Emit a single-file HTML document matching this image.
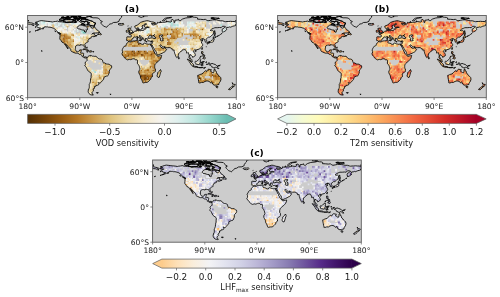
<!DOCTYPE html><html><head><meta charset="utf-8"><style>html,body{margin:0;padding:0;background:#fff;}svg{display:block}</style></head><body>
<svg width="500" height="297" viewBox="0 0 500 297" font-family="'DejaVu Sans','Liberation Sans',sans-serif">
<defs>
<path id="land" d="M7.0 8.5L8.1 8.1L10.1 7.7L9.3 7.3L7.7 6.9L9.9 6.2L11.6 5.6L13.6 5.1L16.2 5.4L18.3 5.7L20.3 5.9L22.6 6.1L24.9 6.5L26.1 6.2L27.8 6.0L30.1 5.6L31.3 6.2L32.5 6.2L34.8 6.5L37.1 6.6L39.4 7.1L41.7 6.9L44.1 7.0L46.4 7.2L48.1 7.0L49.0 6.2L49.9 4.8L51.0 5.1L52.2 6.5L53.3 6.9L55.1 6.2L56.8 6.2L57.1 7.3L55.7 7.9L54.5 8.0L54.2 9.1L53.3 9.4L51.8 9.8L50.7 10.6L49.7 11.7L49.7 12.4L50.7 13.5L52.2 13.5L53.9 14.2L55.1 14.5L56.6 14.6L56.7 15.9L57.7 16.7L58.6 16.6L58.6 15.3L59.7 14.4L60.0 13.2L59.4 12.0L59.4 11.4L59.1 10.4L60.9 10.4L62.0 10.5L63.2 11.0L63.8 12.4L65.2 12.7L66.7 11.6L67.0 11.5L68.1 12.9L68.7 14.1L70.7 15.1L71.3 15.9L71.9 16.7L70.7 16.9L69.6 17.5L67.8 17.4L66.1 17.5L64.9 18.0L64.1 18.7L64.9 18.3L66.1 18.1L67.1 18.3L66.7 19.1L67.0 19.8L68.4 20.1L69.6 19.9L69.0 20.4L67.5 20.8L66.1 21.4L66.1 20.6L65.5 20.7L64.6 21.0L63.7 21.3L63.4 22.0L63.8 22.4L63.2 22.7L62.3 22.8L61.5 23.1L61.5 23.8L60.9 24.1L60.6 24.7L60.3 25.2L60.5 25.8L60.6 26.3L60.0 26.6L59.2 27.0L58.6 27.4L57.7 28.0L57.2 28.7L57.2 29.1L57.6 30.3L57.9 31.4L57.9 31.8L57.7 32.2L57.4 32.2L56.9 31.6L56.4 30.6L56.3 29.9L55.7 29.4L54.8 29.5L53.6 29.2L52.5 29.2L52.6 29.9L51.9 29.9L51.0 29.6L49.9 29.6L49.3 29.8L48.0 30.7L47.9 31.7L47.8 32.9L47.7 34.1L48.0 34.6L48.6 35.7L49.6 36.3L51.0 36.1L51.7 35.6L51.9 34.6L53.3 34.3L53.9 34.3L53.6 35.2L53.5 36.2L53.2 36.7L53.1 37.6L53.9 37.7L55.7 37.6L56.1 38.2L55.9 39.3L55.9 40.5L56.2 41.1L57.1 41.7L58.3 41.3L59.2 41.8L59.5 42.1L59.2 42.7L58.8 42.1L58.0 42.7L57.7 42.2L57.1 42.3L56.2 42.1L55.7 41.4L54.6 41.1L54.7 40.5L54.0 39.6L53.6 39.3L52.8 39.0L51.6 38.8L50.4 37.7L49.3 37.6L48.1 37.7L46.4 37.1L45.2 36.5L44.3 36.2L43.2 35.2L43.3 34.3L42.7 33.3L41.7 32.3L40.9 31.3L40.0 30.6L39.1 29.5L38.6 28.8L37.8 28.3L38.0 29.2L38.6 29.9L39.4 31.1L40.0 32.0L40.3 32.8L40.6 33.5L40.3 33.2L39.4 32.4L39.3 31.5L38.3 30.8L38.1 30.1L37.3 29.2L36.6 28.2L36.4 27.8L35.7 27.0L34.4 26.7L33.7 25.5L33.3 24.8L32.6 24.1L32.2 23.3L32.3 21.7L32.5 19.8L32.1 18.6L33.0 18.6L33.3 18.2L32.2 17.5L31.6 17.3L30.7 17.0L30.1 16.4L29.3 15.6L28.7 15.0L28.1 14.4L27.2 13.5L26.4 12.8L25.5 12.6L24.6 12.3L23.5 11.9L22.3 11.7L20.9 11.7L19.7 11.3L18.6 11.4L17.4 11.2L16.5 11.6L16.5 12.2L15.1 12.6L14.2 13.0L13.3 13.5L12.5 13.9L11.6 14.2L10.4 14.7L8.8 15.0L9.9 14.5L11.0 14.0L12.2 13.2L13.0 12.6L12.5 12.4L11.3 12.4L10.4 11.8L9.0 11.4L8.5 10.9L8.7 10.3L9.0 9.9L10.4 9.7L11.1 9.2L11.0 9.0L9.9 9.1L8.7 9.1L7.8 8.9L7.0 8.5ZM59.5 42.1L59.8 41.9L60.3 41.4L60.6 40.8L61.3 40.4L62.0 40.3L62.6 39.7L63.0 39.9L62.8 40.5L63.2 40.7L63.8 40.2L64.8 40.7L66.1 40.7L67.2 40.9L68.4 40.7L69.0 41.2L69.6 42.0L70.1 42.6L70.7 43.0L71.9 43.5L73.0 43.6L74.2 44.0L74.8 44.6L75.1 45.8L75.4 46.7L75.7 47.3L76.2 47.6L77.1 47.4L78.6 48.4L80.0 48.6L81.5 48.7L82.0 49.1L82.9 49.8L83.9 50.2L84.1 51.4L83.9 52.3L83.2 53.1L82.6 54.0L81.9 54.6L81.7 55.8L81.7 57.2L81.3 58.1L80.9 59.0L80.6 59.9L80.0 60.4L79.1 60.5L78.3 60.9L77.4 61.1L76.5 61.8L76.2 62.5L76.1 63.7L75.5 64.3L75.1 64.9L74.5 65.5L73.9 66.3L73.3 66.9L72.5 67.5L71.9 67.5L71.2 67.2L70.5 67.2L71.1 67.8L71.3 68.3L71.0 69.3L70.1 69.7L68.4 69.9L68.2 70.8L67.2 71.0L66.7 71.0L67.0 71.9L67.4 72.1L66.7 72.3L66.4 73.4L65.2 74.3L66.1 75.2L64.9 76.3L64.3 77.2L64.6 77.8L64.6 78.7L65.8 79.3L64.9 79.6L63.8 79.4L62.6 79.0L61.5 78.1L60.9 77.2L60.6 76.3L60.6 75.2L61.2 74.3L60.6 74.3L61.5 72.8L61.7 71.9L61.7 71.0L61.7 69.9L61.6 69.0L62.0 68.6L62.3 67.8L62.8 66.3L62.9 64.6L63.0 63.4L63.5 62.2L63.5 60.8L63.7 58.7L63.6 57.8L62.6 57.0L61.5 56.2L60.6 55.5L60.1 54.9L59.7 54.0L59.1 52.8L58.6 51.7L58.0 51.1L57.4 50.5L57.2 49.6L57.9 49.0L58.0 48.7L57.7 48.1L57.4 47.6L58.0 46.4L58.7 45.9L59.4 45.2L59.5 44.7L59.4 43.2L59.1 42.6L59.5 42.1ZM100.9 26.0L102.0 26.3L103.2 26.4L104.3 26.0L105.2 25.5L106.1 25.4L107.2 25.4L108.4 25.2L109.6 25.1L110.3 25.1L110.7 25.2L110.4 25.7L110.6 26.1L110.1 26.8L110.4 27.3L111.0 27.5L111.9 27.7L113.2 28.0L113.6 28.6L114.8 28.9L115.4 29.2L115.9 28.8L115.9 28.2L116.5 27.7L117.1 27.7L117.7 27.9L118.3 28.2L118.8 28.4L120.0 28.6L121.2 28.8L121.7 28.7L122.6 28.5L123.1 28.6L123.2 29.4L123.3 29.7L123.8 30.8L124.4 31.7L124.9 32.9L125.5 34.1L126.0 34.6L125.9 35.5L126.7 36.4L127.2 37.8L127.8 38.5L128.4 39.0L129.4 40.2L129.9 40.8L130.4 40.9L131.6 40.5L132.8 40.3L134.1 40.0L133.9 40.9L133.6 42.0L133.0 43.4L132.2 44.3L131.3 45.3L130.6 45.8L129.6 46.5L129.0 47.3L128.1 48.1L127.5 48.7L127.4 49.3L127.1 50.2L127.1 51.0L127.1 52.0L127.2 52.8L127.8 53.4L127.8 55.2L127.8 55.8L127.0 56.7L125.8 57.4L124.9 58.1L124.6 58.6L124.9 59.9L124.9 61.1L123.8 61.8L123.4 62.2L123.2 63.7L122.3 64.5L121.7 65.2L120.6 66.2L119.7 66.8L119.2 66.9L118.0 66.9L117.1 67.1L115.9 67.4L115.2 67.2L115.0 67.0L115.0 66.3L114.8 66.1L114.4 64.9L113.9 63.8L113.3 63.0L113.1 62.6L112.9 61.7L112.8 60.5L112.8 60.4L112.2 59.3L111.9 58.7L111.3 57.5L111.2 57.1L111.3 55.5L111.7 54.9L112.2 54.0L112.4 53.4L112.0 52.1L111.8 51.1L111.5 50.5L111.3 49.9L110.7 49.0L110.1 48.4L109.7 47.6L109.9 46.4L110.0 45.2L109.9 44.7L109.6 44.6L109.3 44.3L108.4 44.4L107.8 44.4L107.2 43.7L107.0 43.3L106.3 43.2L105.5 43.3L104.9 43.4L104.2 43.7L103.2 44.2L102.6 44.0L102.0 43.9L101.2 44.0L100.0 44.4L99.1 44.0L98.1 43.3L97.4 42.7L96.6 42.0L96.6 41.4L95.8 40.7L95.4 40.2L94.8 39.7L94.6 39.0L94.2 38.3L94.8 37.6L95.0 36.1L94.9 35.5L94.5 34.6L94.8 33.9L95.1 33.1L95.7 32.3L95.9 31.7L96.8 30.7L97.7 30.4L98.6 29.9L98.7 29.1L98.7 28.5L99.1 27.9L100.0 27.2L100.6 26.7L100.9 26.0ZM132.9 54.0L133.5 55.5L133.6 56.1L133.0 57.0L132.8 58.1L132.5 59.0L131.7 61.7L130.4 61.9L129.9 61.4L129.6 60.5L129.5 59.6L130.0 58.7L130.1 57.2L131.0 56.2L131.9 55.5L132.2 54.9L132.9 54.0ZM101.1 25.8L100.7 25.5L100.1 25.1L99.2 25.2L99.2 24.5L98.8 24.2L99.1 23.5L99.2 22.9L99.2 22.0L99.0 21.7L99.7 21.3L101.5 21.4L102.6 21.5L103.3 21.5L103.7 20.8L103.7 20.0L103.1 19.3L102.3 19.0L101.6 18.6L102.6 18.3L103.5 18.4L103.4 17.8L104.3 18.0L105.2 17.5L105.4 17.0L106.4 16.8L107.0 16.1L107.2 15.7L108.4 15.6L109.3 15.5L109.3 14.4L109.0 13.6L109.9 13.4L110.5 13.1L110.4 14.0L110.1 14.7L110.3 15.0L110.7 15.3L111.9 15.1L112.6 15.3L113.9 15.0L115.2 15.0L115.9 14.9L116.6 14.4L116.5 13.6L117.1 13.2L118.0 13.5L118.4 13.3L118.5 12.7L118.0 12.3L118.7 12.1L120.6 12.0L121.7 11.8L120.9 11.6L120.0 11.4L118.8 11.6L117.7 11.8L117.6 11.9L116.8 11.2L116.8 10.0L117.4 9.5L118.8 8.8L119.1 8.6L118.6 8.3L117.1 8.4L116.8 9.1L116.2 9.6L115.4 9.8L114.4 10.4L114.4 11.3L115.3 11.8L114.8 12.2L114.1 12.8L113.9 13.5L113.6 14.0L112.6 14.4L111.8 14.3L111.6 13.8L111.2 13.1L110.9 12.4L110.5 12.0L109.9 12.3L109.0 12.9L108.2 12.9L107.5 12.3L107.2 11.5L107.2 10.6L108.4 10.1L109.6 9.7L110.4 9.1L111.6 8.2L112.5 7.3L113.0 6.8L114.2 6.5L115.4 6.0L117.1 5.7L119.3 5.2L120.9 5.4L122.3 5.9L123.5 6.3L125.5 6.5L127.5 7.2L128.2 7.8L127.5 8.1L126.4 8.2L124.5 7.9L123.8 7.9L124.4 9.1L125.8 9.5L127.8 9.0L129.6 8.2L129.9 6.8L131.0 7.2L133.3 7.0L135.1 6.8L135.7 6.9L138.0 6.6L139.1 6.2L139.5 6.0L141.5 6.3L143.2 6.6L144.1 5.6L143.2 5.0L144.4 4.1L145.5 4.2L146.4 5.3L146.4 7.0L147.2 6.8L147.5 4.7L149.6 4.5L151.0 3.8L151.0 4.7L151.9 5.0L152.5 5.6L153.6 4.4L154.8 3.6L157.7 2.6L159.4 2.3L162.3 2.1L164.8 1.4L167.0 1.8L168.7 1.9L170.1 2.5L169.9 3.7L172.8 3.8L175.7 4.1L177.7 3.8L179.1 4.7L180.3 5.3L182.6 4.9L184.9 4.4L186.7 4.3L189.0 4.5L191.3 5.0L192.5 5.3L194.8 5.3L197.1 6.0L198.0 6.2L199.4 6.0L201.2 6.0L202.9 5.8L204.6 6.0L206.4 6.0L207.5 6.2L208.7 6.5L208.7 8.8L207.8 9.1L208.1 10.0L207.0 10.3L205.2 10.7L204.1 11.2L203.2 11.7L201.7 11.4L200.6 11.9L199.1 11.9L198.8 12.9L198.3 13.5L199.1 14.1L198.3 15.0L197.1 15.9L196.2 16.0L195.2 17.0L194.8 16.1L194.5 14.4L195.1 13.2L196.1 12.9L197.1 11.7L198.0 11.4L196.8 10.8L194.8 10.8L193.6 12.2L191.9 12.0L189.6 12.2L187.3 12.2L185.5 12.9L183.8 13.8L182.6 14.9L184.1 15.3L184.9 15.1L186.1 15.9L185.8 17.0L185.7 18.6L184.6 19.4L183.8 20.3L182.6 21.3L181.5 21.8L180.9 21.6L180.1 22.1L179.5 22.9L178.6 23.5L178.3 24.0L178.8 24.7L179.4 25.5L179.4 26.1L179.1 26.4L178.3 26.6L177.7 26.7L177.6 26.1L177.7 25.2L176.9 24.8L176.7 23.7L176.4 23.5L175.1 23.2L174.8 24.1L174.8 23.0L173.9 23.5L173.3 24.0L172.6 24.2L173.0 24.7L173.3 25.1L174.2 24.8L175.4 25.0L174.2 25.8L173.6 26.4L174.2 27.6L174.5 28.2L175.0 28.8L175.0 29.4L175.1 29.8L174.5 30.5L173.9 31.4L173.7 31.7L173.0 32.4L172.8 32.6L171.9 33.5L170.4 33.9L169.3 34.2L168.7 34.3L168.2 35.1L168.0 34.3L167.0 34.3L166.1 35.1L165.7 35.8L166.1 36.7L166.7 37.3L167.1 37.6L167.5 38.5L167.7 39.0L167.7 40.2L167.0 40.6L166.4 40.9L166.1 41.4L165.1 41.9L165.2 41.1L164.4 40.8L164.1 40.2L163.8 39.9L162.8 39.5L162.6 39.0L162.3 39.6L161.9 41.1L162.5 42.1L162.7 42.9L163.5 43.3L164.3 44.3L164.4 45.5L164.8 46.1L164.4 46.1L163.8 45.8L163.1 45.3L162.5 44.3L162.5 43.7L162.0 42.9L161.3 42.3L161.5 41.1L161.6 39.9L161.3 39.0L161.0 38.2L160.9 37.3L160.1 37.2L159.6 37.7L159.1 37.6L159.0 36.1L158.3 35.2L157.9 34.6L157.6 33.9L156.8 34.1L155.9 34.2L155.5 34.2L154.8 34.3L154.5 35.2L153.6 35.6L153.0 36.3L152.1 37.2L151.4 37.7L150.8 38.2L150.9 39.3L150.6 40.2L150.6 40.9L150.1 41.5L149.7 41.8L149.3 42.2L148.7 41.7L148.6 41.4L148.2 40.5L147.8 39.6L147.5 38.8L147.2 38.2L147.0 37.3L146.7 36.4L146.6 35.8L146.6 34.9L146.5 34.6L146.4 34.2L145.8 34.6L145.2 34.8L144.4 33.9L144.9 33.7L144.1 33.1L143.5 33.0L143.2 32.4L142.6 32.1L141.5 32.1L140.3 32.2L140.0 32.2L138.8 32.1L138.4 32.0L137.6 31.8L137.4 31.1L137.0 31.1L136.2 31.3L135.7 31.3L135.1 31.1L134.5 30.6L133.9 30.1L133.6 29.7L133.0 29.4L132.5 29.4L132.2 29.7L132.5 30.5L133.0 31.2L133.5 31.7L133.8 32.3L134.1 31.7L134.3 32.3L134.3 32.6L134.8 32.8L135.7 32.8L135.9 32.8L136.8 32.0L137.0 31.5L137.0 32.3L137.1 32.7L137.7 33.0L138.3 33.1L139.0 33.8L138.6 34.6L138.3 34.9L137.9 35.5L137.7 35.9L137.1 36.4L136.5 36.6L135.7 37.0L134.5 37.8L133.3 38.2L132.8 38.5L131.6 39.0L130.4 39.5L129.6 39.6L129.4 39.0L129.2 38.5L129.1 37.9L129.0 37.3L129.0 37.0L128.4 36.1L128.1 35.5L127.5 34.9L127.1 34.3L126.8 33.8L126.4 32.9L126.1 32.6L125.5 31.7L124.9 30.5L124.6 29.7L124.4 30.2L124.2 30.6L123.9 30.6L123.6 30.2L123.3 29.7L123.2 29.4L123.1 28.6L124.2 28.6L124.5 27.9L124.6 27.7L124.9 27.1L125.2 26.1L125.2 25.4L124.4 25.4L123.2 25.8L122.0 25.5L121.2 25.5L120.3 25.2L120.1 24.8L119.7 24.4L119.7 23.9L119.5 23.4L119.7 23.1L118.8 23.0L118.3 23.1L117.6 23.1L118.0 23.5L117.4 23.8L117.7 24.5L118.3 24.7L117.7 25.0L117.4 25.5L116.9 25.4L116.7 24.9L116.6 24.5L116.4 24.0L115.9 23.7L115.6 23.2L115.7 22.4L115.1 22.1L114.8 22.0L114.2 21.6L113.9 21.4L113.0 20.8L112.8 20.4L112.2 20.6L112.3 20.1L111.5 20.3L111.5 20.8L112.2 21.4L112.8 22.3L113.7 22.4L114.1 22.8L115.1 23.4L115.0 23.6L114.2 23.2L114.0 23.8L114.3 24.1L113.9 24.4L113.6 24.7L113.4 24.6L113.5 23.8L113.4 23.5L112.9 23.1L112.6 23.0L111.9 22.7L111.5 22.4L110.7 22.0L110.3 21.4L109.5 20.9L108.7 21.3L108.6 21.3L107.8 21.7L107.4 21.5L106.7 21.4L106.1 21.7L106.2 22.3L105.6 22.7L104.8 23.0L104.3 23.8L104.2 23.8L104.5 24.2L103.9 24.9L103.8 24.9L103.2 25.4L102.9 25.4L101.8 25.4L101.1 25.8ZM0.0 6.5L1.7 6.9L2.9 7.3L4.6 7.6L4.9 7.7L6.0 8.2L5.2 8.5L4.3 9.2L2.9 8.8L1.2 8.6L0.0 8.8ZM62.0 0.9L63.8 -0.3L68.4 -1.2L78.3 -1.5L87.0 -2.1L92.8 -1.2L97.4 -0.9L93.9 0.6L93.9 1.8L92.8 2.9L91.6 4.7L91.6 5.6L89.3 6.8L85.8 7.0L84.1 8.2L82.3 8.5L81.2 9.4L80.6 10.0L79.4 11.4L79.1 11.7L78.3 11.6L77.7 11.2L76.5 10.9L75.9 10.6L75.1 9.7L74.8 9.4L74.2 8.8L73.6 8.2L73.3 7.3L73.3 6.8L74.8 6.2L74.2 5.6L73.0 5.3L72.5 4.4L71.6 3.5L70.7 2.6L68.4 2.3L65.5 2.3L62.6 1.5L62.0 0.9ZM66.7 10.6L64.9 10.3L63.2 10.1L62.0 9.4L60.9 9.1L59.1 9.1L60.3 8.2L62.0 7.3L60.9 6.8L59.1 5.9L56.8 6.0L55.1 5.9L52.8 5.3L53.3 4.4L55.1 3.6L58.0 3.7L60.3 4.4L63.2 5.3L64.9 5.9L65.5 6.2L66.1 7.0L67.8 7.6L68.4 7.9L67.2 8.5L67.2 9.4L66.7 10.6ZM58.0 2.1L55.7 2.1L52.2 1.8L51.0 0.9L51.0 -0.3L58.0 -1.2L66.7 -1.5L63.8 0.6L60.9 1.1L59.1 1.5ZM58.0 3.2L54.5 3.1L51.0 3.2L51.0 2.2L54.5 2.1L56.8 2.1L58.0 2.6ZM35.9 5.3L36.5 4.4L38.8 4.1L40.6 4.1L42.9 4.1L45.2 4.1L45.8 5.9L43.5 6.6L41.2 6.6L38.8 6.8L37.1 6.3L35.9 6.2L35.4 5.6ZM31.9 4.8L32.2 3.5L34.8 3.3L37.1 4.1L35.9 5.0L33.0 5.3ZM37.1 2.9L36.5 2.2L39.4 2.1L41.7 2.1L42.9 2.6L40.6 3.1ZM33.6 2.1L36.5 2.1L36.5 1.5L34.2 1.6ZM46.4 2.9L48.7 2.9L48.1 1.8L45.8 2.1ZM51.0 1.2L51.0 -0.3L54.5 -0.3L53.3 0.9ZM44.1 1.2L47.0 1.3L47.5 0.6L44.6 0.4ZM45.8 4.8L48.1 5.0L48.4 3.6L46.4 3.6L45.2 4.1ZM49.3 4.5L50.4 4.7L52.2 3.6L49.9 3.5ZM47.0 6.8L48.7 6.8L48.4 6.0L47.0 6.2ZM54.5 9.5L56.2 9.4L57.7 9.4L55.7 8.5L54.5 8.2L53.3 9.1ZM70.0 19.0L70.7 18.2L71.3 16.9L71.9 16.7L72.2 17.9L73.3 18.1L73.6 18.5L73.8 19.1L73.3 19.6L72.8 19.2L71.9 19.0L70.0 19.0ZM32.8 18.6L31.9 18.3L30.7 17.6L29.9 17.1L30.7 17.3L31.9 17.6L32.5 18.0ZM27.8 16.1L28.4 16.3L27.5 15.3L27.2 15.4ZM55.1 34.1L55.9 33.5L56.8 33.4L58.0 33.4L59.1 33.8L59.4 34.2L60.6 34.6L61.3 35.1L60.6 35.3L59.4 35.3L59.1 34.9L58.3 34.3L57.4 34.2L56.5 33.9L55.7 34.2L55.1 34.1ZM61.2 36.2L62.0 35.3L62.1 35.3L63.8 35.4L64.8 36.1L63.8 36.3L62.9 36.6L61.2 36.2ZM59.0 36.2L60.2 36.4L59.8 36.5L59.1 36.3ZM65.4 36.1L66.3 36.2L66.2 36.4L65.4 36.4ZM13.9 35.1L14.5 35.3L14.5 35.8L14.0 35.8ZM101.0 17.6L102.6 17.2L104.3 17.1L105.2 16.8L105.3 16.0L104.5 15.6L104.1 15.0L103.5 14.4L103.1 13.8L103.3 13.2L102.5 12.6L101.5 12.6L101.0 13.2L100.9 13.8L101.3 14.5L101.6 14.8L102.4 14.7L102.6 15.3L102.6 15.7L101.7 15.7L101.9 16.3L101.3 16.6L102.4 16.8L101.9 16.9L101.0 17.6ZM100.9 16.3L100.9 15.6L101.2 15.0L100.1 14.5L99.4 14.8L98.6 15.1L98.7 15.9L98.4 16.5L98.8 16.7L99.7 16.6L100.7 16.3ZM91.3 9.4L90.4 8.5L91.6 8.0L93.9 8.1L95.7 7.9L96.5 8.6L95.9 9.2L93.9 9.7L92.2 9.5ZM111.0 0.9L112.5 1.5L113.6 2.0L114.8 1.5L116.5 1.1L115.4 0.6L120.0 0.3L118.8 -0.3L114.2 -0.3L111.3 0.0ZM134.8 5.1L136.2 3.8L138.0 2.6L140.9 2.1L144.1 1.8L143.8 2.2L139.7 2.8L138.0 3.8L137.1 5.0L135.7 5.4ZM159.4 0.6L162.3 1.0L165.2 0.9L164.1 0.0L160.6 -0.3ZM183.2 2.6L185.5 3.5L187.3 3.8L191.3 2.9L188.4 2.5L185.5 2.3ZM207.8 5.2L208.7 5.0L208.7 5.3ZM0.0 5.0L1.4 5.2L0.0 5.3ZM186.7 20.0L187.5 19.7L187.3 17.9L187.8 18.2L187.3 16.4L187.3 15.3L187.0 15.1L186.7 16.4L186.6 18.2L186.7 20.0ZM185.5 22.6L186.2 22.4L187.4 22.3L188.7 21.5L188.6 21.0L186.7 20.3L186.4 21.1L185.7 21.6L185.5 22.6ZM186.1 22.8L186.7 23.8L186.1 24.5L186.0 25.8L185.5 26.4L184.9 26.6L183.8 26.7L183.2 27.3L182.6 26.7L181.5 26.8L180.3 27.0L180.9 26.2L182.6 26.1L183.5 25.2L183.8 25.0L184.6 24.8L185.5 23.8L185.5 22.9L186.1 22.8ZM179.7 28.6L180.4 28.5L180.7 27.6L180.3 27.1L179.4 27.4L179.7 28.6ZM181.2 27.6L182.4 27.1L182.0 26.8L181.3 27.0ZM175.0 32.2L174.8 33.2L174.4 34.1L174.0 33.5L174.5 32.3ZM167.3 35.7L168.1 35.2L168.7 35.4L168.1 36.2L167.5 36.2ZM173.9 36.1L175.2 36.1L175.4 37.3L174.8 38.2L176.2 39.0L176.2 39.6L175.1 38.9L174.3 38.6L173.9 37.6ZM175.1 42.9L175.9 42.0L177.1 41.3L177.7 42.6L177.1 43.6L176.2 43.2L175.1 42.9ZM175.1 40.0L175.9 40.4L177.0 39.6L177.2 40.5L176.5 41.1L175.7 41.4L175.1 40.8ZM172.3 42.0L173.6 40.3L173.7 40.6L172.5 42.2ZM167.5 46.1L167.9 45.8L168.7 46.0L169.9 45.1L170.7 44.3L171.3 44.0L172.2 42.9L173.0 43.7L173.3 44.0L172.8 44.4L172.6 46.4L173.3 46.5L172.5 47.3L171.9 48.4L171.6 49.3L170.7 49.0L169.0 48.7L168.2 48.7L168.1 47.9L167.5 47.0L167.5 46.1ZM159.6 43.7L160.9 43.9L162.3 45.5L164.4 47.3L164.9 48.1L165.8 48.7L165.7 50.4L164.9 50.4L163.5 49.3L162.6 47.6L161.6 46.1L160.6 44.9L159.6 43.7ZM165.3 51.0L165.8 50.4L167.2 50.8L168.4 51.0L169.6 51.0L170.7 51.6L170.7 52.1L168.7 51.8L167.0 51.6L165.4 51.0ZM173.6 50.2L174.2 50.2L174.2 48.7L174.8 49.8L175.5 49.8L174.7 48.1L175.8 47.6L174.5 47.6L174.6 46.7L176.8 46.1L173.9 46.5L173.8 47.6L173.2 48.6L173.6 50.2ZM176.2 52.4L178.0 51.9L177.1 52.5L176.2 53.0ZM171.0 52.0L173.3 52.0L175.1 51.8L175.7 52.0L173.3 52.3L171.3 52.2ZM178.3 47.0L178.8 46.1L178.6 47.4ZM178.6 48.7L180.0 49.0L179.1 49.0ZM180.3 47.6L182.0 47.4L182.6 48.9L184.4 47.9L186.1 48.5L188.1 49.2L189.0 50.2L190.0 50.5L189.9 51.7L191.3 53.1L190.1 53.0L189.0 52.0L187.8 51.6L187.3 52.3L186.1 52.3L184.9 51.7L184.4 51.9L184.1 50.8L182.6 49.6L181.5 49.3L180.9 48.6L180.3 47.6ZM190.4 50.2L191.9 49.9L192.6 49.4L192.2 50.2L190.7 50.6ZM170.1 59.9L170.4 62.2L170.7 63.7L171.0 65.5L171.4 66.6L171.0 67.1L172.2 67.5L173.9 66.9L175.9 66.9L177.4 65.9L179.1 65.5L180.3 65.5L182.0 66.1L182.9 67.4L184.1 66.3L184.4 67.2L184.4 67.9L185.2 68.0L185.5 69.0L186.4 69.5L187.5 69.8L188.4 69.2L189.2 69.9L190.1 69.2L191.3 69.0L191.4 67.8L192.0 66.9L192.8 65.8L193.4 63.7L193.0 61.9L191.9 60.8L191.0 60.1L190.4 59.0L189.2 58.1L188.7 56.7L188.6 55.7L187.5 55.2L187.3 53.4L187.0 53.3L186.4 54.6L186.4 55.8L186.0 57.2L185.1 57.2L184.1 56.4L182.9 55.8L183.7 54.1L182.6 54.1L181.2 53.7L180.3 54.1L179.7 54.8L179.4 55.8L178.6 55.8L177.7 55.2L176.8 56.1L175.9 57.1L175.2 57.5L174.5 58.5L173.3 58.7L171.9 59.2L170.7 59.8L170.1 59.9ZM188.2 70.9L190.3 71.0L190.1 72.2L189.5 72.6L188.5 71.7L188.2 70.9ZM204.5 67.2L205.5 68.1L206.1 68.7L207.8 69.1L207.1 70.0L206.4 71.2L205.7 71.2L205.9 70.5L205.2 70.0L205.5 69.0L204.5 67.2ZM204.5 70.8L205.4 71.5L204.6 72.5L203.5 73.3L202.6 74.3L200.9 74.0L201.5 73.1L203.2 72.2L204.1 71.0L204.5 70.8ZM150.6 42.3L150.8 41.2L151.8 42.6L151.6 43.3L151.0 43.4L150.6 42.3ZM68.8 77.1L70.7 77.1L70.4 77.7L69.0 77.5ZM82.3 78.7L83.5 78.8L82.9 79.0ZM109.9 21.7L109.9 22.7L109.3 22.4L109.3 22.0ZM109.9 22.8L110.0 24.0L109.3 24.1L109.1 23.0ZM111.5 24.6L113.4 24.5L113.1 25.4L111.6 24.9ZM118.0 26.1L119.6 26.2L118.6 26.4ZM123.1 26.4L124.4 26.0L123.9 26.7ZM189.6 20.8L190.4 20.4L189.3 21.1ZM7.5 15.6L8.4 15.1L7.8 15.4ZM1.7 16.6L2.9 16.3L2.0 16.6ZM59.1 32.2L59.5 31.4L59.3 32.9ZM57.4 3.9L59.7 3.8L60.0 4.2L58.0 4.3ZM59.4 7.3L60.3 7.4L60.0 6.9ZM48.4 2.9L50.1 2.9L50.1 2.5L48.7 2.5ZM44.1 1.2L46.4 1.0L45.8 0.6L43.8 0.7ZM47.5 1.3L49.3 1.4L49.0 0.9L47.5 0.9ZM48.7 1.6L49.9 1.6L49.6 1.3ZM38.8 1.6L41.7 1.6L41.2 1.0L39.4 1.2ZM39.4 1.1L40.6 0.9L40.0 0.6ZM42.9 1.6L44.1 1.7L43.5 1.4ZM37.7 2.0L38.8 2.0L38.3 1.8ZM35.4 2.5L36.5 2.5L35.9 2.1ZM55.9 10.2L57.1 10.5L56.8 9.9ZM57.7 10.7L58.4 10.5L58.0 10.3ZM58.3 14.1L58.7 13.8L58.3 13.8ZM56.8 15.9L57.5 15.9L57.1 15.7ZM66.4 11.0L67.0 10.8L66.7 10.7ZM14.8 13.5L15.9 13.2L15.4 12.9ZM7.5 11.7L8.4 11.6L7.8 11.5ZM4.9 9.8L6.5 9.9L5.8 9.6ZM132.2 6.5L133.3 6.5L132.8 6.1ZM138.3 5.9L139.4 5.9L138.8 5.6ZM162.3 0.9L164.1 0.7L163.5 0.4ZM183.8 2.9L186.7 2.8L185.5 2.2L183.8 2.3ZM186.1 3.9L187.5 3.9L187.0 3.6ZM190.1 2.9L191.9 3.1L191.3 2.6ZM114.9 13.5L115.3 13.0L115.1 13.0ZM110.7 14.6L111.7 14.3L111.3 14.1L110.7 14.2ZM110.0 14.7L110.6 14.6L110.4 14.3ZM100.3 13.2L100.8 12.6L100.4 12.8ZM103.5 11.8L103.8 11.3L103.5 11.4ZM100.2 10.6L100.6 10.4L100.3 10.4ZM190.7 20.3L191.9 19.7L191.3 19.8ZM193.0 19.1L194.2 17.9L193.6 18.2ZM178.6 31.6L178.7 31.2L178.4 31.4Z"/>
<path id="arctic" d="M66.7 10.6L64.9 10.3L63.2 10.1L62.0 9.4L60.9 9.1L59.1 9.1L60.3 8.2L62.0 7.3L60.9 6.8L59.1 5.9L56.8 6.0L55.1 5.9L52.8 5.3L53.3 4.4L55.1 3.6L58.0 3.7L60.3 4.4L63.2 5.3L64.9 5.9L65.5 6.2L66.1 7.0L67.8 7.6L68.4 7.9L67.2 8.5L67.2 9.4L66.7 10.6ZM58.0 2.1L55.7 2.1L52.2 1.8L51.0 0.9L51.0 -0.3L58.0 -1.2L66.7 -1.5L63.8 0.6L60.9 1.1L59.1 1.5ZM58.0 3.2L54.5 3.1L51.0 3.2L51.0 2.2L54.5 2.1L56.8 2.1L58.0 2.6ZM35.9 5.3L36.5 4.4L38.8 4.1L40.6 4.1L42.9 4.1L45.2 4.1L45.8 5.9L43.5 6.6L41.2 6.6L38.8 6.8L37.1 6.3L35.9 6.2L35.4 5.6ZM31.9 4.8L32.2 3.5L34.8 3.3L37.1 4.1L35.9 5.0L33.0 5.3ZM37.1 2.9L36.5 2.2L39.4 2.1L41.7 2.1L42.9 2.6L40.6 3.1ZM33.6 2.1L36.5 2.1L36.5 1.5L34.2 1.6ZM46.4 2.9L48.7 2.9L48.1 1.8L45.8 2.1ZM51.0 1.2L51.0 -0.3L54.5 -0.3L53.3 0.9ZM44.1 1.2L47.0 1.3L47.5 0.6L44.6 0.4ZM45.8 4.8L48.1 5.0L48.4 3.6L46.4 3.6L45.2 4.1ZM49.3 4.5L50.4 4.7L52.2 3.6L49.9 3.5ZM47.0 6.8L48.7 6.8L48.4 6.0L47.0 6.2ZM54.5 9.5L56.2 9.4L57.7 9.4L55.7 8.5L54.5 8.2L53.3 9.1ZM57.4 3.9L59.7 3.8L60.0 4.2L58.0 4.3ZM48.4 2.9L50.1 2.9L50.1 2.5L48.7 2.5ZM44.1 1.2L46.4 1.0L45.8 0.6L43.8 0.7ZM47.5 1.3L49.3 1.4L49.0 0.9L47.5 0.9ZM48.7 1.6L49.9 1.6L49.6 1.3ZM38.8 1.6L41.7 1.6L41.2 1.0L39.4 1.2ZM39.4 1.1L40.6 0.9L40.0 0.6ZM42.9 1.6L44.1 1.7L43.5 1.4ZM37.7 2.0L38.8 2.0L38.3 1.8ZM35.4 2.5L36.5 2.5L35.9 2.1Z"/>
<path id="water" d="M131.9 20.0L132.8 19.7L133.9 19.4L135.1 19.5L135.1 20.4L133.9 20.8L134.2 21.5L134.9 22.2L135.1 23.0L135.7 23.0L135.1 23.8L135.6 25.1L133.9 25.4L132.8 25.0L132.7 24.4L133.0 23.4L133.5 23.2L132.9 22.8L132.2 22.0L131.9 21.7L131.8 20.8L131.6 20.6ZM120.6 22.8L120.6 22.0L120.9 21.4L121.6 20.4L122.1 19.7L122.9 19.7L123.8 20.0L123.2 20.3L123.8 20.9L124.9 20.6L125.5 20.4L126.4 19.3L127.1 19.3L125.6 20.2L126.1 20.7L127.4 21.4L128.5 22.5L127.5 22.9L126.4 23.0L125.2 22.5L124.6 22.3L123.5 22.3L122.3 22.8L121.2 22.8Z"/>
<clipPath id="frame"><rect x="0" y="0" width="208.7" height="82.2"/></clipPath>
<clipPath id="landclip"><use href="#land"/></clipPath>
<filter id="soft" x="-5%" y="-5%" width="110%" height="110%"><feGaussianBlur stdDeviation="0.4"/></filter>
<linearGradient id="ga" x1="0" x2="1" y1="0" y2="0"><stop offset="0.000" stop-color="#543005"/><stop offset="0.083" stop-color="#754308"/><stop offset="0.167" stop-color="#975b12"/><stop offset="0.250" stop-color="#b57826"/><stop offset="0.333" stop-color="#cd9d50"/><stop offset="0.417" stop-color="#dfc37e"/><stop offset="0.500" stop-color="#eedbaa"/><stop offset="0.583" stop-color="#f6ebcf"/><stop offset="0.667" stop-color="#f5f3ee"/><stop offset="0.750" stop-color="#e0f0ee"/><stop offset="0.833" stop-color="#c1e8e2"/><stop offset="0.917" stop-color="#95d6cc"/><stop offset="1.000" stop-color="#6abdb2"/></linearGradient>
<linearGradient id="gb" x1="0" x2="1" y1="0" y2="0"><stop offset="0.000" stop-color="#e5f5ef"/><stop offset="0.083" stop-color="#f5fbd2"/><stop offset="0.167" stop-color="#fffbb9"/><stop offset="0.250" stop-color="#feeba1"/><stop offset="0.333" stop-color="#feda8a"/><stop offset="0.417" stop-color="#fdc374"/><stop offset="0.500" stop-color="#fca85e"/><stop offset="0.583" stop-color="#f88950"/><stop offset="0.667" stop-color="#f26841"/><stop offset="0.750" stop-color="#e44c34"/><stop offset="0.833" stop-color="#d42d27"/><stop offset="0.917" stop-color="#bd1726"/><stop offset="1.000" stop-color="#a50026"/></linearGradient>
<linearGradient id="gc" x1="0" x2="1" y1="0" y2="0"><stop offset="0.000" stop-color="#fdcc8c"/><stop offset="0.083" stop-color="#fee1b9"/><stop offset="0.167" stop-color="#faeedc"/><stop offset="0.250" stop-color="#f3f3f5"/><stop offset="0.333" stop-color="#e2e3ef"/><stop offset="0.417" stop-color="#d1d1e6"/><stop offset="0.500" stop-color="#bcb7d8"/><stop offset="0.583" stop-color="#a39bc7"/><stop offset="0.667" stop-color="#887cb2"/><stop offset="0.750" stop-color="#6f559e"/><stop offset="0.833" stop-color="#572b8a"/><stop offset="0.917" stop-color="#41146a"/><stop offset="1.000" stop-color="#2d004b"/></linearGradient>
</defs>
<g transform="translate(27.6,15.5)">
<g clip-path="url(#frame)">
<rect x="0" y="0" width="208.7" height="82.2" fill="#cccccc"/>
<g clip-path="url(#landclip)"><g filter="url(#soft)">
<path fill="#543005" d="M105.8 36.7h1.7v1.8h-1.7zM117.4 61.6h1.7v1.8h-1.7z"/>
<path fill="#543005" d="M110.1 35.2h1.7v1.8h-1.7zM172.5 61.6h1.7v1.8h-1.7z"/>
<path fill="#5f3606" d="M104.3 35.2h1.7v1.8h-1.7z"/>
<path fill="#633906" d="M100.0 39.6h1.7v1.8h-1.7zM171.0 61.6h1.7v1.8h-1.7z"/>
<path fill="#6a3d07" d="M105.8 39.6h1.7v1.8h-1.7zM111.6 60.2h3.2v1.8h-3.2zM111.6 61.6h1.7v1.8h-1.7z"/>
<path fill="#6e4007" d="M139.1 17.6h1.7v1.8h-1.7zM110.1 27.9h1.7v1.8h-1.7zM120.3 61.6h1.7v1.8h-1.7zM115.9 63.1h1.7v1.8h-1.7z"/>
<path fill="#754308" d="M113.0 38.2h1.7v1.8h-1.7zM179.7 54.3h1.7v1.8h-1.7zM117.4 58.7h1.7v1.8h-1.7z"/>
<path fill="#794608" d="M143.5 13.2h1.7v1.8h-1.7zM115.9 35.2h1.7v1.8h-1.7zM124.6 54.3h1.7v1.8h-1.7zM113.0 58.7h1.7v1.8h-1.7zM118.8 60.2h1.7v1.8h-1.7z"/>
<path fill="#804a09" d="M114.5 38.2h1.7v1.8h-1.7zM123.2 38.2h1.7v1.8h-1.7zM115.9 58.7h1.7v1.8h-1.7zM169.6 58.7h1.7v1.8h-1.7zM189.9 60.2h1.7v1.8h-1.7zM115.9 61.6h1.7v1.8h-1.7zM117.4 63.1h1.7v1.8h-1.7zM169.6 64.6h1.7v1.8h-1.7z"/>
<path fill="#874e0a" d="M104.3 23.5h1.7v1.8h-1.7zM118.8 36.7h1.7v1.8h-1.7zM184.1 58.7h1.7v1.8h-1.7zM114.5 60.2h1.7v1.8h-1.7zM124.6 60.2h1.7v1.8h-1.7zM118.8 63.1h1.7v1.8h-1.7zM123.2 63.1h1.7v1.8h-1.7z"/>
<path fill="#8b500a" d="M142.0 17.6h1.7v1.8h-1.7zM133.3 19.1h1.7v1.8h-1.7zM105.8 25.0h1.7v1.8h-1.7zM114.5 39.6h1.7v1.8h-1.7zM97.1 41.1h1.7v1.8h-1.7zM114.5 58.7h1.7v1.8h-1.7zM115.9 60.2h1.7v1.8h-1.7zM172.5 63.1h1.7v1.8h-1.7z"/>
<path fill="#91560d" d="M124.6 58.7h1.7v1.8h-1.7zM120.3 63.1h1.7v1.8h-1.7z"/>
<path fill="#955910" d="M105.8 29.4h1.7v1.8h-1.7zM117.4 36.7h1.7v1.8h-1.7zM104.3 38.2h1.7v1.8h-1.7zM113.0 39.6h1.7v1.8h-1.7zM188.4 55.8h1.7v1.8h-1.7zM110.1 57.2h1.7v1.8h-1.7zM117.4 60.2h1.7v1.8h-1.7zM123.2 60.2h1.7v1.8h-1.7zM187.0 60.2h1.7v1.8h-1.7zM184.1 67.5h1.7v1.8h-1.7z"/>
<path fill="#9b5f14" d="M173.9 13.2h1.7v1.8h-1.7zM34.8 22.0h1.7v1.8h-1.7zM110.1 25.0h1.7v1.8h-1.7zM140.6 26.4h1.7v1.8h-1.7zM104.3 29.4h1.7v1.8h-1.7zM111.6 35.2h1.7v1.8h-1.7zM108.7 36.7h4.6v1.8h-4.6zM94.2 39.6h1.7v1.8h-1.7zM130.4 42.6h1.7v1.8h-1.7zM127.5 45.5h1.7v1.8h-1.7zM187.0 58.7h1.7v1.8h-1.7zM169.6 60.2h1.7v1.8h-1.7zM185.5 60.2h1.7v1.8h-1.7z"/>
<path fill="#9f6317" d="M146.4 22.0h1.7v1.8h-1.7zM98.6 25.0h1.7v1.8h-1.7zM139.1 27.9h1.7v1.8h-1.7zM105.8 35.2h1.7v1.8h-1.7zM126.1 36.7h1.7v1.8h-1.7zM100.0 38.2h1.7v1.8h-1.7zM98.6 39.6h1.7v1.8h-1.7zM104.3 39.6h1.7v1.8h-1.7zM131.9 41.1h1.7v1.8h-1.7zM120.3 60.2h3.2v1.8h-3.2zM114.5 61.6h1.7v1.8h-1.7z"/>
<path fill="#a5691b" d="M166.7 17.6h1.7v1.8h-1.7zM33.3 19.1h1.7v1.8h-1.7zM36.2 19.1h1.7v1.8h-1.7zM36.2 20.5h1.7v1.8h-1.7zM143.5 20.5h1.7v1.8h-1.7zM168.1 20.5h1.7v1.8h-1.7zM144.9 22.0h1.7v1.8h-1.7zM111.6 27.9h1.7v1.8h-1.7zM140.6 27.9h1.7v1.8h-1.7zM126.1 35.2h1.7v1.8h-1.7zM123.2 36.7h1.7v1.8h-1.7zM102.9 38.2h1.7v1.8h-1.7zM105.8 38.2h1.7v1.8h-1.7zM108.7 38.2h1.7v1.8h-1.7zM107.2 39.6h1.7v1.8h-1.7zM129.0 45.5h1.7v1.8h-1.7zM121.7 49.9h1.7v1.8h-1.7zM121.7 51.4h1.7v1.8h-1.7zM118.8 54.3h1.7v1.8h-1.7zM182.6 57.2h1.7v1.8h-1.7zM118.8 58.7h3.2v1.8h-3.2zM185.5 58.7h1.7v1.8h-1.7zM72.5 61.6h1.7v1.8h-1.7zM176.8 63.1h1.7v1.8h-1.7zM178.3 64.6h1.7v1.8h-1.7zM185.5 66.1h1.7v1.8h-1.7z"/>
<path fill="#a96c1e" d="M153.6 17.6h1.7v1.8h-1.7zM118.8 19.1h1.7v1.8h-1.7zM146.4 20.5h1.7v1.8h-1.7zM40.6 22.0h1.7v1.8h-1.7zM34.8 23.5h1.7v1.8h-1.7zM36.2 25.0h1.7v1.8h-1.7zM110.1 26.4h1.7v1.8h-1.7zM139.1 26.4h1.7v1.8h-1.7zM36.2 27.9h1.7v1.8h-1.7zM142.0 32.3h1.7v1.8h-1.7zM102.9 35.2h1.7v1.8h-1.7zM102.9 36.7h1.7v1.8h-1.7zM115.9 36.7h1.7v1.8h-1.7zM124.6 36.7h1.7v1.8h-1.7zM108.7 39.6h1.7v1.8h-1.7zM131.9 42.6h1.7v1.8h-1.7zM124.6 47.0h1.7v1.8h-1.7zM179.7 52.8h1.7v1.8h-1.7zM113.0 54.3h1.7v1.8h-1.7zM120.3 54.3h1.7v1.8h-1.7zM182.6 55.8h1.7v1.8h-1.7zM121.7 58.7h3.2v1.8h-3.2zM188.4 60.2h1.7v1.8h-1.7zM113.0 61.6h1.7v1.8h-1.7zM188.4 61.6h1.7v1.8h-1.7zM114.5 63.1h1.7v1.8h-1.7zM117.4 64.6h1.7v1.8h-1.7zM117.4 66.1h1.7v1.8h-1.7z"/>
<path fill="#af7222" d="M144.9 14.7h1.7v1.8h-1.7zM162.3 17.6h1.7v1.8h-1.7zM162.3 19.1h1.7v1.8h-1.7zM165.2 19.1h1.7v1.8h-1.7zM144.9 20.5h1.7v1.8h-1.7zM149.3 20.5h1.7v1.8h-1.7zM171.0 20.5h1.7v1.8h-1.7zM37.7 22.0h1.7v1.8h-1.7zM142.0 22.0h1.7v1.8h-1.7zM36.2 23.5h1.7v1.8h-1.7zM134.8 23.5h1.7v1.8h-1.7zM139.1 23.5h3.2v1.8h-3.2zM34.8 26.4h1.7v1.8h-1.7zM111.6 26.4h1.7v1.8h-1.7zM101.5 27.9h1.7v1.8h-1.7zM108.7 29.4h1.7v1.8h-1.7zM39.1 32.3h1.7v1.8h-1.7zM163.8 32.3h1.7v1.8h-1.7zM98.6 36.7h1.7v1.8h-1.7zM97.1 38.2h1.7v1.8h-1.7zM101.5 38.2h1.7v1.8h-1.7zM121.7 38.2h1.7v1.8h-1.7zM124.6 38.2h1.7v1.8h-1.7zM97.1 39.6h1.7v1.8h-1.7zM115.9 39.6h1.7v1.8h-1.7zM123.2 39.6h1.7v1.8h-1.7zM130.4 41.1h1.7v1.8h-1.7zM127.5 44.0h1.7v1.8h-1.7zM76.8 48.4h1.7v1.8h-1.7zM81.2 55.8h1.7v1.8h-1.7zM184.1 55.8h1.7v1.8h-1.7zM71.0 61.6h1.7v1.8h-1.7zM114.5 64.6h1.7v1.8h-1.7zM172.5 64.6h1.7v1.8h-1.7zM184.1 66.1h1.7v1.8h-1.7z"/>
<path fill="#b57826" d="M136.2 13.2h1.7v1.8h-1.7zM144.9 16.1h1.7v1.8h-1.7zM34.8 19.1h1.7v1.8h-1.7zM37.7 20.5h1.7v1.8h-1.7zM36.2 22.0h1.7v1.8h-1.7zM143.5 22.0h1.7v1.8h-1.7zM171.0 22.0h1.7v1.8h-1.7zM104.3 25.0h1.7v1.8h-1.7zM140.6 25.0h1.7v1.8h-1.7zM142.0 26.4h1.7v1.8h-1.7zM142.0 27.9h1.7v1.8h-1.7zM107.2 29.4h1.7v1.8h-1.7zM130.4 33.8h3.2v1.8h-3.2zM98.6 35.2h1.7v1.8h-1.7zM117.4 35.2h1.7v1.8h-1.7zM95.7 36.7h1.7v1.8h-1.7zM100.0 36.7h3.2v1.8h-3.2zM104.3 36.7h1.7v1.8h-1.7zM107.2 38.2h1.7v1.8h-1.7zM95.7 39.6h1.7v1.8h-1.7zM121.7 39.6h1.7v1.8h-1.7zM133.3 41.1h1.7v1.8h-1.7zM129.0 44.0h1.7v1.8h-1.7zM124.6 49.9h1.7v1.8h-1.7zM126.1 51.4h1.7v1.8h-1.7zM127.5 52.8h1.7v1.8h-1.7zM188.4 57.2h1.7v1.8h-1.7zM182.6 58.7h1.7v1.8h-1.7zM171.0 60.2h1.7v1.8h-1.7zM188.4 63.1h1.7v1.8h-1.7zM176.8 64.6h1.7v1.8h-1.7zM182.6 64.6h1.7v1.8h-1.7zM188.4 67.5h3.2v1.8h-3.2z"/>
<path fill="#b97b29" d="M136.2 11.7h1.7v1.8h-1.7zM147.8 13.2h1.7v1.8h-1.7zM166.7 14.7h1.7v1.8h-1.7zM147.8 16.1h1.7v1.8h-1.7zM134.8 17.6h1.7v1.8h-1.7zM143.5 17.6h1.7v1.8h-1.7zM149.3 17.6h1.7v1.8h-1.7zM163.8 17.6h1.7v1.8h-1.7zM143.5 19.1h1.7v1.8h-1.7zM149.3 19.1h1.7v1.8h-1.7zM169.6 19.1h1.7v1.8h-1.7zM39.1 20.5h4.6v1.8h-4.6zM134.8 20.5h1.7v1.8h-1.7zM165.2 22.0h1.7v1.8h-1.7zM31.9 23.5h1.7v1.8h-1.7zM44.9 25.0h1.7v1.8h-1.7zM108.7 25.0h1.7v1.8h-1.7zM36.2 26.4h1.7v1.8h-1.7zM102.9 27.9h1.7v1.8h-1.7zM53.6 33.8h1.7v1.8h-1.7zM113.0 35.2h1.7v1.8h-1.7zM121.7 35.2h1.7v1.8h-1.7zM124.6 35.2h1.7v1.8h-1.7zM110.1 38.2h1.7v1.8h-1.7zM102.9 39.6h1.7v1.8h-1.7zM127.5 54.3h1.7v1.8h-1.7zM111.6 58.7h1.7v1.8h-1.7zM189.9 58.7h1.7v1.8h-1.7zM182.6 60.2h1.7v1.8h-1.7zM187.0 61.6h1.7v1.8h-1.7zM189.9 61.6h1.7v1.8h-1.7zM175.4 64.6h1.7v1.8h-1.7zM115.9 66.1h1.7v1.8h-1.7zM189.9 69.0h1.7v1.8h-1.7z"/>
<path fill="#bf812d" d="M59.4 10.3h1.7v1.8h-1.7zM137.7 13.2h1.7v1.8h-1.7zM149.3 14.7h1.7v1.8h-1.7zM30.4 17.6h1.7v1.8h-1.7zM36.2 17.6h1.7v1.8h-1.7zM123.2 17.6h1.7v1.8h-1.7zM150.7 17.6h1.7v1.8h-1.7zM168.1 17.6h1.7v1.8h-1.7zM123.2 19.1h1.7v1.8h-1.7zM131.9 19.1h1.7v1.8h-1.7zM166.7 19.1h1.7v1.8h-1.7zM172.5 20.5h1.7v1.8h-1.7zM39.1 22.0h1.7v1.8h-1.7zM98.6 23.5h1.7v1.8h-1.7zM34.8 25.0h1.7v1.8h-1.7zM39.1 26.4h1.7v1.8h-1.7zM40.6 29.4h1.7v1.8h-1.7zM100.0 35.2h1.7v1.8h-1.7zM107.2 36.7h1.7v1.8h-1.7zM94.2 38.2h1.7v1.8h-1.7zM108.7 44.0h1.7v1.8h-1.7zM124.6 44.0h3.2v1.8h-3.2zM124.6 45.5h1.7v1.8h-1.7zM126.1 48.4h1.7v1.8h-1.7zM124.6 51.4h1.7v1.8h-1.7zM118.8 52.8h3.2v1.8h-3.2zM117.4 54.3h1.7v1.8h-1.7zM79.7 55.8h1.7v1.8h-1.7zM110.1 55.8h1.7v1.8h-1.7zM115.9 55.8h1.7v1.8h-1.7zM76.8 57.2h1.7v1.8h-1.7zM81.2 57.2h1.7v1.8h-1.7zM181.2 58.7h1.7v1.8h-1.7zM188.4 58.7h1.7v1.8h-1.7zM123.2 61.6h1.7v1.8h-1.7zM184.1 64.6h1.7v1.8h-1.7zM173.9 66.1h1.7v1.8h-1.7zM65.2 71.9h1.7v1.8h-1.7z"/>
<path fill="#c28633" d="M136.2 14.7h1.7v1.8h-1.7zM120.3 17.6h1.7v1.8h-1.7zM147.8 17.6h1.7v1.8h-1.7zM165.2 17.6h1.7v1.8h-1.7zM37.7 19.1h1.7v1.8h-1.7zM44.9 19.1h1.7v1.8h-1.7zM127.5 19.1h1.7v1.8h-1.7zM130.4 19.1h1.7v1.8h-1.7zM136.2 19.1h1.7v1.8h-1.7zM144.9 19.1h1.7v1.8h-1.7zM102.9 23.5h1.7v1.8h-1.7zM111.6 23.5h1.7v1.8h-1.7zM33.3 26.4h1.7v1.8h-1.7zM104.3 26.4h1.7v1.8h-1.7zM95.7 29.4h3.2v1.8h-3.2zM130.4 32.3h1.7v1.8h-1.7zM134.8 32.3h1.7v1.8h-1.7zM134.8 33.8h1.7v1.8h-1.7zM137.7 33.8h1.7v1.8h-1.7zM97.1 35.2h1.7v1.8h-1.7zM101.5 35.2h1.7v1.8h-1.7zM108.7 35.2h1.7v1.8h-1.7zM98.6 38.2h1.7v1.8h-1.7zM111.6 38.2h1.7v1.8h-1.7zM117.4 38.2h1.7v1.8h-1.7zM120.3 39.6h1.7v1.8h-1.7zM124.6 39.6h3.2v1.8h-3.2zM115.9 41.1h1.7v1.8h-1.7zM123.2 41.1h1.7v1.8h-1.7zM123.2 42.6h1.7v1.8h-1.7zM124.6 48.4h1.7v1.8h-1.7zM114.5 52.8h1.7v1.8h-1.7zM126.1 54.3h1.7v1.8h-1.7zM76.8 55.8h1.7v1.8h-1.7zM111.6 55.8h1.7v1.8h-1.7zM111.6 57.2h1.7v1.8h-1.7zM118.8 57.2h1.7v1.8h-1.7zM173.9 57.2h1.7v1.8h-1.7zM75.4 61.6h1.7v1.8h-1.7zM191.3 61.6h3.2v1.8h-3.2zM187.0 63.1h1.7v1.8h-1.7zM189.9 63.1h1.7v1.8h-1.7zM173.9 64.6h1.7v1.8h-1.7z"/>
<path fill="#c58e3d" d="M140.6 13.2h1.7v1.8h-1.7zM129.0 14.7h1.7v1.8h-1.7zM146.4 16.1h1.7v1.8h-1.7zM33.3 17.6h1.7v1.8h-1.7zM130.4 17.6h3.2v1.8h-3.2zM136.2 17.6h1.7v1.8h-1.7zM146.4 19.1h1.7v1.8h-1.7zM172.5 19.1h1.7v1.8h-1.7zM129.0 20.5h1.7v1.8h-1.7zM105.8 22.0h1.7v1.8h-1.7zM130.4 22.0h1.7v1.8h-1.7zM44.9 23.5h1.7v1.8h-1.7zM37.7 25.0h3.2v1.8h-3.2zM101.5 25.0h1.7v1.8h-1.7zM107.2 25.0h1.7v1.8h-1.7zM102.9 26.4h1.7v1.8h-1.7zM108.7 26.4h1.7v1.8h-1.7zM37.7 27.9h1.7v1.8h-1.7zM43.5 29.4h1.7v1.8h-1.7zM111.6 29.4h1.7v1.8h-1.7zM37.7 30.8h3.2v1.8h-3.2zM127.5 32.3h1.7v1.8h-1.7zM131.9 32.3h1.7v1.8h-1.7zM118.8 38.2h3.2v1.8h-3.2zM101.5 39.6h1.7v1.8h-1.7zM118.8 39.6h1.7v1.8h-1.7zM124.6 41.1h3.2v1.8h-3.2zM129.0 41.1h1.7v1.8h-1.7zM126.1 45.5h1.7v1.8h-1.7zM123.2 49.9h1.7v1.8h-1.7zM81.2 52.8h1.7v1.8h-1.7zM126.1 52.8h1.7v1.8h-1.7zM120.3 55.8h3.2v1.8h-3.2zM178.3 55.8h1.7v1.8h-1.7zM78.3 57.2h1.7v1.8h-1.7zM176.8 57.2h1.7v1.8h-1.7zM121.7 61.6h1.7v1.8h-1.7zM113.0 63.1h1.7v1.8h-1.7zM181.2 63.1h1.7v1.8h-1.7zM191.3 63.1h1.7v1.8h-1.7zM171.0 64.6h1.7v1.8h-1.7zM65.2 66.1h1.7v1.8h-1.7zM114.5 66.1h1.7v1.8h-1.7zM66.7 67.5h1.7v1.8h-1.7z"/>
<path fill="#c89343" d="M139.1 13.2h1.7v1.8h-1.7zM147.8 14.7h1.7v1.8h-1.7zM149.3 16.1h1.7v1.8h-1.7zM137.7 17.6h1.7v1.8h-1.7zM144.9 17.6h1.7v1.8h-1.7zM169.6 17.6h1.7v1.8h-1.7zM137.7 19.1h1.7v1.8h-1.7zM153.6 19.1h1.7v1.8h-1.7zM33.3 20.5h1.7v1.8h-1.7zM127.5 20.5h1.7v1.8h-1.7zM130.4 20.5h1.7v1.8h-1.7zM131.9 22.0h1.7v1.8h-1.7zM139.1 22.0h1.7v1.8h-1.7zM147.8 22.0h1.7v1.8h-1.7zM33.3 23.5h1.7v1.8h-1.7zM37.7 23.5h1.7v1.8h-1.7zM100.0 23.5h3.2v1.8h-3.2zM114.5 23.5h1.7v1.8h-1.7zM143.5 26.4h1.7v1.8h-1.7zM42.0 27.9h1.7v1.8h-1.7zM143.5 32.3h1.7v1.8h-1.7zM52.2 33.8h1.7v1.8h-1.7zM123.2 35.2h1.7v1.8h-1.7zM114.5 36.7h1.7v1.8h-1.7zM120.3 36.7h1.7v1.8h-1.7zM95.7 38.2h1.7v1.8h-1.7zM115.9 38.2h1.7v1.8h-1.7zM101.5 41.1h1.7v1.8h-1.7zM118.8 41.1h1.7v1.8h-1.7zM102.9 42.6h1.7v1.8h-1.7zM118.8 42.6h1.7v1.8h-1.7zM123.2 45.5h1.7v1.8h-1.7zM123.2 47.0h1.7v1.8h-1.7zM126.1 47.0h1.7v1.8h-1.7zM76.8 52.8h3.2v1.8h-3.2zM76.8 54.3h3.2v1.8h-3.2zM115.9 54.3h1.7v1.8h-1.7zM113.0 55.8h1.7v1.8h-1.7zM117.4 55.8h1.7v1.8h-1.7zM176.8 55.8h1.7v1.8h-1.7zM79.7 57.2h1.7v1.8h-1.7zM175.4 57.2h1.7v1.8h-1.7zM185.5 61.6h1.7v1.8h-1.7zM182.6 63.1h1.7v1.8h-1.7zM185.5 63.1h1.7v1.8h-1.7zM192.8 63.1h1.7v1.8h-1.7zM63.8 66.1h1.7v1.8h-1.7zM182.6 66.1h1.7v1.8h-1.7z"/>
<path fill="#cc9a4c" d="M24.6 10.3h1.7v1.8h-1.7zM26.1 14.7h1.7v1.8h-1.7zM137.7 14.7h1.7v1.8h-1.7zM146.4 14.7h1.7v1.8h-1.7zM150.7 14.7h1.7v1.8h-1.7zM165.2 14.7h1.7v1.8h-1.7zM165.2 16.1h1.7v1.8h-1.7zM31.9 17.6h1.7v1.8h-1.7zM37.7 17.6h1.7v1.8h-1.7zM129.0 17.6h1.7v1.8h-1.7zM156.5 17.6h1.7v1.8h-1.7zM159.4 17.6h1.7v1.8h-1.7zM105.8 19.1h1.7v1.8h-1.7zM134.8 19.1h1.7v1.8h-1.7zM168.1 19.1h1.7v1.8h-1.7zM31.9 20.5h1.7v1.8h-1.7zM98.6 20.5h1.7v1.8h-1.7zM126.1 20.5h1.7v1.8h-1.7zM42.0 22.0h1.7v1.8h-1.7zM129.0 22.0h1.7v1.8h-1.7zM158.0 22.0h1.7v1.8h-1.7zM39.1 23.5h1.7v1.8h-1.7zM129.0 25.0h1.7v1.8h-1.7zM107.2 26.4h1.7v1.8h-1.7zM40.6 27.9h1.7v1.8h-1.7zM118.8 29.4h1.7v1.8h-1.7zM129.0 32.3h1.7v1.8h-1.7zM133.3 32.3h1.7v1.8h-1.7zM133.3 33.8h1.7v1.8h-1.7zM114.5 35.2h1.7v1.8h-1.7zM126.1 38.2h1.7v1.8h-1.7zM117.4 39.6h1.7v1.8h-1.7zM95.7 41.1h1.7v1.8h-1.7zM102.9 41.1h1.7v1.8h-1.7zM98.6 42.6h1.7v1.8h-1.7zM124.6 42.6h1.7v1.8h-1.7zM127.5 42.6h1.7v1.8h-1.7zM121.7 45.5h1.7v1.8h-1.7zM75.4 49.9h1.7v1.8h-1.7zM181.2 52.8h1.7v1.8h-1.7zM182.6 54.3h1.7v1.8h-1.7zM75.4 57.2h1.7v1.8h-1.7zM117.4 57.2h1.7v1.8h-1.7zM121.7 57.2h3.2v1.8h-3.2zM130.4 57.2h1.7v1.8h-1.7zM187.0 57.2h1.7v1.8h-1.7zM71.0 58.7h1.7v1.8h-1.7zM75.4 60.2h1.7v1.8h-1.7zM173.9 60.2h3.2v1.8h-3.2zM175.4 61.6h1.7v1.8h-1.7zM113.0 64.6h1.7v1.8h-1.7zM185.5 64.6h1.7v1.8h-1.7zM175.4 66.1h1.7v1.8h-1.7z"/>
<path fill="#cfa256" d="M146.4 13.2h1.7v1.8h-1.7zM43.5 17.6h1.7v1.8h-1.7zM104.3 17.6h1.7v1.8h-1.7zM176.8 17.6h1.7v1.8h-1.7zM43.5 19.1h1.7v1.8h-1.7zM121.7 19.1h1.7v1.8h-1.7zM147.8 19.1h1.7v1.8h-1.7zM133.3 20.5h1.7v1.8h-1.7zM147.8 20.5h1.7v1.8h-1.7zM59.4 22.0h1.7v1.8h-1.7zM136.2 22.0h3.2v1.8h-3.2zM166.7 22.0h1.7v1.8h-1.7zM172.5 22.0h1.7v1.8h-1.7zM40.6 26.4h1.7v1.8h-1.7zM100.0 26.4h1.7v1.8h-1.7zM39.1 27.9h1.7v1.8h-1.7zM42.0 29.4h1.7v1.8h-1.7zM100.0 29.4h3.2v1.8h-3.2zM110.1 29.4h1.7v1.8h-1.7zM130.4 29.4h1.7v1.8h-1.7zM43.5 30.8h1.7v1.8h-1.7zM139.1 30.8h1.7v1.8h-1.7zM55.1 33.8h1.7v1.8h-1.7zM127.5 33.8h3.2v1.8h-3.2zM163.8 33.8h1.7v1.8h-1.7zM46.4 35.2h1.7v1.8h-1.7zM120.3 35.2h1.7v1.8h-1.7zM152.2 35.2h1.7v1.8h-1.7zM113.0 36.7h1.7v1.8h-1.7zM121.7 36.7h1.7v1.8h-1.7zM100.0 42.6h1.7v1.8h-1.7zM121.7 42.6h1.7v1.8h-1.7zM100.0 44.0h1.7v1.8h-1.7zM126.1 49.9h1.7v1.8h-1.7zM75.4 52.8h1.7v1.8h-1.7zM75.4 54.3h1.7v1.8h-1.7zM111.6 54.3h1.7v1.8h-1.7zM114.5 55.8h1.7v1.8h-1.7zM118.8 55.8h1.7v1.8h-1.7zM123.2 55.8h1.7v1.8h-1.7zM131.9 55.8h1.7v1.8h-1.7zM181.2 57.2h1.7v1.8h-1.7zM172.5 58.7h3.2v1.8h-3.2zM71.0 60.2h1.7v1.8h-1.7zM191.3 60.2h1.7v1.8h-1.7zM178.3 63.1h1.7v1.8h-1.7zM187.0 64.6h1.7v1.8h-1.7zM191.3 64.6h1.7v1.8h-1.7zM187.0 69.0h3.2v1.8h-3.2zM200.0 73.4h1.7v1.8h-1.7z"/>
<path fill="#d2a75c" d="M176.8 8.8h1.7v1.8h-1.7zM147.8 11.7h3.2v1.8h-3.2zM175.4 11.7h1.7v1.8h-1.7zM150.7 13.2h1.7v1.8h-1.7zM155.1 13.2h1.7v1.8h-1.7zM168.1 13.2h1.7v1.8h-1.7zM136.2 16.1h1.7v1.8h-1.7zM139.1 16.1h1.7v1.8h-1.7zM150.7 16.1h3.2v1.8h-3.2zM166.7 16.1h1.7v1.8h-1.7zM34.8 17.6h1.7v1.8h-1.7zM102.9 17.6h1.7v1.8h-1.7zM105.8 17.6h1.7v1.8h-1.7zM121.7 17.6h1.7v1.8h-1.7zM146.4 17.6h1.7v1.8h-1.7zM158.0 17.6h1.7v1.8h-1.7zM160.9 17.6h1.7v1.8h-1.7zM31.9 19.1h1.7v1.8h-1.7zM39.1 19.1h1.7v1.8h-1.7zM129.0 19.1h1.7v1.8h-1.7zM33.3 22.0h1.7v1.8h-1.7zM168.1 22.0h1.7v1.8h-1.7zM42.0 23.5h1.7v1.8h-1.7zM129.0 23.5h1.7v1.8h-1.7zM143.5 23.5h1.7v1.8h-1.7zM43.5 25.0h1.7v1.8h-1.7zM102.9 25.0h1.7v1.8h-1.7zM134.8 25.0h1.7v1.8h-1.7zM42.0 26.4h1.7v1.8h-1.7zM131.9 26.4h1.7v1.8h-1.7zM134.8 26.4h1.7v1.8h-1.7zM105.8 27.9h1.7v1.8h-1.7zM114.5 29.4h1.7v1.8h-1.7zM127.5 29.4h1.7v1.8h-1.7zM131.9 29.4h1.7v1.8h-1.7zM40.6 30.8h3.2v1.8h-3.2zM140.6 30.8h1.7v1.8h-1.7zM44.9 35.2h1.7v1.8h-1.7zM44.9 36.7h3.2v1.8h-3.2zM52.2 36.7h1.7v1.8h-1.7zM50.7 38.2h1.7v1.8h-1.7zM110.1 39.6h1.7v1.8h-1.7zM117.4 42.6h1.7v1.8h-1.7zM81.2 48.4h1.7v1.8h-1.7zM123.2 48.4h1.7v1.8h-1.7zM82.6 52.8h1.7v1.8h-1.7zM123.2 54.3h1.7v1.8h-1.7zM178.3 54.3h1.7v1.8h-1.7zM181.2 54.3h1.7v1.8h-1.7zM78.3 55.8h1.7v1.8h-1.7zM175.4 55.8h1.7v1.8h-1.7zM113.0 57.2h1.7v1.8h-1.7zM172.5 57.2h1.7v1.8h-1.7zM171.0 58.7h1.7v1.8h-1.7zM175.4 58.7h3.2v1.8h-3.2zM169.6 61.6h1.7v1.8h-1.7zM62.3 63.1h1.7v1.8h-1.7zM75.4 63.1h1.7v1.8h-1.7zM179.7 63.1h1.7v1.8h-1.7zM179.7 64.6h1.7v1.8h-1.7zM68.1 66.1h1.7v1.8h-1.7zM72.5 66.1h1.7v1.8h-1.7zM171.0 66.1h3.2v1.8h-3.2zM176.8 66.1h1.7v1.8h-1.7zM66.7 69.0h1.7v1.8h-1.7zM185.5 69.0h1.7v1.8h-1.7z"/>
<path fill="#d6af65" d="M140.6 11.7h1.7v1.8h-1.7zM152.2 11.7h1.7v1.8h-1.7zM173.9 11.7h1.7v1.8h-1.7zM142.0 13.2h1.7v1.8h-1.7zM144.9 13.2h1.7v1.8h-1.7zM172.5 13.2h1.7v1.8h-1.7zM133.3 14.7h1.7v1.8h-1.7zM55.1 20.5h1.7v1.8h-1.7zM100.0 20.5h1.7v1.8h-1.7zM150.7 20.5h3.2v1.8h-3.2zM31.9 22.0h1.7v1.8h-1.7zM101.5 22.0h1.7v1.8h-1.7zM127.5 22.0h1.7v1.8h-1.7zM108.7 23.5h1.7v1.8h-1.7zM40.6 25.0h3.2v1.8h-3.2zM113.0 25.0h1.7v1.8h-1.7zM133.3 25.0h1.7v1.8h-1.7zM37.7 26.4h1.7v1.8h-1.7zM133.3 26.4h1.7v1.8h-1.7zM107.2 27.9h1.7v1.8h-1.7zM102.9 29.4h1.7v1.8h-1.7zM113.0 29.4h1.7v1.8h-1.7zM140.6 29.4h1.7v1.8h-1.7zM131.9 30.8h1.7v1.8h-1.7zM58.0 32.3h1.7v1.8h-1.7zM136.2 32.3h1.7v1.8h-1.7zM62.3 35.2h1.7v1.8h-1.7zM95.7 35.2h1.7v1.8h-1.7zM47.8 36.7h1.7v1.8h-1.7zM127.5 36.7h1.7v1.8h-1.7zM127.5 38.2h3.2v1.8h-3.2zM111.6 39.6h1.7v1.8h-1.7zM126.1 42.6h1.7v1.8h-1.7zM123.2 44.0h1.7v1.8h-1.7zM76.8 49.9h1.7v1.8h-1.7zM79.7 49.9h3.2v1.8h-3.2zM113.0 49.9h1.7v1.8h-1.7zM75.4 51.4h3.2v1.8h-3.2zM117.4 52.8h1.7v1.8h-1.7zM121.7 54.3h1.7v1.8h-1.7zM124.6 55.8h1.7v1.8h-1.7zM130.4 55.8h1.7v1.8h-1.7zM181.2 55.8h1.7v1.8h-1.7zM120.3 57.2h1.7v1.8h-1.7zM178.3 57.2h1.7v1.8h-1.7zM169.6 63.1h1.7v1.8h-1.7zM118.8 64.6h1.7v1.8h-1.7zM188.4 66.1h1.7v1.8h-1.7zM68.1 67.5h1.7v1.8h-1.7zM187.0 67.5h1.7v1.8h-1.7z"/>
<path fill="#d8b46c" d="M114.5 5.9h1.7v1.8h-1.7zM110.1 7.3h1.7v1.8h-1.7zM95.7 8.8h1.7v1.8h-1.7zM118.8 10.3h1.7v1.8h-1.7zM129.0 10.3h1.7v1.8h-1.7zM176.8 10.3h1.7v1.8h-1.7zM101.5 13.2h1.7v1.8h-1.7zM133.3 13.2h1.7v1.8h-1.7zM108.7 14.7h1.7v1.8h-1.7zM127.5 16.1h1.7v1.8h-1.7zM72.5 17.6h1.7v1.8h-1.7zM108.7 17.6h1.7v1.8h-1.7zM140.6 17.6h1.7v1.8h-1.7zM108.7 19.1h1.7v1.8h-1.7zM124.6 19.1h1.7v1.8h-1.7zM105.8 20.5h1.7v1.8h-1.7zM134.8 22.0h1.7v1.8h-1.7zM43.5 23.5h1.7v1.8h-1.7zM113.0 23.5h1.7v1.8h-1.7zM126.1 23.5h1.7v1.8h-1.7zM163.8 23.5h1.7v1.8h-1.7zM59.4 25.0h1.7v1.8h-1.7zM124.6 25.0h1.7v1.8h-1.7zM130.4 26.4h1.7v1.8h-1.7zM100.0 27.9h1.7v1.8h-1.7zM108.7 27.9h1.7v1.8h-1.7zM118.8 27.9h1.7v1.8h-1.7zM131.9 27.9h3.2v1.8h-3.2zM36.2 29.4h1.7v1.8h-1.7zM39.1 29.4h1.7v1.8h-1.7zM115.9 29.4h1.7v1.8h-1.7zM133.3 30.8h1.7v1.8h-1.7zM124.6 33.8h3.2v1.8h-3.2zM52.2 35.2h1.7v1.8h-1.7zM94.2 35.2h1.7v1.8h-1.7zM130.4 35.2h1.7v1.8h-1.7zM165.2 35.2h1.7v1.8h-1.7zM130.4 39.6h1.7v1.8h-1.7zM59.4 41.1h1.7v1.8h-1.7zM100.0 41.1h1.7v1.8h-1.7zM120.3 41.1h3.2v1.8h-3.2zM129.0 42.6h1.7v1.8h-1.7zM75.4 45.5h1.7v1.8h-1.7zM121.7 52.8h3.2v1.8h-3.2zM182.6 52.8h1.7v1.8h-1.7zM75.4 55.8h1.7v1.8h-1.7zM115.9 57.2h1.7v1.8h-1.7zM188.4 64.6h3.2v1.8h-3.2zM66.7 66.1h1.7v1.8h-1.7zM185.5 67.5h1.7v1.8h-1.7zM191.3 67.5h1.7v1.8h-1.7zM189.9 70.5h1.7v1.8h-1.7z"/>
<path fill="#dcbc75" d="M111.6 5.9h1.7v1.8h-1.7zM168.1 7.3h1.7v1.8h-1.7zM39.1 10.3h1.7v1.8h-1.7zM152.2 13.2h1.7v1.8h-1.7zM175.4 13.2h1.7v1.8h-1.7zM123.2 14.7h1.7v1.8h-1.7zM152.2 14.7h1.7v1.8h-1.7zM129.0 16.1h1.7v1.8h-1.7zM137.7 16.1h1.7v1.8h-1.7zM133.3 17.6h1.7v1.8h-1.7zM40.6 19.1h1.7v1.8h-1.7zM102.9 19.1h1.7v1.8h-1.7zM58.0 20.5h1.7v1.8h-1.7zM108.7 20.5h1.7v1.8h-1.7zM137.7 20.5h1.7v1.8h-1.7zM175.4 20.5h1.7v1.8h-1.7zM58.0 22.0h1.7v1.8h-1.7zM111.6 22.0h1.7v1.8h-1.7zM124.6 22.0h1.7v1.8h-1.7zM169.6 22.0h1.7v1.8h-1.7zM146.4 23.5h1.7v1.8h-1.7zM143.5 25.0h1.7v1.8h-1.7zM168.1 25.0h1.7v1.8h-1.7zM43.5 26.4h1.7v1.8h-1.7zM55.1 26.4h1.7v1.8h-1.7zM98.6 26.4h1.7v1.8h-1.7zM105.8 26.4h1.7v1.8h-1.7zM165.2 27.9h1.7v1.8h-1.7zM137.7 29.4h1.7v1.8h-1.7zM137.7 30.8h1.7v1.8h-1.7zM137.7 32.3h1.7v1.8h-1.7zM162.3 32.3h1.7v1.8h-1.7zM43.5 33.8h3.2v1.8h-3.2zM59.4 33.8h1.7v1.8h-1.7zM136.2 33.8h1.7v1.8h-1.7zM143.5 33.8h1.7v1.8h-1.7zM43.5 35.2h1.7v1.8h-1.7zM94.2 36.7h1.7v1.8h-1.7zM127.5 39.6h1.7v1.8h-1.7zM105.8 41.1h1.7v1.8h-1.7zM127.5 41.1h1.7v1.8h-1.7zM105.8 42.6h1.7v1.8h-1.7zM120.3 42.6h1.7v1.8h-1.7zM130.4 44.0h3.2v1.8h-3.2zM76.8 47.0h1.7v1.8h-1.7zM121.7 47.0h1.7v1.8h-1.7zM82.6 48.4h1.7v1.8h-1.7zM78.3 49.9h1.7v1.8h-1.7zM78.3 51.4h3.2v1.8h-3.2zM82.6 51.4h1.7v1.8h-1.7zM113.0 51.4h1.7v1.8h-1.7zM113.0 52.8h1.7v1.8h-1.7zM114.5 54.3h1.7v1.8h-1.7zM176.8 54.3h1.7v1.8h-1.7zM179.7 55.8h1.7v1.8h-1.7zM124.6 57.2h1.7v1.8h-1.7zM185.5 57.2h1.7v1.8h-1.7zM179.7 58.7h1.7v1.8h-1.7zM63.8 60.2h1.7v1.8h-1.7zM62.3 61.6h1.7v1.8h-1.7zM173.9 63.1h1.7v1.8h-1.7zM68.1 64.6h1.7v1.8h-1.7zM120.3 64.6h3.2v1.8h-3.2zM181.2 64.6h1.7v1.8h-1.7zM120.3 66.1h1.7v1.8h-1.7zM189.9 66.1h1.7v1.8h-1.7zM205.8 70.5h1.7v1.8h-1.7zM63.8 76.3h1.7v1.8h-1.7zM65.2 79.3h1.7v1.8h-1.7z"/>
<path fill="#dec17b" d="M124.6 5.9h1.7v1.8h-1.7zM24.6 8.8h1.7v1.8h-1.7zM65.2 11.7h1.7v1.8h-1.7zM102.9 11.7h1.7v1.8h-1.7zM153.6 13.2h1.7v1.8h-1.7zM100.0 14.7h1.7v1.8h-1.7zM127.5 14.7h1.7v1.8h-1.7zM140.6 14.7h1.7v1.8h-1.7zM123.2 16.1h1.7v1.8h-1.7zM133.3 16.1h3.2v1.8h-3.2zM101.5 17.6h1.7v1.8h-1.7zM101.5 19.1h1.7v1.8h-1.7zM107.2 19.1h1.7v1.8h-1.7zM176.8 19.1h1.7v1.8h-1.7zM111.6 20.5h1.7v1.8h-1.7zM124.6 20.5h1.7v1.8h-1.7zM136.2 20.5h1.7v1.8h-1.7zM60.9 22.0h1.7v1.8h-1.7zM102.9 22.0h3.2v1.8h-3.2zM56.5 23.5h1.7v1.8h-1.7zM117.4 23.5h1.7v1.8h-1.7zM124.6 23.5h1.7v1.8h-1.7zM127.5 23.5h1.7v1.8h-1.7zM142.0 23.5h1.7v1.8h-1.7zM144.9 23.5h1.7v1.8h-1.7zM160.9 23.5h1.7v1.8h-1.7zM166.7 23.5h1.7v1.8h-1.7zM58.0 25.0h1.7v1.8h-1.7zM111.6 25.0h1.7v1.8h-1.7zM115.9 25.0h1.7v1.8h-1.7zM123.2 26.4h1.7v1.8h-1.7zM129.0 26.4h1.7v1.8h-1.7zM149.3 26.4h1.7v1.8h-1.7zM98.6 27.9h1.7v1.8h-1.7zM127.5 27.9h1.7v1.8h-1.7zM143.5 27.9h1.7v1.8h-1.7zM162.3 27.9h1.7v1.8h-1.7zM37.7 29.4h1.7v1.8h-1.7zM117.4 29.4h1.7v1.8h-1.7zM134.8 29.4h1.7v1.8h-1.7zM44.9 32.3h1.7v1.8h-1.7zM55.1 32.3h1.7v1.8h-1.7zM46.4 33.8h1.7v1.8h-1.7zM56.5 33.8h1.7v1.8h-1.7zM47.8 35.2h1.7v1.8h-1.7zM127.5 35.2h1.7v1.8h-1.7zM53.6 36.7h1.7v1.8h-1.7zM130.4 36.7h1.7v1.8h-1.7zM149.3 38.2h1.7v1.8h-1.7zM129.0 39.6h1.7v1.8h-1.7zM133.3 39.6h1.7v1.8h-1.7zM104.3 41.1h1.7v1.8h-1.7zM107.2 41.1h1.7v1.8h-1.7zM110.1 41.1h1.7v1.8h-1.7zM97.1 42.6h1.7v1.8h-1.7zM130.4 45.5h1.7v1.8h-1.7zM75.4 47.0h1.7v1.8h-1.7zM82.6 49.9h1.7v1.8h-1.7zM120.3 51.4h1.7v1.8h-1.7zM59.4 52.8h1.7v1.8h-1.7zM126.1 55.8h1.7v1.8h-1.7zM114.5 57.2h1.7v1.8h-1.7zM76.8 60.2h1.7v1.8h-1.7zM129.0 61.6h1.7v1.8h-1.7zM68.1 63.1h1.7v1.8h-1.7zM63.8 64.6h1.7v1.8h-1.7zM73.9 64.6h1.7v1.8h-1.7zM73.9 66.1h1.7v1.8h-1.7zM204.4 67.5h1.7v1.8h-1.7zM65.2 69.0h1.7v1.8h-1.7z"/>
<path fill="#e1c684" d="M66.7 7.3h1.7v1.8h-1.7zM111.6 7.3h4.6v1.8h-4.6zM126.1 7.3h1.7v1.8h-1.7zM171.0 8.8h1.7v1.8h-1.7zM21.7 11.7h1.7v1.8h-1.7zM100.0 11.7h1.7v1.8h-1.7zM142.0 11.7h1.7v1.8h-1.7zM163.8 11.7h1.7v1.8h-1.7zM172.5 11.7h1.7v1.8h-1.7zM98.6 13.2h1.7v1.8h-1.7zM134.8 14.7h1.7v1.8h-1.7zM155.1 14.7h1.7v1.8h-1.7zM130.4 16.1h1.7v1.8h-1.7zM155.1 16.1h1.7v1.8h-1.7zM163.8 16.1h1.7v1.8h-1.7zM107.2 17.6h1.7v1.8h-1.7zM171.0 17.6h1.7v1.8h-1.7zM120.3 19.1h1.7v1.8h-1.7zM179.7 19.1h1.7v1.8h-1.7zM59.4 20.5h1.7v1.8h-1.7zM102.9 20.5h1.7v1.8h-1.7zM131.9 20.5h1.7v1.8h-1.7zM169.6 20.5h1.7v1.8h-1.7zM123.2 22.0h1.7v1.8h-1.7zM58.0 23.5h1.7v1.8h-1.7zM136.2 23.5h1.7v1.8h-1.7zM100.0 25.0h1.7v1.8h-1.7zM127.5 25.0h1.7v1.8h-1.7zM144.9 25.0h1.7v1.8h-1.7zM127.5 26.4h1.7v1.8h-1.7zM49.3 27.9h1.7v1.8h-1.7zM104.3 27.9h1.7v1.8h-1.7zM123.2 27.9h4.6v1.8h-4.6zM134.8 27.9h1.7v1.8h-1.7zM143.5 29.4h1.7v1.8h-1.7zM146.4 29.4h1.7v1.8h-1.7zM130.4 30.8h1.7v1.8h-1.7zM142.0 30.8h1.7v1.8h-1.7zM172.5 30.8h1.7v1.8h-1.7zM155.1 32.3h1.7v1.8h-1.7zM131.9 35.2h1.7v1.8h-1.7zM137.7 35.2h1.7v1.8h-1.7zM133.3 36.7h1.7v1.8h-1.7zM131.9 38.2h1.7v1.8h-1.7zM117.4 41.1h1.7v1.8h-1.7zM104.3 42.6h1.7v1.8h-1.7zM121.7 44.0h1.7v1.8h-1.7zM56.5 47.0h1.7v1.8h-1.7zM81.2 51.4h1.7v1.8h-1.7zM115.9 51.4h1.7v1.8h-1.7zM118.8 51.4h1.7v1.8h-1.7zM60.9 54.3h1.7v1.8h-1.7zM131.9 54.3h1.7v1.8h-1.7zM133.3 55.8h1.7v1.8h-1.7zM72.5 60.2h3.2v1.8h-3.2zM69.6 61.6h1.7v1.8h-1.7zM63.8 63.1h3.2v1.8h-3.2zM69.6 63.1h4.6v1.8h-4.6zM192.8 64.6h1.7v1.8h-1.7zM68.1 69.0h1.7v1.8h-1.7zM65.2 73.4h1.7v1.8h-1.7zM63.8 77.8h1.7v1.8h-1.7z"/>
<path fill="#e3c989" d="M118.8 4.4h1.7v1.8h-1.7zM95.7 7.3h1.7v1.8h-1.7zM115.9 7.3h3.2v1.8h-3.2zM94.2 8.8h1.7v1.8h-1.7zM118.8 8.8h1.7v1.8h-1.7zM108.7 10.3h1.7v1.8h-1.7zM101.5 11.7h1.7v1.8h-1.7zM150.7 11.7h1.7v1.8h-1.7zM162.3 11.7h1.7v1.8h-1.7zM100.0 13.2h1.7v1.8h-1.7zM127.5 13.2h1.7v1.8h-1.7zM134.8 13.2h1.7v1.8h-1.7zM165.2 13.2h1.7v1.8h-1.7zM139.1 14.7h1.7v1.8h-1.7zM142.0 16.1h1.7v1.8h-1.7zM127.5 17.6h1.7v1.8h-1.7zM152.2 17.6h1.7v1.8h-1.7zM68.1 19.1h1.7v1.8h-1.7zM178.3 19.1h1.7v1.8h-1.7zM107.2 20.5h1.7v1.8h-1.7zM110.1 20.5h1.7v1.8h-1.7zM98.6 22.0h3.2v1.8h-3.2zM120.3 22.0h1.7v1.8h-1.7zM126.1 22.0h1.7v1.8h-1.7zM40.6 23.5h1.7v1.8h-1.7zM59.4 23.5h1.7v1.8h-1.7zM137.7 23.5h1.7v1.8h-1.7zM172.5 23.5h1.7v1.8h-1.7zM55.1 25.0h1.7v1.8h-1.7zM126.1 25.0h1.7v1.8h-1.7zM136.2 25.0h1.7v1.8h-1.7zM142.0 25.0h1.7v1.8h-1.7zM136.2 26.4h1.7v1.8h-1.7zM43.5 27.9h1.7v1.8h-1.7zM120.3 27.9h3.2v1.8h-3.2zM146.4 27.9h1.7v1.8h-1.7zM133.3 29.4h1.7v1.8h-1.7zM129.0 30.8h1.7v1.8h-1.7zM171.0 30.8h1.7v1.8h-1.7zM40.6 32.3h3.2v1.8h-3.2zM56.5 32.3h1.7v1.8h-1.7zM124.6 32.3h1.7v1.8h-1.7zM136.2 35.2h1.7v1.8h-1.7zM97.1 36.7h1.7v1.8h-1.7zM131.9 36.7h1.7v1.8h-1.7zM53.6 38.2h1.7v1.8h-1.7zM130.4 38.2h1.7v1.8h-1.7zM60.9 39.6h1.7v1.8h-1.7zM131.9 39.6h1.7v1.8h-1.7zM108.7 41.1h1.7v1.8h-1.7zM107.2 44.0h1.7v1.8h-1.7zM160.9 44.0h1.7v1.8h-1.7zM127.5 47.0h3.2v1.8h-3.2zM78.3 48.4h3.2v1.8h-3.2zM115.9 52.8h1.7v1.8h-1.7zM81.2 54.3h1.7v1.8h-1.7zM127.5 55.8h3.2v1.8h-3.2zM131.9 57.2h1.7v1.8h-1.7zM179.7 57.2h1.7v1.8h-1.7zM69.6 58.7h1.7v1.8h-1.7zM73.9 58.7h4.6v1.8h-4.6zM130.4 58.7h1.7v1.8h-1.7zM178.3 58.7h1.7v1.8h-1.7zM130.4 61.6h1.7v1.8h-1.7zM173.9 61.6h1.7v1.8h-1.7zM66.7 64.6h1.7v1.8h-1.7zM181.2 66.1h1.7v1.8h-1.7zM204.4 69.0h1.7v1.8h-1.7zM65.2 70.5h1.7v1.8h-1.7zM200.0 71.9h1.7v1.8h-1.7zM63.8 73.4h1.7v1.8h-1.7z"/>
<path fill="#e6cd92" d="M120.3 4.4h1.7v1.8h-1.7zM124.6 7.3h1.7v1.8h-1.7zM111.6 8.8h3.2v1.8h-3.2zM127.5 8.8h1.7v1.8h-1.7zM114.5 10.3h1.7v1.8h-1.7zM169.6 10.3h1.7v1.8h-1.7zM23.2 11.7h1.7v1.8h-1.7zM130.4 11.7h1.7v1.8h-1.7zM134.8 11.7h1.7v1.8h-1.7zM155.1 11.7h1.7v1.8h-1.7zM121.7 13.2h1.7v1.8h-1.7zM166.7 13.2h1.7v1.8h-1.7zM131.9 14.7h1.7v1.8h-1.7zM142.0 14.7h1.7v1.8h-1.7zM114.5 16.1h1.7v1.8h-1.7zM140.6 16.1h1.7v1.8h-1.7zM104.3 19.1h1.7v1.8h-1.7zM66.7 20.5h1.7v1.8h-1.7zM104.3 20.5h1.7v1.8h-1.7zM53.6 22.0h1.7v1.8h-1.7zM115.9 23.5h1.7v1.8h-1.7zM130.4 23.5h1.7v1.8h-1.7zM171.0 23.5h1.7v1.8h-1.7zM117.4 25.0h1.7v1.8h-1.7zM120.3 25.0h1.7v1.8h-1.7zM123.2 25.0h1.7v1.8h-1.7zM131.9 25.0h1.7v1.8h-1.7zM137.7 25.0h1.7v1.8h-1.7zM44.9 26.4h1.7v1.8h-1.7zM144.9 26.4h1.7v1.8h-1.7zM44.9 27.9h1.7v1.8h-1.7zM114.5 27.9h1.7v1.8h-1.7zM117.4 27.9h1.7v1.8h-1.7zM147.8 27.9h1.7v1.8h-1.7zM44.9 29.4h1.7v1.8h-1.7zM136.2 29.4h1.7v1.8h-1.7zM139.1 29.4h1.7v1.8h-1.7zM136.2 30.8h1.7v1.8h-1.7zM143.5 30.8h3.2v1.8h-3.2zM165.2 32.3h1.7v1.8h-1.7zM165.2 33.8h1.7v1.8h-1.7zM50.7 35.2h1.7v1.8h-1.7zM173.9 35.2h1.7v1.8h-1.7zM55.1 36.7h1.7v1.8h-1.7zM68.1 42.6h1.7v1.8h-1.7zM72.5 42.6h1.7v1.8h-1.7zM107.2 42.6h1.7v1.8h-1.7zM111.6 42.6h1.7v1.8h-1.7zM78.3 47.0h1.7v1.8h-1.7zM108.7 47.0h1.7v1.8h-1.7zM56.5 48.4h1.7v1.8h-1.7zM75.4 48.4h1.7v1.8h-1.7zM121.7 48.4h1.7v1.8h-1.7zM127.5 48.4h1.7v1.8h-1.7zM79.7 52.8h1.7v1.8h-1.7zM133.3 54.3h1.7v1.8h-1.7zM185.5 54.3h1.7v1.8h-1.7zM60.9 55.8h1.7v1.8h-1.7zM78.3 58.7h1.7v1.8h-1.7zM129.0 60.2h1.7v1.8h-1.7zM68.1 61.6h1.7v1.8h-1.7zM66.7 63.1h1.7v1.8h-1.7zM187.0 66.1h1.7v1.8h-1.7zM63.8 67.5h1.7v1.8h-1.7zM188.4 70.5h1.7v1.8h-1.7zM62.3 73.4h1.7v1.8h-1.7zM201.5 73.4h1.7v1.8h-1.7zM62.3 74.9h1.7v1.8h-1.7z"/>
<path fill="#e8d29a" d="M40.6 4.4h1.7v1.8h-1.7zM113.0 5.9h1.7v1.8h-1.7zM115.9 5.9h1.7v1.8h-1.7zM62.3 10.3h1.7v1.8h-1.7zM107.2 10.3h1.7v1.8h-1.7zM115.9 10.3h1.7v1.8h-1.7zM129.0 11.7h1.7v1.8h-1.7zM133.3 11.7h1.7v1.8h-1.7zM144.9 11.7h1.7v1.8h-1.7zM153.6 11.7h1.7v1.8h-1.7zM171.0 11.7h1.7v1.8h-1.7zM102.9 13.2h1.7v1.8h-1.7zM123.2 13.2h1.7v1.8h-1.7zM71.0 14.7h1.7v1.8h-1.7zM121.7 14.7h1.7v1.8h-1.7zM173.9 14.7h1.7v1.8h-1.7zM33.3 16.1h1.7v1.8h-1.7zM98.6 16.1h3.2v1.8h-3.2zM172.5 16.1h1.7v1.8h-1.7zM178.3 16.1h1.7v1.8h-1.7zM42.0 17.6h1.7v1.8h-1.7zM47.8 17.6h1.7v1.8h-1.7zM69.6 17.6h1.7v1.8h-1.7zM118.8 17.6h1.7v1.8h-1.7zM42.0 19.1h1.7v1.8h-1.7zM50.7 19.1h1.7v1.8h-1.7zM44.9 20.5h1.7v1.8h-1.7zM101.5 20.5h1.7v1.8h-1.7zM173.9 20.5h1.7v1.8h-1.7zM43.5 22.0h1.7v1.8h-1.7zM55.1 23.5h1.7v1.8h-1.7zM159.4 23.5h1.7v1.8h-1.7zM130.4 25.0h1.7v1.8h-1.7zM169.6 25.0h3.2v1.8h-3.2zM50.7 26.4h1.7v1.8h-1.7zM165.2 26.4h1.7v1.8h-1.7zM47.8 27.9h1.7v1.8h-1.7zM50.7 27.9h1.7v1.8h-1.7zM56.5 27.9h1.7v1.8h-1.7zM113.0 27.9h1.7v1.8h-1.7zM136.2 27.9h3.2v1.8h-3.2zM144.9 27.9h1.7v1.8h-1.7zM47.8 29.4h1.7v1.8h-1.7zM142.0 29.4h1.7v1.8h-1.7zM144.9 29.4h1.7v1.8h-1.7zM134.8 30.8h1.7v1.8h-1.7zM43.5 32.3h1.7v1.8h-1.7zM147.8 33.8h1.7v1.8h-1.7zM42.0 35.2h1.7v1.8h-1.7zM50.7 36.7h1.7v1.8h-1.7zM134.8 36.7h1.7v1.8h-1.7zM147.8 38.2h1.7v1.8h-1.7zM108.7 42.6h1.7v1.8h-1.7zM58.0 52.8h1.7v1.8h-1.7zM62.3 54.3h1.7v1.8h-1.7zM187.0 54.3h1.7v1.8h-1.7zM185.5 55.8h1.7v1.8h-1.7zM62.3 57.2h1.7v1.8h-1.7zM65.2 58.7h1.7v1.8h-1.7zM62.3 60.2h1.7v1.8h-1.7zM78.3 60.2h1.7v1.8h-1.7zM172.5 60.2h1.7v1.8h-1.7zM65.2 61.6h3.2v1.8h-3.2zM65.2 67.5h1.7v1.8h-1.7zM63.8 70.5h1.7v1.8h-1.7zM188.4 71.9h1.7v1.8h-1.7zM63.8 74.9h3.2v1.8h-3.2zM63.8 79.3h1.7v1.8h-1.7z"/>
<path fill="#ead59f" d="M62.3 5.9h1.7v1.8h-1.7zM126.1 5.9h1.7v1.8h-1.7zM173.9 5.9h1.7v1.8h-1.7zM202.9 5.9h1.7v1.8h-1.7zM176.8 7.3h1.7v1.8h-1.7zM114.5 8.8h1.7v1.8h-1.7zM110.1 10.3h1.7v1.8h-1.7zM121.7 11.7h1.7v1.8h-1.7zM126.1 11.7h1.7v1.8h-1.7zM165.2 11.7h1.7v1.8h-1.7zM200.0 11.7h1.7v1.8h-1.7zM184.1 13.2h1.7v1.8h-1.7zM69.6 14.7h1.7v1.8h-1.7zM98.6 14.7h1.7v1.8h-1.7zM126.1 16.1h1.7v1.8h-1.7zM162.3 16.1h1.7v1.8h-1.7zM182.6 16.1h1.7v1.8h-1.7zM40.6 17.6h1.7v1.8h-1.7zM172.5 17.6h1.7v1.8h-1.7zM59.4 19.1h1.7v1.8h-1.7zM113.0 19.1h3.2v1.8h-3.2zM62.3 20.5h1.7v1.8h-1.7zM123.2 20.5h1.7v1.8h-1.7zM55.1 22.0h1.7v1.8h-1.7zM123.2 23.5h1.7v1.8h-1.7zM165.2 23.5h1.7v1.8h-1.7zM118.8 25.0h1.7v1.8h-1.7zM166.7 25.0h1.7v1.8h-1.7zM56.5 26.4h3.2v1.8h-3.2zM162.3 26.4h1.7v1.8h-1.7zM55.1 27.9h1.7v1.8h-1.7zM130.4 27.9h1.7v1.8h-1.7zM166.7 27.9h3.2v1.8h-3.2zM56.5 29.4h1.7v1.8h-1.7zM126.1 29.4h1.7v1.8h-1.7zM147.8 29.4h3.2v1.8h-3.2zM147.8 30.8h1.7v1.8h-1.7zM149.3 32.3h1.7v1.8h-1.7zM158.0 32.3h1.7v1.8h-1.7zM166.7 32.3h1.7v1.8h-1.7zM60.9 33.8h1.7v1.8h-1.7zM134.8 35.2h1.7v1.8h-1.7zM173.9 36.7h1.7v1.8h-1.7zM53.6 41.1h1.7v1.8h-1.7zM56.5 41.1h1.7v1.8h-1.7zM62.3 41.1h1.7v1.8h-1.7zM65.2 42.6h1.7v1.8h-1.7zM175.4 42.6h1.7v1.8h-1.7zM65.2 44.0h1.7v1.8h-1.7zM98.6 44.0h1.7v1.8h-1.7zM108.7 45.5h1.7v1.8h-1.7zM115.9 49.9h1.7v1.8h-1.7zM58.0 51.4h1.7v1.8h-1.7zM185.5 52.8h3.2v1.8h-3.2zM66.7 54.3h1.7v1.8h-1.7zM63.8 55.8h1.7v1.8h-1.7zM63.8 58.7h1.7v1.8h-1.7zM79.7 58.7h1.7v1.8h-1.7zM131.9 58.7h1.7v1.8h-1.7zM131.9 60.2h1.7v1.8h-1.7zM63.8 61.6h1.7v1.8h-1.7zM184.1 63.1h1.7v1.8h-1.7zM71.0 66.1h1.7v1.8h-1.7zM69.6 69.0h1.7v1.8h-1.7zM189.9 71.9h1.7v1.8h-1.7zM60.9 74.9h1.7v1.8h-1.7zM65.2 77.8h1.7v1.8h-1.7z"/>
<path fill="#edd9a8" d="M115.9 4.4h1.7v1.8h-1.7zM176.8 5.9h1.7v1.8h-1.7zM175.4 7.3h1.7v1.8h-1.7zM46.4 8.8h1.7v1.8h-1.7zM110.1 8.8h1.7v1.8h-1.7zM111.6 10.3h1.7v1.8h-1.7zM182.6 10.3h1.7v1.8h-1.7zM108.7 11.7h1.7v1.8h-1.7zM123.2 11.7h1.7v1.8h-1.7zM166.7 11.7h1.7v1.8h-1.7zM27.5 13.2h1.7v1.8h-1.7zM36.2 13.2h1.7v1.8h-1.7zM27.5 14.7h1.7v1.8h-1.7zM105.8 14.7h1.7v1.8h-1.7zM173.9 16.1h1.7v1.8h-1.7zM126.1 17.6h1.7v1.8h-1.7zM63.8 19.1h1.7v1.8h-1.7zM126.1 19.1h1.7v1.8h-1.7zM150.7 19.1h1.7v1.8h-1.7zM56.5 20.5h1.7v1.8h-1.7zM68.1 20.5h1.7v1.8h-1.7zM114.5 20.5h1.7v1.8h-1.7zM117.4 20.5h1.7v1.8h-1.7zM52.2 22.0h1.7v1.8h-1.7zM118.8 23.5h1.7v1.8h-1.7zM169.6 23.5h1.7v1.8h-1.7zM172.5 25.0h1.7v1.8h-1.7zM137.7 26.4h1.7v1.8h-1.7zM160.9 26.4h1.7v1.8h-1.7zM163.8 26.4h1.7v1.8h-1.7zM129.0 27.9h1.7v1.8h-1.7zM163.8 27.9h1.7v1.8h-1.7zM165.2 29.4h1.7v1.8h-1.7zM59.4 30.8h1.7v1.8h-1.7zM42.0 33.8h1.7v1.8h-1.7zM129.0 36.7h1.7v1.8h-1.7zM55.1 41.1h1.7v1.8h-1.7zM65.2 41.1h1.7v1.8h-1.7zM114.5 42.6h1.7v1.8h-1.7zM160.9 42.6h1.7v1.8h-1.7zM65.2 45.5h1.7v1.8h-1.7zM163.8 48.4h1.7v1.8h-1.7zM110.1 49.9h1.7v1.8h-1.7zM173.9 51.4h1.7v1.8h-1.7zM62.3 52.8h1.7v1.8h-1.7zM68.1 54.3h1.7v1.8h-1.7zM130.4 54.3h1.7v1.8h-1.7zM65.2 57.2h1.7v1.8h-1.7zM68.1 58.7h1.7v1.8h-1.7zM72.5 58.7h1.7v1.8h-1.7zM130.4 60.2h1.7v1.8h-1.7zM69.6 66.1h1.7v1.8h-1.7zM63.8 69.0h1.7v1.8h-1.7zM68.1 70.5h1.7v1.8h-1.7zM59.4 76.3h1.7v1.8h-1.7z"/>
<path fill="#efdcad" d="M63.8 7.3h3.2v1.8h-3.2zM37.7 8.8h1.7v1.8h-1.7zM115.9 8.8h3.2v1.8h-3.2zM169.6 8.8h1.7v1.8h-1.7zM58.0 10.3h1.7v1.8h-1.7zM121.7 10.3h1.7v1.8h-1.7zM168.1 10.3h1.7v1.8h-1.7zM24.6 11.7h1.7v1.8h-1.7zM27.5 11.7h1.7v1.8h-1.7zM124.6 11.7h1.7v1.8h-1.7zM158.0 11.7h1.7v1.8h-1.7zM169.6 11.7h1.7v1.8h-1.7zM68.1 13.2h1.7v1.8h-1.7zM108.7 13.2h1.7v1.8h-1.7zM130.4 13.2h1.7v1.8h-1.7zM68.1 14.7h1.7v1.8h-1.7zM107.2 14.7h1.7v1.8h-1.7zM110.1 14.7h1.7v1.8h-1.7zM153.6 14.7h1.7v1.8h-1.7zM184.1 14.7h1.7v1.8h-1.7zM42.0 16.1h1.7v1.8h-1.7zM69.6 16.1h1.7v1.8h-1.7zM104.3 16.1h1.7v1.8h-1.7zM168.1 16.1h1.7v1.8h-1.7zM171.0 16.1h1.7v1.8h-1.7zM176.8 16.1h1.7v1.8h-1.7zM50.7 17.6h1.7v1.8h-1.7zM66.7 17.6h1.7v1.8h-1.7zM71.0 17.6h1.7v1.8h-1.7zM173.9 17.6h1.7v1.8h-1.7zM62.3 19.1h1.7v1.8h-1.7zM65.2 19.1h1.7v1.8h-1.7zM72.5 19.1h1.7v1.8h-1.7zM152.2 19.1h1.7v1.8h-1.7zM173.9 19.1h1.7v1.8h-1.7zM113.0 20.5h1.7v1.8h-1.7zM108.7 22.0h1.7v1.8h-1.7zM120.3 23.5h1.7v1.8h-1.7zM131.9 23.5h1.7v1.8h-1.7zM162.3 23.5h1.7v1.8h-1.7zM168.1 23.5h1.7v1.8h-1.7zM121.7 25.0h1.7v1.8h-1.7zM165.2 25.0h1.7v1.8h-1.7zM181.2 26.4h1.7v1.8h-1.7zM160.9 27.9h1.7v1.8h-1.7zM46.4 29.4h1.7v1.8h-1.7zM49.3 29.4h1.7v1.8h-1.7zM171.0 29.4h1.7v1.8h-1.7zM46.4 30.8h1.7v1.8h-1.7zM144.9 32.3h1.7v1.8h-1.7zM172.5 32.3h1.7v1.8h-1.7zM50.7 33.8h1.7v1.8h-1.7zM146.4 33.8h1.7v1.8h-1.7zM133.3 35.2h1.7v1.8h-1.7zM149.3 35.2h1.7v1.8h-1.7zM158.0 35.2h1.7v1.8h-1.7zM150.7 38.2h1.7v1.8h-1.7zM68.1 39.6h1.7v1.8h-1.7zM149.3 39.6h1.7v1.8h-1.7zM66.7 41.1h1.7v1.8h-1.7zM113.0 41.1h1.7v1.8h-1.7zM66.7 42.6h1.7v1.8h-1.7zM110.1 42.6h1.7v1.8h-1.7zM58.0 47.0h1.7v1.8h-1.7zM71.0 47.0h1.7v1.8h-1.7zM59.4 48.4h1.7v1.8h-1.7zM58.0 49.9h1.7v1.8h-1.7zM117.4 49.9h1.7v1.8h-1.7zM120.3 49.9h1.7v1.8h-1.7zM60.9 51.4h1.7v1.8h-1.7zM59.4 54.3h1.7v1.8h-1.7zM62.3 58.7h1.7v1.8h-1.7zM129.0 58.7h1.7v1.8h-1.7zM66.7 60.2h3.2v1.8h-3.2zM60.9 70.5h1.7v1.8h-1.7z"/>
<path fill="#f1e1b5" d="M117.4 5.9h1.7v1.8h-1.7zM1.4 7.3h1.7v1.8h-1.7zM152.2 7.3h1.7v1.8h-1.7zM107.2 8.8h3.2v1.8h-3.2zM26.1 10.3h1.7v1.8h-1.7zM47.8 10.3h1.7v1.8h-1.7zM113.0 10.3h1.7v1.8h-1.7zM120.3 10.3h1.7v1.8h-1.7zM156.5 11.7h1.7v1.8h-1.7zM182.6 11.7h1.7v1.8h-1.7zM117.4 13.2h1.7v1.8h-1.7zM156.5 13.2h1.7v1.8h-1.7zM104.3 14.7h1.7v1.8h-1.7zM172.5 14.7h1.7v1.8h-1.7zM176.8 14.7h1.7v1.8h-1.7zM185.5 14.7h1.7v1.8h-1.7zM27.5 16.1h1.7v1.8h-1.7zM110.1 16.1h1.7v1.8h-1.7zM121.7 16.1h1.7v1.8h-1.7zM124.6 16.1h1.7v1.8h-1.7zM158.0 16.1h1.7v1.8h-1.7zM187.0 16.1h1.7v1.8h-1.7zM111.6 17.6h1.7v1.8h-1.7zM187.0 17.6h1.7v1.8h-1.7zM175.4 19.1h1.7v1.8h-1.7zM176.8 22.0h1.7v1.8h-1.7zM52.2 25.0h1.7v1.8h-1.7zM124.6 26.4h3.2v1.8h-3.2zM176.8 26.4h1.7v1.8h-1.7zM179.7 26.4h1.7v1.8h-1.7zM179.7 27.9h1.7v1.8h-1.7zM52.2 29.4h1.7v1.8h-1.7zM162.3 29.4h1.7v1.8h-1.7zM172.5 29.4h1.7v1.8h-1.7zM58.0 30.8h1.7v1.8h-1.7zM126.1 30.8h1.7v1.8h-1.7zM146.4 30.8h1.7v1.8h-1.7zM162.3 30.8h1.7v1.8h-1.7zM46.4 32.3h1.7v1.8h-1.7zM146.4 32.3h3.2v1.8h-3.2zM60.9 35.2h1.7v1.8h-1.7zM49.3 36.7h1.7v1.8h-1.7zM149.3 36.7h1.7v1.8h-1.7zM52.2 38.2h1.7v1.8h-1.7zM165.2 38.2h1.7v1.8h-1.7zM147.8 39.6h1.7v1.8h-1.7zM60.9 41.1h1.7v1.8h-1.7zM63.8 41.1h1.7v1.8h-1.7zM159.4 42.6h1.7v1.8h-1.7zM73.9 44.0h1.7v1.8h-1.7zM159.4 44.0h1.7v1.8h-1.7zM56.5 45.5h1.7v1.8h-1.7zM120.3 48.4h1.7v1.8h-1.7zM111.6 49.9h1.7v1.8h-1.7zM118.8 49.9h1.7v1.8h-1.7zM169.6 49.9h1.7v1.8h-1.7zM59.4 51.4h1.7v1.8h-1.7zM111.6 51.4h1.7v1.8h-1.7zM168.1 51.4h1.7v1.8h-1.7zM187.0 55.8h1.7v1.8h-1.7zM69.6 57.2h1.7v1.8h-1.7zM129.0 57.2h1.7v1.8h-1.7zM66.7 58.7h1.7v1.8h-1.7zM69.6 64.6h1.7v1.8h-1.7zM60.9 69.0h1.7v1.8h-1.7zM60.9 71.9h1.7v1.8h-1.7zM60.9 73.4h1.7v1.8h-1.7zM202.9 73.4h1.7v1.8h-1.7z"/>
<path fill="#f3e4bb" d="M14.5 4.4h1.7v1.8h-1.7zM65.2 5.9h1.7v1.8h-1.7zM175.4 5.9h1.7v1.8h-1.7zM169.6 7.3h1.7v1.8h-1.7zM172.5 7.3h1.7v1.8h-1.7zM182.6 8.8h1.7v1.8h-1.7zM46.4 10.3h1.7v1.8h-1.7zM127.5 11.7h1.7v1.8h-1.7zM26.1 13.2h1.7v1.8h-1.7zM66.7 13.2h1.7v1.8h-1.7zM158.0 13.2h1.7v1.8h-1.7zM176.8 13.2h1.7v1.8h-1.7zM169.6 14.7h1.7v1.8h-1.7zM175.4 14.7h1.7v1.8h-1.7zM178.3 14.7h1.7v1.8h-1.7zM31.9 16.1h1.7v1.8h-1.7zM65.2 17.6h1.7v1.8h-1.7zM110.1 17.6h1.7v1.8h-1.7zM124.6 17.6h1.7v1.8h-1.7zM178.3 20.5h1.7v1.8h-1.7zM56.5 22.0h1.7v1.8h-1.7zM114.5 22.0h1.7v1.8h-1.7zM184.1 23.5h1.7v1.8h-1.7zM53.6 25.0h1.7v1.8h-1.7zM56.5 25.0h1.7v1.8h-1.7zM162.3 25.0h3.2v1.8h-3.2zM117.4 26.4h1.7v1.8h-1.7zM168.1 26.4h1.7v1.8h-1.7zM178.3 26.4h1.7v1.8h-1.7zM53.6 27.9h1.7v1.8h-1.7zM115.9 27.9h1.7v1.8h-1.7zM153.6 29.4h1.7v1.8h-1.7zM163.8 29.4h1.7v1.8h-1.7zM47.8 30.8h1.7v1.8h-1.7zM169.6 30.8h1.7v1.8h-1.7zM47.8 33.8h1.7v1.8h-1.7zM144.9 33.8h1.7v1.8h-1.7zM149.3 33.8h1.7v1.8h-1.7zM156.5 33.8h3.2v1.8h-3.2zM169.6 33.8h1.7v1.8h-1.7zM129.0 35.2h1.7v1.8h-1.7zM150.7 36.7h1.7v1.8h-1.7zM53.6 39.6h1.7v1.8h-1.7zM62.3 39.6h1.7v1.8h-1.7zM68.1 41.1h1.7v1.8h-1.7zM114.5 41.1h1.7v1.8h-1.7zM60.9 42.6h1.7v1.8h-1.7zM69.6 42.6h1.7v1.8h-1.7zM73.9 42.6h1.7v1.8h-1.7zM110.1 44.0h1.7v1.8h-1.7zM162.3 45.5h1.7v1.8h-1.7zM111.6 47.0h1.7v1.8h-1.7zM58.0 48.4h1.7v1.8h-1.7zM110.1 48.4h1.7v1.8h-1.7zM118.8 48.4h1.7v1.8h-1.7zM165.2 48.4h1.7v1.8h-1.7zM114.5 49.9h1.7v1.8h-1.7zM117.4 51.4h1.7v1.8h-1.7zM166.7 51.4h1.7v1.8h-1.7zM65.2 60.2h1.7v1.8h-1.7zM79.7 60.2h1.7v1.8h-1.7zM73.9 61.6h1.7v1.8h-1.7zM71.0 67.5h1.7v1.8h-1.7zM205.8 67.5h1.7v1.8h-1.7zM62.3 70.5h1.7v1.8h-1.7zM202.9 70.5h1.7v1.8h-1.7zM62.3 71.9h1.7v1.8h-1.7zM66.7 71.9h1.7v1.8h-1.7zM204.4 71.9h1.7v1.8h-1.7zM62.3 76.3h1.7v1.8h-1.7z"/>
<path fill="#f6e8c3" d="M63.8 5.9h1.7v1.8h-1.7zM171.0 7.3h1.7v1.8h-1.7zM168.1 8.8h1.7v1.8h-1.7zM173.9 8.8h1.7v1.8h-1.7zM202.9 8.8h1.7v1.8h-1.7zM11.6 11.7h1.7v1.8h-1.7zM124.6 13.2h1.7v1.8h-1.7zM178.3 13.2h1.7v1.8h-1.7zM101.5 14.7h3.2v1.8h-3.2zM126.1 14.7h1.7v1.8h-1.7zM40.6 16.1h1.7v1.8h-1.7zM105.8 16.1h1.7v1.8h-1.7zM108.7 16.1h1.7v1.8h-1.7zM169.6 16.1h1.7v1.8h-1.7zM175.4 16.1h1.7v1.8h-1.7zM113.0 17.6h1.7v1.8h-1.7zM175.4 17.6h1.7v1.8h-1.7zM49.3 19.1h1.7v1.8h-1.7zM66.7 19.1h1.7v1.8h-1.7zM43.5 20.5h1.7v1.8h-1.7zM63.8 20.5h1.7v1.8h-1.7zM176.8 20.5h1.7v1.8h-1.7zM182.6 20.5h1.7v1.8h-1.7zM49.3 22.0h1.7v1.8h-1.7zM113.0 22.0h1.7v1.8h-1.7zM115.9 22.0h1.7v1.8h-1.7zM173.9 22.0h1.7v1.8h-1.7zM182.6 25.0h1.7v1.8h-1.7zM53.6 26.4h1.7v1.8h-1.7zM166.7 26.4h1.7v1.8h-1.7zM169.6 29.4h1.7v1.8h-1.7zM173.9 29.4h1.7v1.8h-1.7zM124.6 30.8h1.7v1.8h-1.7zM166.7 30.8h1.7v1.8h-1.7zM152.2 32.3h1.7v1.8h-1.7zM153.6 33.8h1.7v1.8h-1.7zM168.1 33.8h1.7v1.8h-1.7zM168.1 35.2h1.7v1.8h-1.7zM55.1 38.2h1.7v1.8h-1.7zM175.4 38.2h1.7v1.8h-1.7zM58.0 42.6h1.7v1.8h-1.7zM110.1 45.5h1.7v1.8h-1.7zM169.6 47.0h1.7v1.8h-1.7zM56.5 49.9h1.7v1.8h-1.7zM165.2 49.9h1.7v1.8h-1.7zM71.0 54.3h1.7v1.8h-1.7zM65.2 55.8h1.7v1.8h-1.7zM71.0 57.2h1.7v1.8h-1.7zM62.3 64.6h1.7v1.8h-1.7zM62.3 66.1h1.7v1.8h-1.7zM62.3 67.5h1.7v1.8h-1.7zM62.3 79.3h1.7v1.8h-1.7z"/>
<path fill="#f6e9c7" d="M121.7 4.4h1.7v1.8h-1.7zM118.8 5.9h1.7v1.8h-1.7zM152.2 5.9h1.7v1.8h-1.7zM118.8 7.3h1.7v1.8h-1.7zM150.7 7.3h1.7v1.8h-1.7zM44.9 8.8h1.7v1.8h-1.7zM121.7 8.8h1.7v1.8h-1.7zM117.4 10.3h1.7v1.8h-1.7zM107.2 11.7h1.7v1.8h-1.7zM129.0 13.2h1.7v1.8h-1.7zM111.6 14.7h1.7v1.8h-1.7zM124.6 14.7h1.7v1.8h-1.7zM101.5 16.1h1.7v1.8h-1.7zM107.2 16.1h1.7v1.8h-1.7zM184.1 16.1h1.7v1.8h-1.7zM46.4 19.1h1.7v1.8h-1.7zM58.0 19.1h1.7v1.8h-1.7zM46.4 20.5h1.7v1.8h-1.7zM44.9 22.0h1.7v1.8h-1.7zM121.7 22.0h1.7v1.8h-1.7zM178.3 22.0h1.7v1.8h-1.7zM52.2 23.5h1.7v1.8h-1.7zM121.7 23.5h1.7v1.8h-1.7zM155.1 23.5h1.7v1.8h-1.7zM49.3 26.4h1.7v1.8h-1.7zM169.6 26.4h3.2v1.8h-3.2zM173.9 26.4h1.7v1.8h-1.7zM171.0 27.9h4.6v1.8h-4.6zM149.3 30.8h1.7v1.8h-1.7zM168.1 32.3h1.7v1.8h-1.7zM49.3 35.2h1.7v1.8h-1.7zM63.8 35.2h1.7v1.8h-1.7zM147.8 35.2h1.7v1.8h-1.7zM59.4 39.6h1.7v1.8h-1.7zM59.4 42.6h1.7v1.8h-1.7zM71.0 42.6h1.7v1.8h-1.7zM162.3 42.6h1.7v1.8h-1.7zM160.9 45.5h1.7v1.8h-1.7zM110.1 47.0h1.7v1.8h-1.7zM162.3 47.0h3.2v1.8h-3.2zM111.6 52.8h1.7v1.8h-1.7zM63.8 57.2h1.7v1.8h-1.7zM69.6 67.5h1.7v1.8h-1.7zM202.9 71.9h1.7v1.8h-1.7zM59.4 73.4h1.7v1.8h-1.7zM60.9 76.3h1.7v1.8h-1.7zM62.3 77.8h1.7v1.8h-1.7z"/>
<path fill="#f6ebcd" d="M117.4 4.4h1.7v1.8h-1.7zM42.0 7.3h1.7v1.8h-1.7zM202.9 7.3h1.7v1.8h-1.7zM39.1 8.8h1.7v1.8h-1.7zM126.1 8.8h1.7v1.8h-1.7zM14.5 10.3h1.7v1.8h-1.7zM23.2 10.3h1.7v1.8h-1.7zM50.7 10.3h1.7v1.8h-1.7zM171.0 10.3h1.7v1.8h-1.7zM205.8 10.3h1.7v1.8h-1.7zM43.5 11.7h1.7v1.8h-1.7zM117.4 11.7h1.7v1.8h-1.7zM168.1 11.7h1.7v1.8h-1.7zM43.5 13.2h1.7v1.8h-1.7zM182.6 13.2h1.7v1.8h-1.7zM31.9 14.7h1.7v1.8h-1.7zM168.1 14.7h1.7v1.8h-1.7zM66.7 16.1h1.7v1.8h-1.7zM71.0 16.1h1.7v1.8h-1.7zM102.9 16.1h1.7v1.8h-1.7zM156.5 16.1h1.7v1.8h-1.7zM181.2 16.1h1.7v1.8h-1.7zM185.5 16.1h1.7v1.8h-1.7zM178.3 17.6h1.7v1.8h-1.7zM182.6 17.6h1.7v1.8h-1.7zM115.9 19.1h1.7v1.8h-1.7zM60.9 20.5h1.7v1.8h-1.7zM120.3 20.5h1.7v1.8h-1.7zM60.9 23.5h1.7v1.8h-1.7zM184.1 25.0h1.7v1.8h-1.7zM172.5 26.4h1.7v1.8h-1.7zM53.6 29.4h3.2v1.8h-3.2zM56.5 30.8h1.7v1.8h-1.7zM169.6 32.3h1.7v1.8h-1.7zM150.7 35.2h1.7v1.8h-1.7zM158.0 36.7h1.7v1.8h-1.7zM166.7 36.7h1.7v1.8h-1.7zM146.4 38.2h1.7v1.8h-1.7zM63.8 39.6h1.7v1.8h-1.7zM175.4 39.6h1.7v1.8h-1.7zM149.3 41.1h1.7v1.8h-1.7zM160.9 41.1h1.7v1.8h-1.7zM62.3 42.6h1.7v1.8h-1.7zM63.8 44.0h1.7v1.8h-1.7zM162.3 44.0h1.7v1.8h-1.7zM120.3 47.0h1.7v1.8h-1.7zM111.6 48.4h3.2v1.8h-3.2zM162.3 48.4h1.7v1.8h-1.7zM72.5 55.8h1.7v1.8h-1.7zM73.9 57.2h1.7v1.8h-1.7zM62.3 69.0h1.7v1.8h-1.7zM207.3 69.0h1.7v1.8h-1.7zM60.9 77.8h1.7v1.8h-1.7z"/>
<path fill="#f6ecd3" d="M188.4 4.4h1.7v1.8h-1.7zM169.6 5.9h1.7v1.8h-1.7zM189.9 5.9h1.7v1.8h-1.7zM56.5 7.3h1.7v1.8h-1.7zM165.2 7.3h1.7v1.8h-1.7zM4.3 8.8h1.7v1.8h-1.7zM15.9 8.8h1.7v1.8h-1.7zM160.9 8.8h3.2v1.8h-3.2zM175.4 8.8h1.7v1.8h-1.7zM204.4 8.8h1.7v1.8h-1.7zM155.1 10.3h1.7v1.8h-1.7zM173.9 10.3h1.7v1.8h-1.7zM30.4 11.7h1.7v1.8h-1.7zM114.5 11.7h1.7v1.8h-1.7zM11.6 13.2h1.7v1.8h-1.7zM29.0 13.2h1.7v1.8h-1.7zM110.1 13.2h1.7v1.8h-1.7zM179.7 13.2h1.7v1.8h-1.7zM40.6 14.7h1.7v1.8h-1.7zM114.5 14.7h1.7v1.8h-1.7zM179.7 14.7h1.7v1.8h-1.7zM37.7 16.1h1.7v1.8h-1.7zM111.6 16.1h1.7v1.8h-1.7zM115.9 17.6h3.2v1.8h-3.2zM110.1 19.1h1.7v1.8h-1.7zM117.4 22.0h1.7v1.8h-1.7zM176.8 23.5h1.7v1.8h-1.7zM185.5 23.5h1.7v1.8h-1.7zM169.6 27.9h1.7v1.8h-1.7zM173.9 30.8h1.7v1.8h-1.7zM162.3 35.2h1.7v1.8h-1.7zM147.8 36.7h1.7v1.8h-1.7zM160.9 36.7h1.7v1.8h-1.7zM163.8 38.2h1.7v1.8h-1.7zM55.1 39.6h1.7v1.8h-1.7zM65.2 39.6h3.2v1.8h-3.2zM73.9 49.9h1.7v1.8h-1.7zM166.7 49.9h3.2v1.8h-3.2zM66.7 57.2h1.7v1.8h-1.7zM71.0 64.6h1.7v1.8h-1.7z"/>
<path fill="#f6edd7" d="M144.9 4.4h1.7v1.8h-1.7zM131.9 5.9h1.7v1.8h-1.7zM168.1 5.9h1.7v1.8h-1.7zM172.5 5.9h1.7v1.8h-1.7zM191.3 7.3h1.7v1.8h-1.7zM200.0 7.3h1.7v1.8h-1.7zM13.0 8.8h1.7v1.8h-1.7zM123.2 8.8h1.7v1.8h-1.7zM11.6 10.3h1.7v1.8h-1.7zM20.3 10.3h1.7v1.8h-1.7zM147.8 10.3h1.7v1.8h-1.7zM158.0 10.3h1.7v1.8h-1.7zM68.1 11.7h1.7v1.8h-1.7zM188.4 11.7h1.7v1.8h-1.7zM56.5 13.2h1.7v1.8h-1.7zM113.0 13.2h1.7v1.8h-1.7zM187.0 14.7h1.7v1.8h-1.7zM197.1 14.7h1.7v1.8h-1.7zM30.4 16.1h1.7v1.8h-1.7zM34.8 16.1h1.7v1.8h-1.7zM63.8 17.6h1.7v1.8h-1.7zM117.4 19.1h1.7v1.8h-1.7zM62.3 22.0h1.7v1.8h-1.7zM50.7 25.0h1.7v1.8h-1.7zM181.2 25.0h1.7v1.8h-1.7zM47.8 26.4h1.7v1.8h-1.7zM158.0 29.4h1.7v1.8h-1.7zM168.1 29.4h1.7v1.8h-1.7zM150.7 30.8h1.7v1.8h-1.7zM150.7 32.3h1.7v1.8h-1.7zM155.1 33.8h1.7v1.8h-1.7zM166.7 33.8h1.7v1.8h-1.7zM152.2 36.7h1.7v1.8h-1.7zM166.7 38.2h1.7v1.8h-1.7zM173.9 38.2h1.7v1.8h-1.7zM165.2 39.6h1.7v1.8h-1.7zM163.8 44.0h1.7v1.8h-1.7zM58.0 45.5h1.7v1.8h-1.7zM66.7 45.5h1.7v1.8h-1.7zM168.1 47.0h1.7v1.8h-1.7zM69.6 55.8h1.7v1.8h-1.7zM66.7 70.5h1.7v1.8h-1.7zM59.4 74.9h1.7v1.8h-1.7z"/>
<path fill="#f5efdc" d="M26.1 5.9h1.7v1.8h-1.7zM120.3 7.3h1.7v1.8h-1.7zM181.2 7.3h1.7v1.8h-1.7zM185.5 7.3h1.7v1.8h-1.7zM205.8 7.3h3.2v1.8h-3.2zM47.8 8.8h3.2v1.8h-3.2zM205.8 8.8h1.7v1.8h-1.7zM13.0 10.3h1.7v1.8h-1.7zM15.9 10.3h1.7v1.8h-1.7zM43.5 10.3h1.7v1.8h-1.7zM175.4 10.3h1.7v1.8h-1.7zM13.0 11.7h1.7v1.8h-1.7zM36.2 11.7h1.7v1.8h-1.7zM44.9 11.7h1.7v1.8h-1.7zM33.3 13.2h3.2v1.8h-3.2zM36.2 14.7h1.7v1.8h-1.7zM113.0 14.7h1.7v1.8h-1.7zM181.2 14.7h1.7v1.8h-1.7zM29.0 16.1h1.7v1.8h-1.7zM114.5 17.6h1.7v1.8h-1.7zM60.9 19.1h1.7v1.8h-1.7zM53.6 20.5h1.7v1.8h-1.7zM118.8 20.5h1.7v1.8h-1.7zM175.4 23.5h1.7v1.8h-1.7zM46.4 25.0h1.7v1.8h-1.7zM178.3 27.9h1.7v1.8h-1.7zM50.7 29.4h1.7v1.8h-1.7zM124.6 29.4h1.7v1.8h-1.7zM160.9 32.3h1.7v1.8h-1.7zM171.0 32.3h1.7v1.8h-1.7zM159.4 35.2h1.7v1.8h-1.7zM162.3 39.6h1.7v1.8h-1.7zM166.7 39.6h1.7v1.8h-1.7zM173.9 39.6h1.7v1.8h-1.7zM163.8 41.1h1.7v1.8h-1.7zM176.8 41.1h1.7v1.8h-1.7zM113.0 42.6h1.7v1.8h-1.7zM163.8 45.5h1.7v1.8h-1.7zM73.9 54.3h1.7v1.8h-1.7zM60.9 67.5h1.7v1.8h-1.7zM205.8 69.0h1.7v1.8h-1.7z"/>
<path fill="#f5f0e0" d="M52.2 5.9h1.7v1.8h-1.7zM120.3 5.9h4.6v1.8h-4.6zM129.0 5.9h1.7v1.8h-1.7zM2.9 7.3h1.7v1.8h-1.7zM52.2 7.3h1.7v1.8h-1.7zM133.3 7.3h1.7v1.8h-1.7zM120.3 8.8h1.7v1.8h-1.7zM130.4 8.8h1.7v1.8h-1.7zM18.8 10.3h1.7v1.8h-1.7zM21.7 10.3h1.7v1.8h-1.7zM126.1 10.3h1.7v1.8h-1.7zM204.4 10.3h1.7v1.8h-1.7zM13.0 13.2h1.7v1.8h-1.7zM40.6 13.2h3.2v1.8h-3.2zM115.9 13.2h1.7v1.8h-1.7zM126.1 13.2h1.7v1.8h-1.7zM181.2 13.2h1.7v1.8h-1.7zM39.1 16.1h1.7v1.8h-1.7zM159.4 16.1h1.7v1.8h-1.7zM46.4 17.6h1.7v1.8h-1.7zM55.1 19.1h1.7v1.8h-1.7zM179.7 20.5h1.7v1.8h-1.7zM47.8 22.0h1.7v1.8h-1.7zM118.8 22.0h1.7v1.8h-1.7zM49.3 25.0h1.7v1.8h-1.7zM185.5 25.0h1.7v1.8h-1.7zM46.4 26.4h1.7v1.8h-1.7zM155.1 29.4h1.7v1.8h-1.7zM160.9 29.4h1.7v1.8h-1.7zM156.5 30.8h1.7v1.8h-1.7zM150.7 33.8h3.2v1.8h-3.2zM176.8 39.6h1.7v1.8h-1.7zM58.0 41.1h1.7v1.8h-1.7zM176.8 42.6h1.7v1.8h-1.7zM171.0 51.4h1.7v1.8h-1.7zM72.5 54.3h1.7v1.8h-1.7zM72.5 57.2h1.7v1.8h-1.7z"/>
<path fill="#f5f1e6" d="M0.0 5.9h1.7v1.8h-1.7zM130.4 5.9h1.7v1.8h-1.7zM185.5 5.9h1.7v1.8h-1.7zM201.5 5.9h1.7v1.8h-1.7zM129.0 7.3h1.7v1.8h-1.7zM137.7 7.3h1.7v1.8h-1.7zM187.0 7.3h1.7v1.8h-1.7zM14.5 8.8h1.7v1.8h-1.7zM21.7 8.8h1.7v1.8h-1.7zM124.6 8.8h1.7v1.8h-1.7zM153.6 8.8h1.7v1.8h-1.7zM162.3 10.3h1.7v1.8h-1.7zM31.9 11.7h1.7v1.8h-1.7zM113.0 11.7h1.7v1.8h-1.7zM185.5 11.7h1.7v1.8h-1.7zM8.7 13.2h1.7v1.8h-1.7zM37.7 14.7h1.7v1.8h-1.7zM42.0 14.7h1.7v1.8h-1.7zM182.6 14.7h1.7v1.8h-1.7zM36.2 16.1h1.7v1.8h-1.7zM56.5 19.1h1.7v1.8h-1.7zM182.6 19.1h1.7v1.8h-1.7zM181.2 20.5h1.7v1.8h-1.7zM49.3 23.5h1.7v1.8h-1.7zM47.8 25.0h1.7v1.8h-1.7zM178.3 25.0h1.7v1.8h-1.7zM59.4 26.4h1.7v1.8h-1.7zM46.4 27.9h1.7v1.8h-1.7zM153.6 30.8h3.2v1.8h-3.2zM153.6 32.3h1.7v1.8h-1.7zM160.9 35.2h1.7v1.8h-1.7zM166.7 35.2h1.7v1.8h-1.7zM146.4 36.7h1.7v1.8h-1.7zM160.9 38.2h1.7v1.8h-1.7zM160.9 39.6h1.7v1.8h-1.7zM172.5 39.6h1.7v1.8h-1.7zM162.3 41.1h1.7v1.8h-1.7zM165.2 41.1h1.7v1.8h-1.7zM69.6 54.3h1.7v1.8h-1.7z"/>
<path fill="#f5f2ea" d="M17.4 4.4h1.7v1.8h-1.7zM17.4 5.9h3.2v1.8h-3.2zM127.5 5.9h1.7v1.8h-1.7zM162.3 5.9h1.7v1.8h-1.7zM200.0 5.9h1.7v1.8h-1.7zM204.4 5.9h3.2v1.8h-3.2zM130.4 7.3h3.2v1.8h-3.2zM134.8 7.3h1.7v1.8h-1.7zM52.2 8.8h1.7v1.8h-1.7zM131.9 8.8h1.7v1.8h-1.7zM152.2 8.8h1.7v1.8h-1.7zM42.0 10.3h1.7v1.8h-1.7zM153.6 10.3h1.7v1.8h-1.7zM40.6 11.7h1.7v1.8h-1.7zM110.1 11.7h1.7v1.8h-1.7zM192.8 11.7h1.7v1.8h-1.7zM62.3 13.2h1.7v1.8h-1.7zM111.6 13.2h1.7v1.8h-1.7zM34.8 14.7h1.7v1.8h-1.7zM159.4 14.7h1.7v1.8h-1.7zM43.5 16.1h1.7v1.8h-1.7zM113.0 16.1h1.7v1.8h-1.7zM184.1 17.6h1.7v1.8h-1.7zM111.6 19.1h1.7v1.8h-1.7zM65.2 20.5h1.7v1.8h-1.7zM52.2 27.9h1.7v1.8h-1.7zM160.9 33.8h1.7v1.8h-1.7zM153.6 35.2h1.7v1.8h-1.7zM163.8 42.6h1.7v1.8h-1.7zM204.4 70.5h1.7v1.8h-1.7z"/>
<path fill="#f5f4f0" d="M11.6 4.4h1.7v1.8h-1.7zM29.0 4.4h1.7v1.8h-1.7zM133.3 5.9h1.7v1.8h-1.7zM191.3 5.9h1.7v1.8h-1.7zM121.7 7.3h1.7v1.8h-1.7zM127.5 7.3h1.7v1.8h-1.7zM163.8 7.3h1.7v1.8h-1.7zM20.3 8.8h1.7v1.8h-1.7zM155.1 8.8h1.7v1.8h-1.7zM201.5 8.8h1.7v1.8h-1.7zM17.4 10.3h1.7v1.8h-1.7zM124.6 10.3h1.7v1.8h-1.7zM130.4 10.3h1.7v1.8h-1.7zM10.1 11.7h1.7v1.8h-1.7zM33.3 11.7h1.7v1.8h-1.7zM37.7 11.7h1.7v1.8h-1.7zM14.5 13.2h1.7v1.8h-1.7zM30.4 13.2h3.2v1.8h-3.2zM198.6 13.2h1.7v1.8h-1.7zM44.9 14.7h1.7v1.8h-1.7zM44.9 16.1h1.7v1.8h-1.7zM185.5 17.6h1.7v1.8h-1.7zM52.2 19.1h1.7v1.8h-1.7zM46.4 22.0h1.7v1.8h-1.7zM179.7 22.0h1.7v1.8h-1.7zM50.7 23.5h1.7v1.8h-1.7zM159.4 32.3h1.7v1.8h-1.7zM163.8 36.7h1.7v1.8h-1.7zM147.8 41.1h1.7v1.8h-1.7z"/>
<path fill="#f4f5f5" d="M18.8 4.4h1.7v1.8h-1.7zM134.8 5.9h3.2v1.8h-3.2zM46.4 7.3h1.7v1.8h-1.7zM123.2 7.3h1.7v1.8h-1.7zM7.2 8.8h1.7v1.8h-1.7zM150.7 8.8h1.7v1.8h-1.7zM166.7 8.8h1.7v1.8h-1.7zM123.2 10.3h1.7v1.8h-1.7zM140.6 10.3h1.7v1.8h-1.7zM150.7 10.3h1.7v1.8h-1.7zM176.8 11.7h1.7v1.8h-1.7zM159.4 13.2h1.7v1.8h-1.7zM195.7 16.1h1.7v1.8h-1.7zM47.8 19.1h1.7v1.8h-1.7zM53.6 19.1h1.7v1.8h-1.7zM181.2 19.1h1.7v1.8h-1.7zM46.4 23.5h1.7v1.8h-1.7zM173.9 25.0h1.7v1.8h-1.7zM176.8 25.0h1.7v1.8h-1.7zM179.7 25.0h1.7v1.8h-1.7zM146.4 35.2h1.7v1.8h-1.7zM163.8 35.2h1.7v1.8h-1.7zM159.4 36.7h1.7v1.8h-1.7zM162.3 36.7h1.7v1.8h-1.7zM58.0 44.0h1.7v1.8h-1.7zM169.6 48.4h3.2v1.8h-3.2z"/>
<path fill="#f0f4f3" d="M143.5 2.9h1.7v1.8h-1.7zM147.8 5.9h1.7v1.8h-1.7zM194.2 5.9h1.7v1.8h-1.7zM17.4 7.3h1.7v1.8h-1.7zM20.3 7.3h1.7v1.8h-1.7zM50.7 7.3h1.7v1.8h-1.7zM136.2 7.3h1.7v1.8h-1.7zM204.4 7.3h1.7v1.8h-1.7zM133.3 8.8h1.7v1.8h-1.7zM46.4 13.2h1.7v1.8h-1.7zM29.0 14.7h1.7v1.8h-1.7zM117.4 16.1h1.7v1.8h-1.7zM184.1 19.1h1.7v1.8h-1.7zM187.0 19.1h1.7v1.8h-1.7zM47.8 23.5h1.7v1.8h-1.7zM182.6 26.4h1.7v1.8h-1.7zM156.5 29.4h1.7v1.8h-1.7zM159.4 29.4h1.7v1.8h-1.7zM158.0 30.8h1.7v1.8h-1.7zM173.9 32.3h1.7v1.8h-1.7zM150.7 41.1h1.7v1.8h-1.7zM163.8 49.9h1.7v1.8h-1.7zM172.5 51.4h1.7v1.8h-1.7zM68.1 57.2h1.7v1.8h-1.7z"/>
<path fill="#ebf3f2" d="M21.7 5.9h1.7v1.8h-1.7zM24.6 5.9h1.7v1.8h-1.7zM33.3 5.9h1.7v1.8h-1.7zM153.6 5.9h1.7v1.8h-1.7zM8.7 7.3h1.7v1.8h-1.7zM26.1 7.3h1.7v1.8h-1.7zM47.8 7.3h1.7v1.8h-1.7zM162.3 7.3h1.7v1.8h-1.7zM136.2 8.8h1.7v1.8h-1.7zM139.1 8.8h3.2v1.8h-3.2zM165.2 8.8h1.7v1.8h-1.7zM27.5 10.3h1.7v1.8h-1.7zM200.0 10.3h3.2v1.8h-3.2zM15.9 11.7h1.7v1.8h-1.7zM42.0 11.7h1.7v1.8h-1.7zM111.6 11.7h1.7v1.8h-1.7zM160.9 11.7h1.7v1.8h-1.7zM49.3 13.2h1.7v1.8h-1.7zM120.3 13.2h1.7v1.8h-1.7zM117.4 14.7h1.7v1.8h-1.7zM194.2 14.7h1.7v1.8h-1.7zM115.9 16.1h1.7v1.8h-1.7zM181.2 17.6h1.7v1.8h-1.7zM50.7 20.5h1.7v1.8h-1.7zM163.8 39.6h1.7v1.8h-1.7zM73.9 52.8h1.7v1.8h-1.7z"/>
<path fill="#e7f2f0" d="M7.2 5.9h1.7v1.8h-1.7zM13.0 5.9h1.7v1.8h-1.7zM207.3 5.9h1.7v1.8h-1.7zM21.7 7.3h1.7v1.8h-1.7zM31.9 7.3h1.7v1.8h-1.7zM153.6 7.3h1.7v1.8h-1.7zM8.7 8.8h1.7v1.8h-1.7zM17.4 8.8h1.7v1.8h-1.7zM34.8 8.8h1.7v1.8h-1.7zM159.4 8.8h1.7v1.8h-1.7zM163.8 8.8h1.7v1.8h-1.7zM7.2 10.3h1.7v1.8h-1.7zM10.1 10.3h1.7v1.8h-1.7zM133.3 10.3h3.2v1.8h-3.2zM118.8 11.7h1.7v1.8h-1.7zM118.8 13.2h1.7v1.8h-1.7zM194.2 13.2h1.7v1.8h-1.7zM30.4 14.7h1.7v1.8h-1.7zM58.0 14.7h1.7v1.8h-1.7zM120.3 16.1h1.7v1.8h-1.7zM179.7 17.6h1.7v1.8h-1.7zM187.0 20.5h1.7v1.8h-1.7zM178.3 23.5h1.7v1.8h-1.7zM152.2 29.4h1.7v1.8h-1.7zM159.4 33.8h1.7v1.8h-1.7zM165.2 36.7h1.7v1.8h-1.7zM172.5 41.1h1.7v1.8h-1.7z"/>
<path fill="#e2f0ee" d="M15.9 4.4h1.7v1.8h-1.7zM20.3 5.9h1.7v1.8h-1.7zM49.3 7.3h1.7v1.8h-1.7zM147.8 7.3h1.7v1.8h-1.7zM160.9 7.3h1.7v1.8h-1.7zM36.2 10.3h1.7v1.8h-1.7zM152.2 10.3h1.7v1.8h-1.7zM165.2 10.3h3.2v1.8h-3.2zM197.1 11.7h1.7v1.8h-1.7zM191.3 19.1h1.7v1.8h-1.7zM188.4 20.5h1.7v1.8h-1.7zM50.7 22.0h1.7v1.8h-1.7zM160.9 30.8h1.7v1.8h-1.7zM68.1 55.8h1.7v1.8h-1.7z"/>
<path fill="#def0ed" d="M146.4 4.4h1.7v1.8h-1.7zM10.1 5.9h1.7v1.8h-1.7zM23.2 5.9h1.7v1.8h-1.7zM27.5 5.9h1.7v1.8h-1.7zM159.4 5.9h1.7v1.8h-1.7zM163.8 5.9h1.7v1.8h-1.7zM44.9 7.3h1.7v1.8h-1.7zM149.3 7.3h1.7v1.8h-1.7zM30.4 8.8h1.7v1.8h-1.7zM29.0 10.3h1.7v1.8h-1.7zM14.5 11.7h1.7v1.8h-1.7zM118.8 14.7h1.7v1.8h-1.7zM185.5 20.5h1.7v1.8h-1.7zM185.5 22.0h1.7v1.8h-1.7zM184.1 26.4h1.7v1.8h-1.7zM63.8 54.3h1.7v1.8h-1.7z"/>
<path fill="#d9eeeb" d="M149.3 5.9h1.7v1.8h-1.7zM10.1 7.3h1.7v1.8h-1.7zM13.0 7.3h3.2v1.8h-3.2zM23.2 7.3h1.7v1.8h-1.7zM139.1 7.3h1.7v1.8h-1.7zM159.4 7.3h1.7v1.8h-1.7zM134.8 8.8h1.7v1.8h-1.7zM137.7 8.8h1.7v1.8h-1.7zM200.0 8.8h1.7v1.8h-1.7zM34.8 10.3h1.7v1.8h-1.7zM10.1 13.2h1.7v1.8h-1.7zM197.1 13.2h1.7v1.8h-1.7zM49.3 14.7h1.7v1.8h-1.7zM55.1 14.7h1.7v1.8h-1.7zM46.4 16.1h1.7v1.8h-1.7zM185.5 19.1h1.7v1.8h-1.7zM49.3 20.5h1.7v1.8h-1.7zM187.0 22.0h1.7v1.8h-1.7zM159.4 30.8h1.7v1.8h-1.7z"/>
<path fill="#d5edea" d="M14.5 5.9h1.7v1.8h-1.7zM143.5 5.9h1.7v1.8h-1.7zM146.4 5.9h1.7v1.8h-1.7zM165.2 5.9h1.7v1.8h-1.7zM15.9 7.3h1.7v1.8h-1.7zM30.4 7.3h1.7v1.8h-1.7zM43.5 7.3h1.7v1.8h-1.7zM140.6 7.3h3.2v1.8h-3.2zM149.3 10.3h1.7v1.8h-1.7zM160.9 10.3h1.7v1.8h-1.7zM195.7 14.7h1.7v1.8h-1.7zM194.2 16.1h1.7v1.8h-1.7zM150.7 42.6h1.7v1.8h-1.7z"/>
<path fill="#d0ece8" d="M13.0 4.4h1.7v1.8h-1.7zM146.4 10.3h1.7v1.8h-1.7zM159.4 10.3h1.7v1.8h-1.7zM120.3 14.7h1.7v1.8h-1.7z"/>
<path fill="#cbebe6" d="M160.9 5.9h1.7v1.8h-1.7zM7.2 7.3h1.7v1.8h-1.7zM27.5 8.8h1.7v1.8h-1.7zM144.9 10.3h1.7v1.8h-1.7z"/>
<path fill="#c7eae5" d="M140.6 5.9h1.7v1.8h-1.7zM34.8 7.3h1.7v1.8h-1.7zM147.8 8.8h1.7v1.8h-1.7zM53.6 16.1h1.7v1.8h-1.7zM118.8 16.1h1.7v1.8h-1.7z"/>
<path fill="#bfe7e1" d="M1.4 5.9h1.7v1.8h-1.7zM136.2 10.3h1.7v1.8h-1.7z"/>
<path fill="#b9e4de" d="M179.7 4.4h1.7v1.8h-1.7zM15.9 5.9h1.7v1.8h-1.7zM149.3 8.8h1.7v1.8h-1.7zM65.2 54.3h1.7v1.8h-1.7z"/>
<path fill="#b1e1da" d="M142.0 5.9h1.7v1.8h-1.7zM143.5 7.3h1.7v1.8h-1.7zM146.4 8.8h1.7v1.8h-1.7zM192.8 8.8h1.7v1.8h-1.7z"/>
<path fill="#abdfd7" d="M143.5 8.8h1.7v1.8h-1.7z"/>
<path fill="#a3dbd3" d="M53.6 14.7h1.7v1.8h-1.7zM66.7 55.8h1.7v1.8h-1.7z"/>
<path fill="#9dd9d0" d="M56.5 14.7h1.7v1.8h-1.7z"/>
<path fill="#79c8bc" d="M56.5 16.1h1.7v1.8h-1.7z"/>
<path fill="#70c1b6" d="M55.1 16.1h1.7v1.8h-1.7z"/>
</g></g>
<use href="#water" fill="#cccccc"/>
<use href="#land" fill="none" stroke="#000" stroke-width="0.85" stroke-linejoin="round"/>
<use href="#water" fill="none" stroke="#000" stroke-width="0.85" stroke-linejoin="round"/>
<use href="#arctic" fill="none" stroke="#000" stroke-width="0.9" stroke-linejoin="round"/>
</g>
<rect x="0" y="0" width="208.7" height="82.2" fill="none" stroke="#5a5a5a" stroke-width="0.9"/>
</g>
<path d="M27.6 27.2h-2.3M27.6 62.5h-2.3M27.6 97.7h-2.3M27.6 97.7v2.3M79.8 97.7v2.3M131.9 97.7v2.3M184.1 97.7v2.3M236.3 97.7v2.3" stroke="#5a5a5a" stroke-width="0.7"/>
<text x="24.0" y="30.0" font-size="7.6" text-anchor="end" fill="#1a1a1a">60°N</text>
<text x="24.0" y="65.2" font-size="7.6" text-anchor="end" fill="#1a1a1a">0°</text>
<text x="24.0" y="100.5" font-size="7.6" text-anchor="end" fill="#1a1a1a">60°S</text>
<text x="27.6" y="108.8" font-size="7.6" text-anchor="middle" fill="#1a1a1a">180°</text>
<text x="79.8" y="108.8" font-size="7.6" text-anchor="middle" fill="#1a1a1a">90°W</text>
<text x="131.9" y="108.8" font-size="7.6" text-anchor="middle" fill="#1a1a1a">0°W</text>
<text x="184.1" y="108.8" font-size="7.6" text-anchor="middle" fill="#1a1a1a">90°E</text>
<text x="236.3" y="108.8" font-size="7.6" text-anchor="middle" fill="#1a1a1a">180°</text>
<text x="131.9" y="11.7" font-size="9.1" font-weight="bold" text-anchor="middle" fill="#000">(a)</text>
<g transform="translate(277.6,15.5)">
<g clip-path="url(#frame)">
<rect x="0" y="0" width="208.7" height="82.2" fill="#cccccc"/>
<g clip-path="url(#landclip)"><g filter="url(#soft)">
<path fill="#e9f6e8" d="M7.2 8.8h1.7v1.8h-1.7zM130.4 27.9h1.7v1.8h-1.7z"/>
<path fill="#ebf7e4" d="M68.1 63.1h1.7v1.8h-1.7z"/>
<path fill="#eff9dd" d="M66.7 61.6h1.7v1.8h-1.7z"/>
<path fill="#f2fad6" d="M23.2 11.7h1.7v1.8h-1.7zM147.8 13.2h1.7v1.8h-1.7zM198.6 13.2h1.7v1.8h-1.7z"/>
<path fill="#f6fbd0" d="M149.3 8.8h1.7v1.8h-1.7z"/>
<path fill="#f8fccb" d="M59.4 22.0h1.7v1.8h-1.7zM169.6 33.8h1.7v1.8h-1.7zM68.1 61.6h1.7v1.8h-1.7z"/>
<path fill="#fcfec5" d="M17.4 4.4h1.7v1.8h-1.7zM131.9 26.4h1.7v1.8h-1.7zM114.5 27.9h1.7v1.8h-1.7z"/>
<path fill="#fffebe" d="M143.5 7.3h1.7v1.8h-1.7zM30.4 13.2h1.7v1.8h-1.7zM117.4 26.4h1.7v1.8h-1.7zM130.4 26.4h1.7v1.8h-1.7zM62.3 61.6h1.7v1.8h-1.7zM66.7 63.1h1.7v1.8h-1.7z"/>
<path fill="#fffcba" d="M147.8 8.8h1.7v1.8h-1.7zM107.2 20.5h1.7v1.8h-1.7zM168.1 32.3h1.7v1.8h-1.7z"/>
<path fill="#fff8b5" d="M33.3 5.9h1.7v1.8h-1.7zM197.1 11.7h1.7v1.8h-1.7zM197.1 13.2h1.7v1.8h-1.7zM30.4 16.1h1.7v1.8h-1.7zM102.9 20.5h1.7v1.8h-1.7zM124.6 23.5h1.7v1.8h-1.7zM131.9 27.9h1.7v1.8h-1.7zM97.1 29.4h1.7v1.8h-1.7zM169.6 47.0h1.7v1.8h-1.7zM65.2 61.6h1.7v1.8h-1.7z"/>
<path fill="#fff5af" d="M133.3 5.9h1.7v1.8h-1.7zM31.9 7.3h1.7v1.8h-1.7zM43.5 7.3h1.7v1.8h-1.7zM105.8 17.6h1.7v1.8h-1.7zM110.1 17.6h1.7v1.8h-1.7zM111.6 19.1h1.7v1.8h-1.7zM187.0 19.1h1.7v1.8h-1.7zM113.0 20.5h1.7v1.8h-1.7zM130.4 22.0h1.7v1.8h-1.7zM56.5 25.0h1.7v1.8h-1.7zM115.9 27.9h1.7v1.8h-1.7zM176.8 39.6h1.7v1.8h-1.7zM162.3 42.6h1.7v1.8h-1.7z"/>
<path fill="#fff2ac" d="M149.3 10.3h1.7v1.8h-1.7zM185.5 11.7h1.7v1.8h-1.7zM121.7 17.6h1.7v1.8h-1.7zM104.3 19.1h1.7v1.8h-1.7zM134.8 23.5h1.7v1.8h-1.7zM133.3 33.8h1.7v1.8h-1.7zM55.1 41.1h1.7v1.8h-1.7zM65.2 63.1h1.7v1.8h-1.7zM176.8 64.6h1.7v1.8h-1.7z"/>
<path fill="#feefa6" d="M44.9 7.3h1.7v1.8h-1.7zM204.4 10.3h1.7v1.8h-1.7zM50.7 17.6h1.7v1.8h-1.7zM50.7 19.1h1.7v1.8h-1.7zM105.8 20.5h1.7v1.8h-1.7zM120.3 20.5h1.7v1.8h-1.7zM115.9 23.5h1.7v1.8h-1.7zM121.7 23.5h1.7v1.8h-1.7zM134.8 25.0h1.7v1.8h-1.7zM142.0 32.3h1.7v1.8h-1.7zM120.3 35.2h1.7v1.8h-1.7zM134.8 35.2h1.7v1.8h-1.7zM110.1 41.1h1.7v1.8h-1.7zM59.4 48.4h1.7v1.8h-1.7zM111.6 49.9h1.7v1.8h-1.7zM63.8 60.2h1.7v1.8h-1.7z"/>
<path fill="#feeba1" d="M7.2 5.9h1.7v1.8h-1.7zM18.8 5.9h1.7v1.8h-1.7zM17.4 7.3h1.7v1.8h-1.7zM139.1 8.8h1.7v1.8h-1.7zM155.1 8.8h1.7v1.8h-1.7zM147.8 10.3h1.7v1.8h-1.7zM201.5 10.3h1.7v1.8h-1.7zM182.6 14.7h1.7v1.8h-1.7zM185.5 17.6h1.7v1.8h-1.7zM68.1 19.1h1.7v1.8h-1.7zM137.7 19.1h1.7v1.8h-1.7zM50.7 20.5h1.7v1.8h-1.7zM108.7 22.0h1.7v1.8h-1.7zM60.9 23.5h1.7v1.8h-1.7zM136.2 23.5h1.7v1.8h-1.7zM105.8 25.0h1.7v1.8h-1.7zM133.3 25.0h1.7v1.8h-1.7zM136.2 25.0h1.7v1.8h-1.7zM126.1 26.4h1.7v1.8h-1.7zM124.6 27.9h1.7v1.8h-1.7zM95.7 29.4h1.7v1.8h-1.7zM169.6 32.3h1.7v1.8h-1.7zM56.5 33.8h1.7v1.8h-1.7zM60.9 33.8h1.7v1.8h-1.7zM53.6 38.2h1.7v1.8h-1.7zM63.8 44.0h1.7v1.8h-1.7zM126.1 44.0h1.7v1.8h-1.7zM66.7 55.8h1.7v1.8h-1.7zM63.8 61.6h1.7v1.8h-1.7zM62.3 70.5h1.7v1.8h-1.7z"/>
<path fill="#fee99d" d="M23.2 5.9h1.7v1.8h-1.7zM27.5 5.9h1.7v1.8h-1.7zM185.5 5.9h1.7v1.8h-1.7zM30.4 7.3h1.7v1.8h-1.7zM136.2 8.8h1.7v1.8h-1.7zM7.2 10.3h1.7v1.8h-1.7zM18.8 10.3h1.7v1.8h-1.7zM27.5 10.3h1.7v1.8h-1.7zM205.8 10.3h1.7v1.8h-1.7zM107.2 11.7h3.2v1.8h-3.2zM149.3 11.7h1.7v1.8h-1.7zM29.0 14.7h1.7v1.8h-1.7zM111.6 17.6h1.7v1.8h-1.7zM49.3 19.1h1.7v1.8h-1.7zM110.1 19.1h1.7v1.8h-1.7zM136.2 20.5h1.7v1.8h-1.7zM102.9 22.0h1.7v1.8h-1.7zM114.5 22.0h1.7v1.8h-1.7zM59.4 23.5h1.7v1.8h-1.7zM117.4 23.5h1.7v1.8h-1.7zM58.0 25.0h1.7v1.8h-1.7zM113.0 25.0h1.7v1.8h-1.7zM124.6 26.4h1.7v1.8h-1.7zM165.2 33.8h1.7v1.8h-1.7zM168.1 33.8h1.7v1.8h-1.7zM55.1 36.7h1.7v1.8h-1.7zM123.2 42.6h1.7v1.8h-1.7zM159.4 44.0h1.7v1.8h-1.7zM60.9 51.4h1.7v1.8h-1.7zM188.4 55.8h1.7v1.8h-1.7z"/>
<path fill="#fee597" d="M10.1 5.9h1.7v1.8h-1.7zM24.6 5.9h1.7v1.8h-1.7zM49.3 7.3h1.7v1.8h-1.7zM185.5 7.3h3.2v1.8h-3.2zM27.5 8.8h1.7v1.8h-1.7zM24.6 10.3h1.7v1.8h-1.7zM10.1 11.7h1.7v1.8h-1.7zM108.7 13.2h1.7v1.8h-1.7zM124.6 13.2h1.7v1.8h-1.7zM30.4 14.7h1.7v1.8h-1.7zM58.0 14.7h1.7v1.8h-1.7zM150.7 14.7h1.7v1.8h-1.7zM29.0 16.1h1.7v1.8h-1.7zM150.7 16.1h1.7v1.8h-1.7zM59.4 20.5h1.7v1.8h-1.7zM131.9 20.5h1.7v1.8h-1.7zM52.2 22.0h1.7v1.8h-1.7zM104.3 22.0h1.7v1.8h-1.7zM123.2 22.0h1.7v1.8h-1.7zM55.1 23.5h1.7v1.8h-1.7zM59.4 25.0h1.7v1.8h-1.7zM117.4 27.9h1.7v1.8h-1.7zM173.9 29.4h1.7v1.8h-1.7zM42.0 33.8h1.7v1.8h-1.7zM60.9 39.6h1.7v1.8h-1.7zM66.7 41.1h1.7v1.8h-1.7zM162.3 41.1h1.7v1.8h-1.7zM123.2 44.0h1.7v1.8h-1.7zM113.0 48.4h1.7v1.8h-1.7zM181.2 64.6h1.7v1.8h-1.7z"/>
<path fill="#fee192" d="M23.2 7.3h1.7v1.8h-1.7zM181.2 7.3h1.7v1.8h-1.7zM17.4 8.8h1.7v1.8h-1.7zM11.6 11.7h1.7v1.8h-1.7zM65.2 11.7h1.7v1.8h-1.7zM10.1 13.2h1.7v1.8h-1.7zM127.5 16.1h1.7v1.8h-1.7zM130.4 19.1h1.7v1.8h-1.7zM166.7 19.1h1.7v1.8h-1.7zM104.3 20.5h1.7v1.8h-1.7zM108.7 20.5h1.7v1.8h-1.7zM114.5 20.5h1.7v1.8h-1.7zM187.0 20.5h1.7v1.8h-1.7zM113.0 22.0h1.7v1.8h-1.7zM131.9 22.0h1.7v1.8h-1.7zM158.0 22.0h1.7v1.8h-1.7zM58.0 23.5h1.7v1.8h-1.7zM111.6 23.5h1.7v1.8h-1.7zM140.6 26.4h1.7v1.8h-1.7zM133.3 27.9h1.7v1.8h-1.7zM102.9 29.4h1.7v1.8h-1.7zM160.9 29.4h1.7v1.8h-1.7zM50.7 33.8h1.7v1.8h-1.7zM118.8 36.7h1.7v1.8h-1.7zM133.3 39.6h1.7v1.8h-1.7zM160.9 42.6h1.7v1.8h-1.7zM163.8 42.6h1.7v1.8h-1.7zM110.1 47.0h1.7v1.8h-1.7zM121.7 48.4h1.7v1.8h-1.7zM63.8 63.1h1.7v1.8h-1.7zM189.9 64.6h1.7v1.8h-1.7zM188.4 66.1h1.7v1.8h-1.7z"/>
<path fill="#fede8e" d="M18.8 4.4h1.7v1.8h-1.7zM17.4 5.9h1.7v1.8h-1.7zM134.8 5.9h1.7v1.8h-1.7zM200.0 5.9h1.7v1.8h-1.7zM204.4 5.9h1.7v1.8h-1.7zM4.3 8.8h1.7v1.8h-1.7zM24.6 8.8h1.7v1.8h-1.7zM205.8 8.8h1.7v1.8h-1.7zM17.4 10.3h1.7v1.8h-1.7zM20.3 10.3h3.2v1.8h-3.2zM126.1 11.7h1.7v1.8h-1.7zM31.9 16.1h1.7v1.8h-1.7zM104.3 17.6h1.7v1.8h-1.7zM165.2 17.6h1.7v1.8h-1.7zM105.8 19.1h1.7v1.8h-1.7zM129.0 20.5h1.7v1.8h-1.7zM118.8 22.0h1.7v1.8h-1.7zM146.4 23.5h1.7v1.8h-1.7zM49.3 25.0h1.7v1.8h-1.7zM117.4 25.0h1.7v1.8h-1.7zM123.2 25.0h1.7v1.8h-1.7zM105.8 29.4h1.7v1.8h-1.7zM115.9 29.4h1.7v1.8h-1.7zM46.4 30.8h1.7v1.8h-1.7zM143.5 30.8h1.7v1.8h-1.7zM155.1 30.8h1.7v1.8h-1.7zM136.2 35.2h1.7v1.8h-1.7zM59.4 41.1h1.7v1.8h-1.7zM72.5 42.6h1.7v1.8h-1.7zM121.7 42.6h1.7v1.8h-1.7zM121.7 47.0h1.7v1.8h-1.7zM65.2 54.3h1.7v1.8h-1.7zM171.0 58.7h1.7v1.8h-1.7zM189.9 61.6h1.7v1.8h-1.7zM176.8 63.1h1.7v1.8h-1.7zM60.9 67.5h1.7v1.8h-1.7z"/>
<path fill="#fed889" d="M29.0 4.4h1.7v1.8h-1.7zM152.2 5.9h1.7v1.8h-1.7zM207.3 5.9h1.7v1.8h-1.7zM8.7 7.3h1.7v1.8h-1.7zM50.7 7.3h1.7v1.8h-1.7zM66.7 7.3h1.7v1.8h-1.7zM200.0 7.3h1.7v1.8h-1.7zM52.2 8.8h1.7v1.8h-1.7zM200.0 8.8h1.7v1.8h-1.7zM202.9 8.8h1.7v1.8h-1.7zM26.1 10.3h1.7v1.8h-1.7zM36.2 10.3h1.7v1.8h-1.7zM140.6 11.7h1.7v1.8h-1.7zM200.0 11.7h1.7v1.8h-1.7zM129.0 13.2h1.7v1.8h-1.7zM139.1 13.2h3.2v1.8h-3.2zM159.4 13.2h1.7v1.8h-1.7zM172.5 13.2h1.7v1.8h-1.7zM105.8 14.7h1.7v1.8h-1.7zM121.7 14.7h1.7v1.8h-1.7zM72.5 19.1h1.7v1.8h-1.7zM108.7 19.1h1.7v1.8h-1.7zM53.6 20.5h1.7v1.8h-1.7zM58.0 20.5h1.7v1.8h-1.7zM123.2 20.5h1.7v1.8h-1.7zM126.1 20.5h1.7v1.8h-1.7zM130.4 20.5h1.7v1.8h-1.7zM137.7 20.5h1.7v1.8h-1.7zM134.8 22.0h3.2v1.8h-3.2zM187.0 22.0h1.7v1.8h-1.7zM49.3 23.5h1.7v1.8h-1.7zM120.3 23.5h1.7v1.8h-1.7zM98.6 25.0h1.7v1.8h-1.7zM142.0 26.4h1.7v1.8h-1.7zM110.1 27.9h1.7v1.8h-1.7zM140.6 27.9h1.7v1.8h-1.7zM117.4 29.4h1.7v1.8h-1.7zM43.5 30.8h1.7v1.8h-1.7zM173.9 30.8h1.7v1.8h-1.7zM56.5 32.3h1.7v1.8h-1.7zM55.1 33.8h1.7v1.8h-1.7zM124.6 33.8h1.7v1.8h-1.7zM63.8 35.2h1.7v1.8h-1.7zM165.2 35.2h1.7v1.8h-1.7zM53.6 36.7h1.7v1.8h-1.7zM111.6 38.2h1.7v1.8h-1.7zM53.6 39.6h1.7v1.8h-1.7zM59.4 39.6h1.7v1.8h-1.7zM160.9 39.6h1.7v1.8h-1.7zM165.2 41.1h1.7v1.8h-1.7zM110.1 45.5h1.7v1.8h-1.7zM126.1 49.9h1.7v1.8h-1.7zM62.3 58.7h1.7v1.8h-1.7zM130.4 58.7h3.2v1.8h-3.2zM187.0 58.7h1.7v1.8h-1.7zM130.4 60.2h1.7v1.8h-1.7zM191.3 60.2h1.7v1.8h-1.7zM175.4 64.6h1.7v1.8h-1.7zM188.4 64.6h1.7v1.8h-1.7zM73.9 66.1h1.7v1.8h-1.7zM202.9 73.4h1.7v1.8h-1.7z"/>
<path fill="#fed283" d="M15.9 4.4h1.7v1.8h-1.7zM26.1 5.9h1.7v1.8h-1.7zM134.8 7.3h1.7v1.8h-1.7zM146.4 8.8h1.7v1.8h-1.7zM204.4 8.8h1.7v1.8h-1.7zM13.0 10.3h1.7v1.8h-1.7zM13.0 11.7h1.7v1.8h-1.7zM24.6 11.7h1.7v1.8h-1.7zM124.6 11.7h1.7v1.8h-1.7zM147.8 11.7h1.7v1.8h-1.7zM150.7 11.7h1.7v1.8h-1.7zM8.7 13.2h1.7v1.8h-1.7zM66.7 13.2h1.7v1.8h-1.7zM152.2 14.7h1.7v1.8h-1.7zM107.2 17.6h3.2v1.8h-3.2zM117.4 17.6h1.7v1.8h-1.7zM130.4 17.6h1.7v1.8h-1.7zM137.7 17.6h1.7v1.8h-1.7zM166.7 17.6h1.7v1.8h-1.7zM49.3 20.5h1.7v1.8h-1.7zM47.8 22.0h1.7v1.8h-1.7zM105.8 22.0h1.7v1.8h-1.7zM120.3 22.0h3.2v1.8h-3.2zM127.5 22.0h1.7v1.8h-1.7zM50.7 23.5h1.7v1.8h-1.7zM137.7 23.5h1.7v1.8h-1.7zM50.7 25.0h1.7v1.8h-1.7zM115.9 25.0h1.7v1.8h-1.7zM121.7 25.0h1.7v1.8h-1.7zM126.1 25.0h1.7v1.8h-1.7zM133.3 26.4h1.7v1.8h-1.7zM149.3 26.4h1.7v1.8h-1.7zM40.6 27.9h1.7v1.8h-1.7zM111.6 27.9h1.7v1.8h-1.7zM118.8 27.9h1.7v1.8h-1.7zM110.1 29.4h1.7v1.8h-1.7zM52.2 35.2h1.7v1.8h-1.7zM62.3 35.2h1.7v1.8h-1.7zM52.2 38.2h1.7v1.8h-1.7zM160.9 38.2h1.7v1.8h-1.7zM104.3 39.6h1.7v1.8h-1.7zM172.5 39.6h1.7v1.8h-1.7zM110.1 44.0h1.7v1.8h-1.7zM169.6 48.4h1.7v1.8h-1.7zM60.9 54.3h1.7v1.8h-1.7zM66.7 54.3h1.7v1.8h-1.7zM65.2 57.2h1.7v1.8h-1.7zM71.0 57.2h1.7v1.8h-1.7z"/>
<path fill="#fece7f" d="M13.0 4.4h1.7v1.8h-1.7zM201.5 5.9h1.7v1.8h-1.7zM46.4 7.3h1.7v1.8h-1.7zM107.2 8.8h1.7v1.8h-1.7zM23.2 10.3h1.7v1.8h-1.7zM34.8 10.3h1.7v1.8h-1.7zM155.1 10.3h1.7v1.8h-1.7zM200.0 10.3h1.7v1.8h-1.7zM129.0 14.7h1.7v1.8h-1.7zM187.0 14.7h1.7v1.8h-1.7zM121.7 16.1h1.7v1.8h-1.7zM181.2 16.1h1.7v1.8h-1.7zM46.4 17.6h1.7v1.8h-1.7zM165.2 19.1h1.7v1.8h-1.7zM40.6 20.5h1.7v1.8h-1.7zM118.8 20.5h1.7v1.8h-1.7zM179.7 20.5h1.7v1.8h-1.7zM111.6 22.0h1.7v1.8h-1.7zM185.5 22.0h1.7v1.8h-1.7zM113.0 23.5h1.7v1.8h-1.7zM47.8 25.0h1.7v1.8h-1.7zM102.9 26.4h3.2v1.8h-3.2zM110.1 26.4h1.7v1.8h-1.7zM127.5 26.4h1.7v1.8h-1.7zM49.3 27.9h1.7v1.8h-1.7zM53.6 27.9h1.7v1.8h-1.7zM101.5 27.9h6.1v1.8h-6.1zM124.6 29.4h1.7v1.8h-1.7zM153.6 29.4h1.7v1.8h-1.7zM42.0 32.3h1.7v1.8h-1.7zM127.5 32.3h1.7v1.8h-1.7zM134.8 32.3h1.7v1.8h-1.7zM147.8 32.3h1.7v1.8h-1.7zM172.5 32.3h1.7v1.8h-1.7zM136.2 33.8h1.7v1.8h-1.7zM94.2 35.2h1.7v1.8h-1.7zM133.3 36.7h1.7v1.8h-1.7zM121.7 38.2h1.7v1.8h-1.7zM124.6 38.2h1.7v1.8h-1.7zM62.3 39.6h1.7v1.8h-1.7zM56.5 41.1h1.7v1.8h-1.7zM108.7 41.1h1.7v1.8h-1.7zM123.2 41.1h1.7v1.8h-1.7zM65.2 42.6h1.7v1.8h-1.7zM100.0 44.0h1.7v1.8h-1.7zM71.0 47.0h1.7v1.8h-1.7zM111.6 48.4h1.7v1.8h-1.7zM111.6 52.8h1.7v1.8h-1.7zM72.5 55.8h1.7v1.8h-1.7zM113.0 57.2h1.7v1.8h-1.7zM178.3 58.7h1.7v1.8h-1.7zM62.3 66.1h1.7v1.8h-1.7zM189.9 66.1h1.7v1.8h-1.7z"/>
<path fill="#fec87a" d="M0.0 5.9h1.7v1.8h-1.7zM140.6 5.9h1.7v1.8h-1.7zM147.8 5.9h1.7v1.8h-1.7zM189.9 5.9h1.7v1.8h-1.7zM194.2 5.9h1.7v1.8h-1.7zM15.9 7.3h1.7v1.8h-1.7zM131.9 7.3h1.7v1.8h-1.7zM142.0 7.3h1.7v1.8h-1.7zM147.8 7.3h1.7v1.8h-1.7zM153.6 7.3h1.7v1.8h-1.7zM34.8 8.8h1.7v1.8h-1.7zM46.4 8.8h3.2v1.8h-3.2zM146.4 10.3h1.7v1.8h-1.7zM168.1 10.3h1.7v1.8h-1.7zM158.0 13.2h1.7v1.8h-1.7zM179.7 13.2h1.7v1.8h-1.7zM182.6 13.2h1.7v1.8h-1.7zM26.1 14.7h1.7v1.8h-1.7zM131.9 14.7h1.7v1.8h-1.7zM149.3 14.7h1.7v1.8h-1.7zM175.4 14.7h1.7v1.8h-1.7zM185.5 14.7h1.7v1.8h-1.7zM43.5 16.1h1.7v1.8h-1.7zM56.5 16.1h1.7v1.8h-1.7zM123.2 16.1h1.7v1.8h-1.7zM182.6 16.1h1.7v1.8h-1.7zM40.6 17.6h1.7v1.8h-1.7zM115.9 17.6h1.7v1.8h-1.7zM136.2 17.6h1.7v1.8h-1.7zM40.6 19.1h1.7v1.8h-1.7zM46.4 19.1h3.2v1.8h-3.2zM66.7 19.1h1.7v1.8h-1.7zM107.2 19.1h1.7v1.8h-1.7zM115.9 19.1h1.7v1.8h-1.7zM120.3 19.1h1.7v1.8h-1.7zM136.2 19.1h1.7v1.8h-1.7zM149.3 19.1h1.7v1.8h-1.7zM101.5 22.0h1.7v1.8h-1.7zM173.9 22.0h1.7v1.8h-1.7zM105.8 26.4h1.7v1.8h-1.7zM134.8 26.4h1.7v1.8h-1.7zM139.1 26.4h1.7v1.8h-1.7zM143.5 27.9h1.7v1.8h-1.7zM46.4 29.4h1.7v1.8h-1.7zM133.3 29.4h1.7v1.8h-1.7zM144.9 30.8h1.7v1.8h-1.7zM44.9 32.3h1.7v1.8h-1.7zM55.1 32.3h1.7v1.8h-1.7zM58.0 32.3h1.7v1.8h-1.7zM134.8 33.8h1.7v1.8h-1.7zM137.7 35.2h1.7v1.8h-1.7zM168.1 35.2h1.7v1.8h-1.7zM52.2 36.7h1.7v1.8h-1.7zM107.2 36.7h1.7v1.8h-1.7zM111.6 36.7h1.7v1.8h-1.7zM60.9 41.1h1.7v1.8h-1.7zM121.7 41.1h1.7v1.8h-1.7zM73.9 42.6h1.7v1.8h-1.7zM97.1 42.6h1.7v1.8h-1.7zM130.4 44.0h3.2v1.8h-3.2zM130.4 45.5h1.7v1.8h-1.7zM123.2 47.0h1.7v1.8h-1.7zM163.8 47.0h1.7v1.8h-1.7zM110.1 48.4h1.7v1.8h-1.7zM56.5 49.9h1.7v1.8h-1.7zM126.1 51.4h1.7v1.8h-1.7zM68.1 54.3h1.7v1.8h-1.7zM117.4 54.3h1.7v1.8h-1.7zM114.5 55.8h1.7v1.8h-1.7zM63.8 57.2h1.7v1.8h-1.7zM69.6 57.2h1.7v1.8h-1.7zM68.1 60.2h1.7v1.8h-1.7zM120.3 60.2h1.7v1.8h-1.7zM131.9 60.2h1.7v1.8h-1.7zM187.0 60.2h1.7v1.8h-1.7zM69.6 64.6h1.7v1.8h-1.7zM121.7 64.6h1.7v1.8h-1.7zM63.8 67.5h1.7v1.8h-1.7zM60.9 71.9h1.7v1.8h-1.7z"/>
<path fill="#fdc374" d="M146.4 5.9h1.7v1.8h-1.7zM149.3 5.9h1.7v1.8h-1.7zM153.6 5.9h1.7v1.8h-1.7zM10.1 7.3h1.7v1.8h-1.7zM13.0 7.3h1.7v1.8h-1.7zM133.3 7.3h1.7v1.8h-1.7zM149.3 7.3h1.7v1.8h-1.7zM202.9 7.3h1.7v1.8h-1.7zM205.8 7.3h3.2v1.8h-3.2zM14.5 8.8h1.7v1.8h-1.7zM137.7 8.8h1.7v1.8h-1.7zM150.7 8.8h1.7v1.8h-1.7zM169.6 8.8h1.7v1.8h-1.7zM201.5 8.8h1.7v1.8h-1.7zM11.6 10.3h1.7v1.8h-1.7zM14.5 11.7h1.7v1.8h-1.7zM127.5 11.7h1.7v1.8h-1.7zM127.5 14.7h1.7v1.8h-1.7zM155.1 14.7h1.7v1.8h-1.7zM179.7 14.7h3.2v1.8h-3.2zM184.1 14.7h1.7v1.8h-1.7zM104.3 16.1h1.7v1.8h-1.7zM129.0 16.1h1.7v1.8h-1.7zM152.2 16.1h1.7v1.8h-1.7zM175.4 16.1h1.7v1.8h-1.7zM102.9 17.6h1.7v1.8h-1.7zM147.8 17.6h1.7v1.8h-1.7zM153.6 17.6h1.7v1.8h-1.7zM159.4 17.6h1.7v1.8h-1.7zM36.2 19.1h1.7v1.8h-1.7zM126.1 19.1h1.7v1.8h-1.7zM131.9 19.1h1.7v1.8h-1.7zM68.1 20.5h1.7v1.8h-1.7zM110.1 20.5h1.7v1.8h-1.7zM133.3 20.5h1.7v1.8h-1.7zM185.5 20.5h1.7v1.8h-1.7zM188.4 20.5h1.7v1.8h-1.7zM46.4 22.0h1.7v1.8h-1.7zM53.6 22.0h1.7v1.8h-1.7zM56.5 22.0h3.2v1.8h-3.2zM126.1 22.0h1.7v1.8h-1.7zM129.0 22.0h1.7v1.8h-1.7zM137.7 22.0h1.7v1.8h-1.7zM176.8 22.0h1.7v1.8h-1.7zM110.1 25.0h1.7v1.8h-1.7zM124.6 25.0h1.7v1.8h-1.7zM169.6 26.4h1.7v1.8h-1.7zM52.2 27.9h1.7v1.8h-1.7zM98.6 27.9h3.2v1.8h-3.2zM113.0 27.9h1.7v1.8h-1.7zM121.7 27.9h3.2v1.8h-3.2zM126.1 27.9h1.7v1.8h-1.7zM129.0 27.9h1.7v1.8h-1.7zM139.1 27.9h1.7v1.8h-1.7zM142.0 27.9h1.7v1.8h-1.7zM53.6 29.4h1.7v1.8h-1.7zM100.0 29.4h3.2v1.8h-3.2zM111.6 29.4h1.7v1.8h-1.7zM155.1 29.4h1.7v1.8h-1.7zM134.8 30.8h1.7v1.8h-1.7zM146.4 30.8h1.7v1.8h-1.7zM166.7 30.8h1.7v1.8h-1.7zM39.1 32.3h1.7v1.8h-1.7zM166.7 32.3h1.7v1.8h-1.7zM130.4 33.8h1.7v1.8h-1.7zM144.9 33.8h1.7v1.8h-1.7zM163.8 33.8h1.7v1.8h-1.7zM173.9 35.2h1.7v1.8h-1.7zM47.8 36.7h1.7v1.8h-1.7zM149.3 36.7h1.7v1.8h-1.7zM150.7 38.2h1.7v1.8h-1.7zM65.2 41.1h1.7v1.8h-1.7zM118.8 41.1h1.7v1.8h-1.7zM163.8 41.1h1.7v1.8h-1.7zM100.0 42.6h1.7v1.8h-1.7zM111.6 42.6h1.7v1.8h-1.7zM107.2 44.0h1.7v1.8h-1.7zM75.4 45.5h1.7v1.8h-1.7zM163.8 45.5h1.7v1.8h-1.7zM124.6 47.0h1.7v1.8h-1.7zM162.3 47.0h1.7v1.8h-1.7zM56.5 48.4h1.7v1.8h-1.7zM123.2 48.4h1.7v1.8h-1.7zM127.5 48.4h1.7v1.8h-1.7zM162.3 48.4h1.7v1.8h-1.7zM124.6 49.9h1.7v1.8h-1.7zM111.6 51.4h1.7v1.8h-1.7zM184.1 55.8h1.7v1.8h-1.7zM75.4 57.2h1.7v1.8h-1.7zM175.4 57.2h1.7v1.8h-1.7zM65.2 58.7h1.7v1.8h-1.7zM62.3 60.2h1.7v1.8h-1.7zM171.0 60.2h1.7v1.8h-1.7zM172.5 61.6h3.2v1.8h-3.2zM191.3 61.6h1.7v1.8h-1.7zM115.9 63.1h1.7v1.8h-1.7zM63.8 64.6h1.7v1.8h-1.7zM185.5 64.6h1.7v1.8h-1.7zM205.8 70.5h1.7v1.8h-1.7zM204.4 71.9h1.7v1.8h-1.7z"/>
<path fill="#fdbf71" d="M13.0 5.9h3.2v1.8h-3.2zM52.2 5.9h1.7v1.8h-1.7zM159.4 5.9h1.7v1.8h-1.7zM205.8 5.9h1.7v1.8h-1.7zM2.9 7.3h1.7v1.8h-1.7zM26.1 7.3h1.7v1.8h-1.7zM52.2 7.3h1.7v1.8h-1.7zM137.7 7.3h1.7v1.8h-1.7zM150.7 7.3h1.7v1.8h-1.7zM49.3 8.8h1.7v1.8h-1.7zM140.6 8.8h1.7v1.8h-1.7zM29.0 10.3h1.7v1.8h-1.7zM47.8 10.3h1.7v1.8h-1.7zM153.6 10.3h1.7v1.8h-1.7zM15.9 11.7h1.7v1.8h-1.7zM30.4 11.7h1.7v1.8h-1.7zM111.6 11.7h1.7v1.8h-1.7zM152.2 11.7h1.7v1.8h-1.7zM13.0 13.2h3.2v1.8h-3.2zM123.2 13.2h1.7v1.8h-1.7zM152.2 13.2h1.7v1.8h-1.7zM27.5 14.7h1.7v1.8h-1.7zM113.0 14.7h1.7v1.8h-1.7zM66.7 16.1h1.7v1.8h-1.7zM120.3 16.1h1.7v1.8h-1.7zM130.4 16.1h1.7v1.8h-1.7zM146.4 16.1h3.2v1.8h-3.2zM187.0 16.1h1.7v1.8h-1.7zM66.7 17.6h1.7v1.8h-1.7zM124.6 17.6h1.7v1.8h-1.7zM131.9 17.6h1.7v1.8h-1.7zM101.5 19.1h1.7v1.8h-1.7zM118.8 19.1h1.7v1.8h-1.7zM153.6 19.1h1.7v1.8h-1.7zM66.7 20.5h1.7v1.8h-1.7zM49.3 22.0h1.7v1.8h-1.7zM115.9 22.0h1.7v1.8h-1.7zM46.4 23.5h1.7v1.8h-1.7zM123.2 23.5h1.7v1.8h-1.7zM175.4 23.5h1.7v1.8h-1.7zM52.2 25.0h1.7v1.8h-1.7zM55.1 25.0h1.7v1.8h-1.7zM118.8 25.0h1.7v1.8h-1.7zM181.2 25.0h1.7v1.8h-1.7zM100.0 26.4h1.7v1.8h-1.7zM160.9 26.4h1.7v1.8h-1.7zM43.5 27.9h1.7v1.8h-1.7zM107.2 27.9h1.7v1.8h-1.7zM179.7 27.9h1.7v1.8h-1.7zM37.7 29.4h1.7v1.8h-1.7zM47.8 29.4h1.7v1.8h-1.7zM149.3 29.4h1.7v1.8h-1.7zM169.6 29.4h1.7v1.8h-1.7zM133.3 30.8h1.7v1.8h-1.7zM40.6 32.3h1.7v1.8h-1.7zM149.3 32.3h1.7v1.8h-1.7zM47.8 33.8h1.7v1.8h-1.7zM149.3 33.8h1.7v1.8h-1.7zM158.0 33.8h1.7v1.8h-1.7zM166.7 33.8h1.7v1.8h-1.7zM49.3 35.2h1.7v1.8h-1.7zM111.6 35.2h1.7v1.8h-1.7zM123.2 36.7h1.7v1.8h-1.7zM158.0 36.7h1.7v1.8h-1.7zM65.2 39.6h3.2v1.8h-3.2zM100.0 41.1h1.7v1.8h-1.7zM118.8 42.6h1.7v1.8h-1.7zM124.6 42.6h1.7v1.8h-1.7zM124.6 44.0h1.7v1.8h-1.7zM160.9 45.5h1.7v1.8h-1.7zM118.8 48.4h1.7v1.8h-1.7zM126.1 48.4h1.7v1.8h-1.7zM163.8 48.4h1.7v1.8h-1.7zM171.0 48.4h1.7v1.8h-1.7zM121.7 49.9h3.2v1.8h-3.2zM79.7 52.8h1.7v1.8h-1.7zM113.0 52.8h1.7v1.8h-1.7zM117.4 52.8h1.7v1.8h-1.7zM69.6 54.3h1.7v1.8h-1.7zM133.3 54.3h1.7v1.8h-1.7zM182.6 54.3h1.7v1.8h-1.7zM65.2 55.8h1.7v1.8h-1.7zM75.4 55.8h1.7v1.8h-1.7zM62.3 57.2h1.7v1.8h-1.7zM124.6 58.7h1.7v1.8h-1.7zM176.8 58.7h1.7v1.8h-1.7zM171.0 61.6h1.7v1.8h-1.7zM188.4 61.6h1.7v1.8h-1.7zM71.0 63.1h1.7v1.8h-1.7zM192.8 63.1h1.7v1.8h-1.7zM62.3 64.6h1.7v1.8h-1.7zM72.5 66.1h1.7v1.8h-1.7zM176.8 66.1h1.7v1.8h-1.7zM60.9 69.0h1.7v1.8h-1.7zM188.4 69.0h1.7v1.8h-1.7zM60.9 70.5h1.7v1.8h-1.7z"/>
<path fill="#fdb96b" d="M11.6 4.4h1.7v1.8h-1.7zM14.5 4.4h1.7v1.8h-1.7zM15.9 5.9h1.7v1.8h-1.7zM20.3 5.9h3.2v1.8h-3.2zM142.0 5.9h1.7v1.8h-1.7zM202.9 5.9h1.7v1.8h-1.7zM7.2 7.3h1.7v1.8h-1.7zM124.6 8.8h1.7v1.8h-1.7zM39.1 10.3h1.7v1.8h-1.7zM140.6 10.3h1.7v1.8h-1.7zM173.9 10.3h1.7v1.8h-1.7zM102.9 11.7h1.7v1.8h-1.7zM130.4 11.7h1.7v1.8h-1.7zM160.9 11.7h1.7v1.8h-1.7zM165.2 11.7h1.7v1.8h-1.7zM171.0 11.7h1.7v1.8h-1.7zM175.4 11.7h1.7v1.8h-1.7zM56.5 13.2h1.7v1.8h-1.7zM126.1 13.2h1.7v1.8h-1.7zM184.1 13.2h1.7v1.8h-1.7zM53.6 14.7h1.7v1.8h-1.7zM69.6 14.7h1.7v1.8h-1.7zM104.3 14.7h1.7v1.8h-1.7zM123.2 14.7h1.7v1.8h-1.7zM140.6 14.7h1.7v1.8h-1.7zM33.3 16.1h1.7v1.8h-1.7zM98.6 16.1h1.7v1.8h-1.7zM149.3 16.1h1.7v1.8h-1.7zM42.0 17.6h1.7v1.8h-1.7zM71.0 17.6h3.2v1.8h-3.2zM187.0 17.6h1.7v1.8h-1.7zM52.2 19.1h1.7v1.8h-1.7zM102.9 19.1h1.7v1.8h-1.7zM124.6 19.1h1.7v1.8h-1.7zM127.5 19.1h1.7v1.8h-1.7zM191.3 19.1h1.7v1.8h-1.7zM62.3 20.5h3.2v1.8h-3.2zM101.5 20.5h1.7v1.8h-1.7zM117.4 20.5h1.7v1.8h-1.7zM124.6 20.5h1.7v1.8h-1.7zM175.4 20.5h1.7v1.8h-1.7zM52.2 23.5h1.7v1.8h-1.7zM127.5 23.5h1.7v1.8h-1.7zM159.4 23.5h1.7v1.8h-1.7zM101.5 25.0h1.7v1.8h-1.7zM127.5 25.0h1.7v1.8h-1.7zM173.9 25.0h1.7v1.8h-1.7zM176.8 25.0h1.7v1.8h-1.7zM56.5 26.4h1.7v1.8h-1.7zM107.2 26.4h3.2v1.8h-3.2zM111.6 26.4h1.7v1.8h-1.7zM129.0 26.4h1.7v1.8h-1.7zM182.6 26.4h1.7v1.8h-1.7zM136.2 27.9h1.7v1.8h-1.7zM147.8 27.9h1.7v1.8h-1.7zM173.9 27.9h1.7v1.8h-1.7zM44.9 29.4h1.7v1.8h-1.7zM126.1 29.4h1.7v1.8h-1.7zM130.4 29.4h1.7v1.8h-1.7zM134.8 29.4h1.7v1.8h-1.7zM56.5 30.8h1.7v1.8h-1.7zM59.4 30.8h1.7v1.8h-1.7zM136.2 30.8h1.7v1.8h-1.7zM142.0 30.8h1.7v1.8h-1.7zM147.8 30.8h1.7v1.8h-1.7zM153.6 30.8h1.7v1.8h-1.7zM158.0 32.3h1.7v1.8h-1.7zM163.8 32.3h1.7v1.8h-1.7zM44.9 33.8h1.7v1.8h-1.7zM126.1 33.8h1.7v1.8h-1.7zM156.5 33.8h1.7v1.8h-1.7zM46.4 35.2h3.2v1.8h-3.2zM95.7 35.2h1.7v1.8h-1.7zM133.3 35.2h1.7v1.8h-1.7zM95.7 36.7h1.7v1.8h-1.7zM113.0 36.7h1.7v1.8h-1.7zM121.7 36.7h1.7v1.8h-1.7zM104.3 38.2h1.7v1.8h-1.7zM97.1 39.6h1.7v1.8h-1.7zM121.7 39.6h1.7v1.8h-1.7zM129.0 39.6h1.7v1.8h-1.7zM68.1 41.1h1.7v1.8h-1.7zM101.5 41.1h1.7v1.8h-1.7zM113.0 41.1h1.7v1.8h-1.7zM62.3 42.6h1.7v1.8h-1.7zM66.7 42.6h1.7v1.8h-1.7zM114.5 42.6h1.7v1.8h-1.7zM176.8 42.6h1.7v1.8h-1.7zM58.0 45.5h1.7v1.8h-1.7zM56.5 47.0h1.7v1.8h-1.7zM120.3 47.0h1.7v1.8h-1.7zM58.0 48.4h1.7v1.8h-1.7zM79.7 49.9h1.7v1.8h-1.7zM110.1 49.9h1.7v1.8h-1.7zM114.5 49.9h1.7v1.8h-1.7zM166.7 49.9h1.7v1.8h-1.7zM82.6 51.4h1.7v1.8h-1.7zM121.7 51.4h1.7v1.8h-1.7zM62.3 54.3h1.7v1.8h-1.7zM69.6 55.8h1.7v1.8h-1.7zM110.1 55.8h3.2v1.8h-3.2zM63.8 58.7h1.7v1.8h-1.7zM69.6 58.7h1.7v1.8h-1.7zM182.6 58.7h1.7v1.8h-1.7zM185.5 58.7h1.7v1.8h-1.7zM65.2 60.2h1.7v1.8h-1.7zM175.4 61.6h1.7v1.8h-1.7zM172.5 63.1h1.7v1.8h-1.7zM188.4 63.1h1.7v1.8h-1.7zM63.8 66.1h1.7v1.8h-1.7zM185.5 66.1h1.7v1.8h-1.7zM204.4 67.5h1.7v1.8h-1.7zM189.9 69.0h1.7v1.8h-1.7zM63.8 70.5h3.2v1.8h-3.2zM189.9 70.5h1.7v1.8h-1.7zM62.3 71.9h1.7v1.8h-1.7zM188.4 71.9h1.7v1.8h-1.7z"/>
<path fill="#fdb366" d="M146.4 4.4h1.7v1.8h-1.7zM1.4 5.9h1.7v1.8h-1.7zM139.1 7.3h1.7v1.8h-1.7zM172.5 7.3h1.7v1.8h-1.7zM20.3 8.8h3.2v1.8h-3.2zM30.4 8.8h1.7v1.8h-1.7zM173.9 8.8h1.7v1.8h-1.7zM43.5 10.3h1.7v1.8h-1.7zM144.9 10.3h1.7v1.8h-1.7zM42.0 11.7h1.7v1.8h-1.7zM44.9 11.7h1.7v1.8h-1.7zM129.0 11.7h1.7v1.8h-1.7zM158.0 11.7h1.7v1.8h-1.7zM176.8 11.7h1.7v1.8h-1.7zM34.8 13.2h3.2v1.8h-3.2zM173.9 13.2h1.7v1.8h-1.7zM194.2 13.2h1.7v1.8h-1.7zM153.6 14.7h1.7v1.8h-1.7zM173.9 14.7h1.7v1.8h-1.7zM46.4 16.1h1.7v1.8h-1.7zM118.8 16.1h1.7v1.8h-1.7zM173.9 16.1h1.7v1.8h-1.7zM47.8 17.6h1.7v1.8h-1.7zM69.6 17.6h1.7v1.8h-1.7zM120.3 17.6h1.7v1.8h-1.7zM140.6 17.6h1.7v1.8h-1.7zM144.9 17.6h1.7v1.8h-1.7zM43.5 19.1h1.7v1.8h-1.7zM59.4 19.1h1.7v1.8h-1.7zM117.4 19.1h1.7v1.8h-1.7zM121.7 19.1h1.7v1.8h-1.7zM144.9 19.1h1.7v1.8h-1.7zM147.8 19.1h1.7v1.8h-1.7zM185.5 19.1h1.7v1.8h-1.7zM144.9 20.5h1.7v1.8h-1.7zM34.8 22.0h1.7v1.8h-1.7zM124.6 22.0h1.7v1.8h-1.7zM147.8 22.0h1.7v1.8h-1.7zM185.5 23.5h1.7v1.8h-1.7zM34.8 25.0h1.7v1.8h-1.7zM137.7 25.0h1.7v1.8h-1.7zM144.9 25.0h1.7v1.8h-1.7zM98.6 26.4h1.7v1.8h-1.7zM136.2 26.4h1.7v1.8h-1.7zM144.9 26.4h1.7v1.8h-1.7zM168.1 26.4h1.7v1.8h-1.7zM173.9 26.4h1.7v1.8h-1.7zM134.8 27.9h1.7v1.8h-1.7zM171.0 27.9h1.7v1.8h-1.7zM104.3 29.4h1.7v1.8h-1.7zM147.8 29.4h1.7v1.8h-1.7zM158.0 29.4h1.7v1.8h-1.7zM47.8 30.8h1.7v1.8h-1.7zM124.6 30.8h3.2v1.8h-3.2zM149.3 30.8h1.7v1.8h-1.7zM124.6 32.3h1.7v1.8h-1.7zM129.0 32.3h1.7v1.8h-1.7zM173.9 32.3h1.7v1.8h-1.7zM43.5 33.8h1.7v1.8h-1.7zM46.4 33.8h1.7v1.8h-1.7zM131.9 33.8h1.7v1.8h-1.7zM124.6 35.2h1.7v1.8h-1.7zM44.9 36.7h1.7v1.8h-1.7zM129.0 36.7h1.7v1.8h-1.7zM163.8 36.7h1.7v1.8h-1.7zM166.7 36.7h1.7v1.8h-1.7zM123.2 38.2h1.7v1.8h-1.7zM127.5 38.2h1.7v1.8h-1.7zM173.9 38.2h1.7v1.8h-1.7zM102.9 39.6h1.7v1.8h-1.7zM173.9 39.6h1.7v1.8h-1.7zM58.0 42.6h1.7v1.8h-1.7zM69.6 42.6h3.2v1.8h-3.2zM98.6 42.6h1.7v1.8h-1.7zM110.1 42.6h1.7v1.8h-1.7zM113.0 42.6h1.7v1.8h-1.7zM150.7 42.6h1.7v1.8h-1.7zM159.4 42.6h1.7v1.8h-1.7zM175.4 42.6h1.7v1.8h-1.7zM73.9 44.0h1.7v1.8h-1.7zM162.3 44.0h3.2v1.8h-3.2zM124.6 45.5h1.7v1.8h-1.7zM127.5 47.0h1.7v1.8h-1.7zM168.1 49.9h3.2v1.8h-3.2zM75.4 51.4h1.7v1.8h-1.7zM114.5 52.8h1.7v1.8h-1.7zM121.7 52.8h1.7v1.8h-1.7zM126.1 52.8h1.7v1.8h-1.7zM111.6 54.3h3.2v1.8h-3.2zM126.1 54.3h1.7v1.8h-1.7zM63.8 55.8h1.7v1.8h-1.7zM66.7 57.2h3.2v1.8h-3.2zM188.4 57.2h1.7v1.8h-1.7zM68.1 58.7h1.7v1.8h-1.7zM71.0 58.7h1.7v1.8h-1.7zM66.7 60.2h1.7v1.8h-1.7zM129.0 60.2h1.7v1.8h-1.7zM172.5 60.2h1.7v1.8h-1.7zM192.8 61.6h1.7v1.8h-1.7zM118.8 63.1h1.7v1.8h-1.7zM73.9 64.6h1.7v1.8h-1.7zM182.6 64.6h1.7v1.8h-1.7zM187.0 64.6h1.7v1.8h-1.7zM192.8 64.6h1.7v1.8h-1.7zM173.9 66.1h1.7v1.8h-1.7zM191.3 67.5h1.7v1.8h-1.7zM69.6 69.0h1.7v1.8h-1.7zM202.9 70.5h1.7v1.8h-1.7zM189.9 71.9h1.7v1.8h-1.7z"/>
<path fill="#fdaf62" d="M129.0 5.9h1.7v1.8h-1.7zM136.2 5.9h1.7v1.8h-1.7zM20.3 7.3h3.2v1.8h-3.2zM47.8 7.3h1.7v1.8h-1.7zM140.6 7.3h1.7v1.8h-1.7zM15.9 8.8h1.7v1.8h-1.7zM131.9 8.8h1.7v1.8h-1.7zM143.5 8.8h1.7v1.8h-1.7zM168.1 8.8h1.7v1.8h-1.7zM133.3 10.3h1.7v1.8h-1.7zM136.2 10.3h1.7v1.8h-1.7zM166.7 10.3h1.7v1.8h-1.7zM36.2 11.7h1.7v1.8h-1.7zM40.6 11.7h1.7v1.8h-1.7zM169.6 11.7h1.7v1.8h-1.7zM188.4 11.7h1.7v1.8h-1.7zM29.0 13.2h1.7v1.8h-1.7zM130.4 13.2h1.7v1.8h-1.7zM153.6 13.2h1.7v1.8h-1.7zM176.8 13.2h1.7v1.8h-1.7zM107.2 14.7h1.7v1.8h-1.7zM118.8 14.7h1.7v1.8h-1.7zM53.6 16.1h1.7v1.8h-1.7zM71.0 16.1h1.7v1.8h-1.7zM105.8 16.1h1.7v1.8h-1.7zM171.0 16.1h1.7v1.8h-1.7zM195.7 16.1h1.7v1.8h-1.7zM101.5 17.6h1.7v1.8h-1.7zM126.1 17.6h1.7v1.8h-1.7zM162.3 17.6h3.2v1.8h-3.2zM171.0 17.6h1.7v1.8h-1.7zM178.3 17.6h1.7v1.8h-1.7zM31.9 19.1h1.7v1.8h-1.7zM53.6 19.1h1.7v1.8h-1.7zM123.2 19.1h1.7v1.8h-1.7zM55.1 20.5h1.7v1.8h-1.7zM36.2 22.0h1.7v1.8h-1.7zM55.1 22.0h1.7v1.8h-1.7zM117.4 22.0h1.7v1.8h-1.7zM171.0 22.0h1.7v1.8h-1.7zM100.0 23.5h3.2v1.8h-3.2zM114.5 23.5h1.7v1.8h-1.7zM130.4 23.5h1.7v1.8h-1.7zM168.1 23.5h1.7v1.8h-1.7zM111.6 25.0h1.7v1.8h-1.7zM140.6 25.0h1.7v1.8h-1.7zM171.0 25.0h1.7v1.8h-1.7zM179.7 25.0h1.7v1.8h-1.7zM34.8 26.4h3.2v1.8h-3.2zM53.6 26.4h1.7v1.8h-1.7zM143.5 26.4h1.7v1.8h-1.7zM171.0 26.4h1.7v1.8h-1.7zM178.3 26.4h1.7v1.8h-1.7zM108.7 29.4h1.7v1.8h-1.7zM171.0 29.4h1.7v1.8h-1.7zM137.7 30.8h1.7v1.8h-1.7zM159.4 30.8h1.7v1.8h-1.7zM169.6 30.8h1.7v1.8h-1.7zM43.5 32.3h1.7v1.8h-1.7zM46.4 32.3h1.7v1.8h-1.7zM130.4 32.3h4.6v1.8h-4.6zM136.2 32.3h1.7v1.8h-1.7zM152.2 32.3h1.7v1.8h-1.7zM162.3 32.3h1.7v1.8h-1.7zM165.2 32.3h1.7v1.8h-1.7zM53.6 33.8h1.7v1.8h-1.7zM143.5 33.8h1.7v1.8h-1.7zM60.9 35.2h1.7v1.8h-1.7zM97.1 35.2h1.7v1.8h-1.7zM123.2 35.2h1.7v1.8h-1.7zM46.4 36.7h1.7v1.8h-1.7zM110.1 36.7h1.7v1.8h-1.7zM152.2 36.7h1.7v1.8h-1.7zM146.4 38.2h1.7v1.8h-1.7zM101.5 39.6h1.7v1.8h-1.7zM110.1 39.6h4.6v1.8h-4.6zM123.2 39.6h1.7v1.8h-1.7zM163.8 39.6h1.7v1.8h-1.7zM63.8 41.1h1.7v1.8h-1.7zM105.8 41.1h1.7v1.8h-1.7zM149.3 41.1h1.7v1.8h-1.7zM176.8 41.1h1.7v1.8h-1.7zM60.9 42.6h1.7v1.8h-1.7zM68.1 42.6h1.7v1.8h-1.7zM107.2 42.6h3.2v1.8h-3.2zM65.2 44.0h1.7v1.8h-1.7zM160.9 44.0h1.7v1.8h-1.7zM129.0 47.0h1.7v1.8h-1.7zM168.1 47.0h1.7v1.8h-1.7zM124.6 48.4h1.7v1.8h-1.7zM172.5 51.4h1.7v1.8h-1.7zM81.2 52.8h1.7v1.8h-1.7zM182.6 52.8h1.7v1.8h-1.7zM81.2 54.3h1.7v1.8h-1.7zM127.5 54.3h1.7v1.8h-1.7zM76.8 57.2h1.7v1.8h-1.7zM110.1 57.2h1.7v1.8h-1.7zM121.7 57.2h3.2v1.8h-3.2zM114.5 58.7h1.7v1.8h-1.7zM181.2 58.7h1.7v1.8h-1.7zM71.0 60.2h1.7v1.8h-1.7zM66.7 67.5h1.7v1.8h-1.7zM71.0 67.5h1.7v1.8h-1.7zM188.4 70.5h1.7v1.8h-1.7zM65.2 71.9h1.7v1.8h-1.7zM200.0 71.9h1.7v1.8h-1.7zM59.4 74.9h1.7v1.8h-1.7zM62.3 76.3h1.7v1.8h-1.7z"/>
<path fill="#fca85e" d="M121.7 4.4h1.7v1.8h-1.7zM143.5 5.9h1.7v1.8h-1.7zM14.5 7.3h1.7v1.8h-1.7zM176.8 7.3h1.7v1.8h-1.7zM13.0 8.8h1.7v1.8h-1.7zM153.6 8.8h1.7v1.8h-1.7zM46.4 10.3h1.7v1.8h-1.7zM108.7 10.3h1.7v1.8h-1.7zM43.5 11.7h1.7v1.8h-1.7zM118.8 11.7h1.7v1.8h-1.7zM166.7 11.7h1.7v1.8h-1.7zM49.3 13.2h1.7v1.8h-1.7zM181.2 13.2h1.7v1.8h-1.7zM146.4 14.7h1.7v1.8h-1.7zM27.5 16.1h1.7v1.8h-1.7zM39.1 16.1h1.7v1.8h-1.7zM44.9 16.1h1.7v1.8h-1.7zM69.6 16.1h1.7v1.8h-1.7zM108.7 16.1h1.7v1.8h-1.7zM156.5 16.1h1.7v1.8h-1.7zM184.1 16.1h3.2v1.8h-3.2zM34.8 17.6h3.2v1.8h-3.2zM149.3 17.6h1.7v1.8h-1.7zM176.8 17.6h1.7v1.8h-1.7zM34.8 19.1h1.7v1.8h-1.7zM37.7 19.1h1.7v1.8h-1.7zM55.1 19.1h4.6v1.8h-4.6zM113.0 19.1h1.7v1.8h-1.7zM176.8 19.1h1.7v1.8h-1.7zM36.2 20.5h1.7v1.8h-1.7zM65.2 20.5h1.7v1.8h-1.7zM111.6 20.5h1.7v1.8h-1.7zM173.9 20.5h1.7v1.8h-1.7zM44.9 22.0h1.7v1.8h-1.7zM60.9 22.0h1.7v1.8h-1.7zM165.2 22.0h3.2v1.8h-3.2zM34.8 23.5h1.7v1.8h-1.7zM39.1 23.5h1.7v1.8h-1.7zM47.8 23.5h1.7v1.8h-1.7zM56.5 23.5h1.7v1.8h-1.7zM108.7 23.5h1.7v1.8h-1.7zM126.1 23.5h1.7v1.8h-1.7zM129.0 23.5h1.7v1.8h-1.7zM100.0 25.0h1.7v1.8h-1.7zM129.0 25.0h1.7v1.8h-1.7zM178.3 25.0h1.7v1.8h-1.7zM36.2 27.9h1.7v1.8h-1.7zM46.4 27.9h1.7v1.8h-1.7zM137.7 27.9h1.7v1.8h-1.7zM160.9 27.9h1.7v1.8h-1.7zM172.5 27.9h1.7v1.8h-1.7zM55.1 29.4h1.7v1.8h-1.7zM107.2 29.4h1.7v1.8h-1.7zM118.8 29.4h1.7v1.8h-1.7zM156.5 29.4h1.7v1.8h-1.7zM37.7 30.8h1.7v1.8h-1.7zM58.0 30.8h1.7v1.8h-1.7zM171.0 30.8h1.7v1.8h-1.7zM137.7 32.3h1.7v1.8h-1.7zM143.5 32.3h3.2v1.8h-3.2zM171.0 32.3h1.7v1.8h-1.7zM52.2 33.8h1.7v1.8h-1.7zM59.4 33.8h1.7v1.8h-1.7zM127.5 33.8h1.7v1.8h-1.7zM147.8 33.8h1.7v1.8h-1.7zM110.1 35.2h1.7v1.8h-1.7zM153.6 35.2h1.7v1.8h-1.7zM166.7 35.2h1.7v1.8h-1.7zM120.3 36.7h1.7v1.8h-1.7zM134.8 36.7h1.7v1.8h-1.7zM146.4 36.7h1.7v1.8h-1.7zM162.3 36.7h1.7v1.8h-1.7zM102.9 38.2h1.7v1.8h-1.7zM131.9 38.2h1.7v1.8h-1.7zM163.8 38.2h1.7v1.8h-1.7zM95.7 39.6h1.7v1.8h-1.7zM131.9 39.6h1.7v1.8h-1.7zM147.8 41.1h1.7v1.8h-1.7zM120.3 42.6h1.7v1.8h-1.7zM98.6 44.0h1.7v1.8h-1.7zM108.7 44.0h1.7v1.8h-1.7zM127.5 44.0h1.7v1.8h-1.7zM126.1 47.0h1.7v1.8h-1.7zM113.0 49.9h1.7v1.8h-1.7zM76.8 51.4h1.7v1.8h-1.7zM73.9 54.3h1.7v1.8h-1.7zM115.9 54.3h1.7v1.8h-1.7zM124.6 54.3h1.7v1.8h-1.7zM127.5 55.8h1.7v1.8h-1.7zM178.3 55.8h1.7v1.8h-1.7zM187.0 55.8h1.7v1.8h-1.7zM114.5 57.2h1.7v1.8h-1.7zM117.4 57.2h1.7v1.8h-1.7zM185.5 57.2h1.7v1.8h-1.7zM121.7 58.7h1.7v1.8h-1.7zM179.7 58.7h1.7v1.8h-1.7zM184.1 58.7h1.7v1.8h-1.7zM188.4 58.7h1.7v1.8h-1.7zM111.6 60.2h1.7v1.8h-1.7zM188.4 60.2h1.7v1.8h-1.7zM71.0 61.6h1.7v1.8h-1.7zM185.5 63.1h1.7v1.8h-1.7zM179.7 64.6h1.7v1.8h-1.7zM69.6 67.5h1.7v1.8h-1.7zM187.0 67.5h1.7v1.8h-1.7zM189.9 67.5h1.7v1.8h-1.7zM187.0 69.0h1.7v1.8h-1.7zM204.4 69.0h1.7v1.8h-1.7zM60.9 77.8h1.7v1.8h-1.7z"/>
<path fill="#fba05b" d="M63.8 5.9h1.7v1.8h-1.7zM176.8 5.9h1.7v1.8h-1.7zM42.0 7.3h1.7v1.8h-1.7zM15.9 10.3h1.7v1.8h-1.7zM68.1 11.7h1.7v1.8h-1.7zM114.5 11.7h1.7v1.8h-1.7zM117.4 11.7h1.7v1.8h-1.7zM155.1 11.7h1.7v1.8h-1.7zM182.6 11.7h1.7v1.8h-1.7zM42.0 13.2h1.7v1.8h-1.7zM142.0 13.2h1.7v1.8h-1.7zM165.2 13.2h1.7v1.8h-1.7zM175.4 13.2h1.7v1.8h-1.7zM37.7 14.7h1.7v1.8h-1.7zM49.3 14.7h1.7v1.8h-1.7zM68.1 14.7h1.7v1.8h-1.7zM71.0 14.7h1.7v1.8h-1.7zM162.3 16.1h1.7v1.8h-1.7zM172.5 16.1h1.7v1.8h-1.7zM30.4 17.6h1.7v1.8h-1.7zM114.5 17.6h1.7v1.8h-1.7zM146.4 17.6h1.7v1.8h-1.7zM158.0 17.6h1.7v1.8h-1.7zM172.5 17.6h1.7v1.8h-1.7zM33.3 19.1h1.7v1.8h-1.7zM39.1 19.1h1.7v1.8h-1.7zM127.5 20.5h1.7v1.8h-1.7zM146.4 20.5h1.7v1.8h-1.7zM152.2 20.5h1.7v1.8h-1.7zM172.5 20.5h1.7v1.8h-1.7zM181.2 20.5h1.7v1.8h-1.7zM62.3 22.0h1.7v1.8h-1.7zM98.6 23.5h1.7v1.8h-1.7zM102.9 23.5h3.2v1.8h-3.2zM176.8 23.5h1.7v1.8h-1.7zM53.6 25.0h1.7v1.8h-1.7zM102.9 25.0h3.2v1.8h-3.2zM172.5 25.0h1.7v1.8h-1.7zM37.7 26.4h1.7v1.8h-1.7zM44.9 26.4h1.7v1.8h-1.7zM176.8 26.4h1.7v1.8h-1.7zM39.1 27.9h1.7v1.8h-1.7zM55.1 27.9h1.7v1.8h-1.7zM120.3 27.9h1.7v1.8h-1.7zM50.7 29.4h1.7v1.8h-1.7zM140.6 29.4h1.7v1.8h-1.7zM159.4 29.4h1.7v1.8h-1.7zM162.3 29.4h1.7v1.8h-1.7zM39.1 30.8h1.7v1.8h-1.7zM131.9 30.8h1.7v1.8h-1.7zM139.1 30.8h3.2v1.8h-3.2zM150.7 30.8h1.7v1.8h-1.7zM158.0 30.8h1.7v1.8h-1.7zM108.7 35.2h1.7v1.8h-1.7zM129.0 35.2h1.7v1.8h-1.7zM150.7 35.2h1.7v1.8h-1.7zM158.0 35.2h1.7v1.8h-1.7zM160.9 35.2h1.7v1.8h-1.7zM163.8 35.2h1.7v1.8h-1.7zM108.7 36.7h1.7v1.8h-1.7zM113.0 38.2h1.7v1.8h-1.7zM175.4 38.2h1.7v1.8h-1.7zM108.7 39.6h1.7v1.8h-1.7zM107.2 41.1h1.7v1.8h-1.7zM160.9 41.1h1.7v1.8h-1.7zM102.9 42.6h3.2v1.8h-3.2zM165.2 48.4h1.7v1.8h-1.7zM76.8 49.9h3.2v1.8h-3.2zM163.8 49.9h1.7v1.8h-1.7zM124.6 51.4h1.7v1.8h-1.7zM127.5 52.8h1.7v1.8h-1.7zM179.7 52.8h1.7v1.8h-1.7zM187.0 52.8h1.7v1.8h-1.7zM59.4 54.3h1.7v1.8h-1.7zM75.4 54.3h1.7v1.8h-1.7zM187.0 54.3h1.7v1.8h-1.7zM115.9 55.8h1.7v1.8h-1.7zM129.0 55.8h1.7v1.8h-1.7zM176.8 55.8h1.7v1.8h-1.7zM181.2 55.8h1.7v1.8h-1.7zM81.2 57.2h1.7v1.8h-1.7zM111.6 57.2h1.7v1.8h-1.7zM120.3 57.2h1.7v1.8h-1.7zM129.0 57.2h1.7v1.8h-1.7zM189.9 58.7h1.7v1.8h-1.7zM72.5 60.2h1.7v1.8h-1.7zM117.4 60.2h1.7v1.8h-1.7zM121.7 60.2h4.6v1.8h-4.6zM185.5 60.2h1.7v1.8h-1.7zM182.6 63.1h1.7v1.8h-1.7zM191.3 63.1h1.7v1.8h-1.7zM191.3 64.6h1.7v1.8h-1.7zM69.6 66.1h1.7v1.8h-1.7zM187.0 66.1h1.7v1.8h-1.7zM62.3 67.5h1.7v1.8h-1.7zM204.4 70.5h1.7v1.8h-1.7zM202.9 71.9h1.7v1.8h-1.7zM62.3 74.9h1.7v1.8h-1.7z"/>
<path fill="#fa9b58" d="M144.9 4.4h1.7v1.8h-1.7zM121.7 5.9h1.7v1.8h-1.7zM1.4 7.3h1.7v1.8h-1.7zM121.7 7.3h3.2v1.8h-3.2zM127.5 7.3h1.7v1.8h-1.7zM168.1 7.3h1.7v1.8h-1.7zM204.4 7.3h1.7v1.8h-1.7zM44.9 8.8h1.7v1.8h-1.7zM95.7 8.8h1.7v1.8h-1.7zM175.4 8.8h1.7v1.8h-1.7zM59.4 10.3h1.7v1.8h-1.7zM107.2 10.3h1.7v1.8h-1.7zM130.4 10.3h1.7v1.8h-1.7zM160.9 10.3h1.7v1.8h-1.7zM169.6 10.3h1.7v1.8h-1.7zM121.7 11.7h1.7v1.8h-1.7zM156.5 11.7h1.7v1.8h-1.7zM115.9 13.2h1.7v1.8h-1.7zM127.5 13.2h1.7v1.8h-1.7zM136.2 13.2h1.7v1.8h-1.7zM143.5 13.2h1.7v1.8h-1.7zM150.7 13.2h1.7v1.8h-1.7zM155.1 13.2h1.7v1.8h-1.7zM168.1 13.2h1.7v1.8h-1.7zM124.6 14.7h3.2v1.8h-3.2zM166.7 14.7h1.7v1.8h-1.7zM55.1 16.1h1.7v1.8h-1.7zM124.6 16.1h1.7v1.8h-1.7zM133.3 16.1h1.7v1.8h-1.7zM123.2 17.6h1.7v1.8h-1.7zM133.3 17.6h1.7v1.8h-1.7zM44.9 19.1h1.7v1.8h-1.7zM43.5 20.5h1.7v1.8h-1.7zM168.1 20.5h1.7v1.8h-1.7zM176.8 20.5h1.7v1.8h-1.7zM42.0 22.0h1.7v1.8h-1.7zM139.1 22.0h1.7v1.8h-1.7zM146.4 22.0h1.7v1.8h-1.7zM36.2 23.5h1.7v1.8h-1.7zM118.8 23.5h1.7v1.8h-1.7zM160.9 23.5h1.7v1.8h-1.7zM37.7 25.0h1.7v1.8h-1.7zM120.3 25.0h1.7v1.8h-1.7zM55.1 26.4h1.7v1.8h-1.7zM59.4 26.4h1.7v1.8h-1.7zM181.2 26.4h1.7v1.8h-1.7zM44.9 27.9h1.7v1.8h-1.7zM108.7 27.9h1.7v1.8h-1.7zM144.9 27.9h1.7v1.8h-1.7zM168.1 27.9h1.7v1.8h-1.7zM52.2 29.4h1.7v1.8h-1.7zM56.5 29.4h1.7v1.8h-1.7zM114.5 29.4h1.7v1.8h-1.7zM136.2 29.4h1.7v1.8h-1.7zM172.5 30.8h1.7v1.8h-1.7zM43.5 35.2h1.7v1.8h-1.7zM121.7 35.2h1.7v1.8h-1.7zM127.5 35.2h1.7v1.8h-1.7zM147.8 35.2h1.7v1.8h-1.7zM159.4 35.2h1.7v1.8h-1.7zM105.8 36.7h1.7v1.8h-1.7zM159.4 36.7h1.7v1.8h-1.7zM95.7 38.2h1.7v1.8h-1.7zM101.5 38.2h1.7v1.8h-1.7zM105.8 38.2h1.7v1.8h-1.7zM129.0 38.2h3.2v1.8h-3.2zM124.6 39.6h4.6v1.8h-4.6zM130.4 39.6h1.7v1.8h-1.7zM114.5 41.1h1.7v1.8h-1.7zM129.0 41.1h3.2v1.8h-3.2zM127.5 42.6h1.7v1.8h-1.7zM58.0 44.0h1.7v1.8h-1.7zM65.2 45.5h1.7v1.8h-1.7zM108.7 45.5h1.7v1.8h-1.7zM126.1 45.5h1.7v1.8h-1.7zM162.3 45.5h1.7v1.8h-1.7zM79.7 48.4h1.7v1.8h-1.7zM165.2 49.9h1.7v1.8h-1.7zM78.3 51.4h1.7v1.8h-1.7zM120.3 51.4h1.7v1.8h-1.7zM166.7 51.4h3.2v1.8h-3.2zM173.9 51.4h1.7v1.8h-1.7zM181.2 54.3h1.7v1.8h-1.7zM60.9 55.8h1.7v1.8h-1.7zM118.8 55.8h1.7v1.8h-1.7zM175.4 55.8h1.7v1.8h-1.7zM173.9 57.2h1.7v1.8h-1.7zM73.9 58.7h1.7v1.8h-1.7zM118.8 58.7h3.2v1.8h-3.2zM172.5 58.7h1.7v1.8h-1.7zM78.3 60.2h1.7v1.8h-1.7zM182.6 60.2h1.7v1.8h-1.7zM189.9 60.2h1.7v1.8h-1.7zM120.3 61.6h1.7v1.8h-1.7zM117.4 63.1h1.7v1.8h-1.7zM118.8 64.6h1.7v1.8h-1.7zM65.2 66.1h1.7v1.8h-1.7zM68.1 66.1h1.7v1.8h-1.7zM114.5 66.1h1.7v1.8h-1.7zM181.2 66.1h1.7v1.8h-1.7zM59.4 73.4h1.7v1.8h-1.7zM200.0 73.4h1.7v1.8h-1.7z"/>
<path fill="#f99355" d="M152.2 7.3h1.7v1.8h-1.7zM108.7 8.8h1.7v1.8h-1.7zM163.8 8.8h1.7v1.8h-1.7zM58.0 10.3h1.7v1.8h-1.7zM21.7 11.7h1.7v1.8h-1.7zM100.0 11.7h1.7v1.8h-1.7zM162.3 11.7h1.7v1.8h-1.7zM11.6 13.2h1.7v1.8h-1.7zM43.5 13.2h1.7v1.8h-1.7zM62.3 13.2h1.7v1.8h-1.7zM118.8 13.2h3.2v1.8h-3.2zM40.6 14.7h1.7v1.8h-1.7zM44.9 14.7h1.7v1.8h-1.7zM56.5 14.7h1.7v1.8h-1.7zM139.1 14.7h1.7v1.8h-1.7zM168.1 14.7h1.7v1.8h-1.7zM36.2 16.1h3.2v1.8h-3.2zM115.9 16.1h1.7v1.8h-1.7zM43.5 17.6h1.7v1.8h-1.7zM63.8 17.6h1.7v1.8h-1.7zM113.0 17.6h1.7v1.8h-1.7zM118.8 17.6h1.7v1.8h-1.7zM156.5 17.6h1.7v1.8h-1.7zM65.2 19.1h1.7v1.8h-1.7zM172.5 19.1h1.7v1.8h-1.7zM37.7 20.5h1.7v1.8h-1.7zM44.9 20.5h3.2v1.8h-3.2zM56.5 20.5h1.7v1.8h-1.7zM147.8 20.5h3.2v1.8h-3.2zM171.0 20.5h1.7v1.8h-1.7zM37.7 22.0h1.7v1.8h-1.7zM172.5 22.0h1.7v1.8h-1.7zM178.3 22.0h1.7v1.8h-1.7zM37.7 23.5h1.7v1.8h-1.7zM140.6 23.5h1.7v1.8h-1.7zM169.6 23.5h1.7v1.8h-1.7zM184.1 23.5h1.7v1.8h-1.7zM166.7 25.0h3.2v1.8h-3.2zM46.4 26.4h1.7v1.8h-1.7zM178.3 27.9h1.7v1.8h-1.7zM43.5 29.4h1.7v1.8h-1.7zM49.3 29.4h1.7v1.8h-1.7zM113.0 29.4h1.7v1.8h-1.7zM137.7 29.4h1.7v1.8h-1.7zM144.9 29.4h1.7v1.8h-1.7zM165.2 29.4h1.7v1.8h-1.7zM146.4 32.3h1.7v1.8h-1.7zM137.7 33.8h1.7v1.8h-1.7zM146.4 33.8h1.7v1.8h-1.7zM104.3 35.2h1.7v1.8h-1.7zM146.4 35.2h1.7v1.8h-1.7zM149.3 35.2h1.7v1.8h-1.7zM97.1 36.7h1.7v1.8h-1.7zM126.1 36.7h3.2v1.8h-3.2zM147.8 36.7h1.7v1.8h-1.7zM173.9 36.7h1.7v1.8h-1.7zM50.7 38.2h1.7v1.8h-1.7zM55.1 38.2h1.7v1.8h-1.7zM97.1 38.2h1.7v1.8h-1.7zM107.2 38.2h1.7v1.8h-1.7zM114.5 38.2h1.7v1.8h-1.7zM118.8 38.2h1.7v1.8h-1.7zM126.1 38.2h1.7v1.8h-1.7zM63.8 39.6h1.7v1.8h-1.7zM117.4 39.6h1.7v1.8h-1.7zM165.2 39.6h1.7v1.8h-1.7zM175.4 39.6h1.7v1.8h-1.7zM117.4 41.1h1.7v1.8h-1.7zM127.5 41.1h1.7v1.8h-1.7zM150.7 41.1h1.7v1.8h-1.7zM56.5 45.5h1.7v1.8h-1.7zM66.7 45.5h1.7v1.8h-1.7zM58.0 47.0h1.7v1.8h-1.7zM120.3 48.4h1.7v1.8h-1.7zM75.4 49.9h1.7v1.8h-1.7zM120.3 49.9h1.7v1.8h-1.7zM59.4 51.4h1.7v1.8h-1.7zM72.5 54.3h1.7v1.8h-1.7zM114.5 54.3h1.7v1.8h-1.7zM179.7 54.3h1.7v1.8h-1.7zM185.5 54.3h1.7v1.8h-1.7zM68.1 55.8h1.7v1.8h-1.7zM123.2 55.8h1.7v1.8h-1.7zM133.3 55.8h1.7v1.8h-1.7zM179.7 55.8h1.7v1.8h-1.7zM172.5 57.2h1.7v1.8h-1.7zM178.3 57.2h3.2v1.8h-3.2zM182.6 57.2h1.7v1.8h-1.7zM118.8 60.2h1.7v1.8h-1.7zM69.6 61.6h1.7v1.8h-1.7zM75.4 61.6h1.7v1.8h-1.7zM111.6 61.6h1.7v1.8h-1.7zM115.9 61.6h1.7v1.8h-1.7zM123.2 61.6h1.7v1.8h-1.7zM69.6 63.1h1.7v1.8h-1.7zM173.9 63.1h1.7v1.8h-1.7zM184.1 63.1h1.7v1.8h-1.7zM68.1 64.6h1.7v1.8h-1.7zM66.7 66.1h1.7v1.8h-1.7zM175.4 66.1h1.7v1.8h-1.7zM65.2 67.5h1.7v1.8h-1.7zM63.8 73.4h1.7v1.8h-1.7zM65.2 74.9h1.7v1.8h-1.7zM63.8 76.3h1.7v1.8h-1.7z"/>
<path fill="#f88c51" d="M117.4 4.4h1.7v1.8h-1.7zM115.9 5.9h1.7v1.8h-1.7zM127.5 5.9h1.7v1.8h-1.7zM111.6 7.3h1.7v1.8h-1.7zM120.3 7.3h1.7v1.8h-1.7zM129.0 7.3h1.7v1.8h-1.7zM136.2 7.3h1.7v1.8h-1.7zM127.5 8.8h1.7v1.8h-1.7zM162.3 8.8h1.7v1.8h-1.7zM10.1 10.3h1.7v1.8h-1.7zM50.7 10.3h1.7v1.8h-1.7zM126.1 10.3h1.7v1.8h-1.7zM152.2 10.3h1.7v1.8h-1.7zM162.3 10.3h1.7v1.8h-1.7zM171.0 10.3h1.7v1.8h-1.7zM37.7 11.7h1.7v1.8h-1.7zM134.8 11.7h1.7v1.8h-1.7zM142.0 11.7h1.7v1.8h-1.7zM172.5 11.7h1.7v1.8h-1.7zM156.5 13.2h1.7v1.8h-1.7zM31.9 14.7h1.7v1.8h-1.7zM98.6 14.7h1.7v1.8h-1.7zM101.5 14.7h1.7v1.8h-1.7zM144.9 14.7h1.7v1.8h-1.7zM159.4 14.7h1.7v1.8h-1.7zM176.8 14.7h3.2v1.8h-3.2zM194.2 14.7h3.2v1.8h-3.2zM107.2 16.1h1.7v1.8h-1.7zM126.1 16.1h1.7v1.8h-1.7zM144.9 16.1h1.7v1.8h-1.7zM158.0 16.1h1.7v1.8h-1.7zM178.3 16.1h1.7v1.8h-1.7zM194.2 16.1h1.7v1.8h-1.7zM63.8 19.1h1.7v1.8h-1.7zM162.3 19.1h1.7v1.8h-1.7zM179.7 19.1h1.7v1.8h-1.7zM42.0 20.5h1.7v1.8h-1.7zM144.9 22.0h1.7v1.8h-1.7zM165.2 23.5h3.2v1.8h-3.2zM172.5 23.5h1.7v1.8h-1.7zM42.0 25.0h1.7v1.8h-1.7zM130.4 25.0h1.7v1.8h-1.7zM33.3 26.4h1.7v1.8h-1.7zM47.8 26.4h1.7v1.8h-1.7zM50.7 26.4h1.7v1.8h-1.7zM58.0 26.4h1.7v1.8h-1.7zM123.2 26.4h1.7v1.8h-1.7zM137.7 26.4h1.7v1.8h-1.7zM179.7 26.4h1.7v1.8h-1.7zM47.8 27.9h1.7v1.8h-1.7zM127.5 27.9h1.7v1.8h-1.7zM166.7 27.9h1.7v1.8h-1.7zM169.6 27.9h1.7v1.8h-1.7zM39.1 29.4h1.7v1.8h-1.7zM143.5 29.4h1.7v1.8h-1.7zM152.2 29.4h1.7v1.8h-1.7zM163.8 29.4h1.7v1.8h-1.7zM156.5 30.8h1.7v1.8h-1.7zM160.9 30.8h3.2v1.8h-3.2zM150.7 33.8h1.7v1.8h-1.7zM159.4 33.8h1.7v1.8h-1.7zM44.9 35.2h1.7v1.8h-1.7zM105.8 35.2h1.7v1.8h-1.7zM114.5 35.2h1.7v1.8h-1.7zM126.1 35.2h1.7v1.8h-1.7zM162.3 35.2h1.7v1.8h-1.7zM101.5 36.7h1.7v1.8h-1.7zM124.6 36.7h1.7v1.8h-1.7zM100.0 38.2h1.7v1.8h-1.7zM110.1 38.2h1.7v1.8h-1.7zM166.7 38.2h1.7v1.8h-1.7zM55.1 39.6h1.7v1.8h-1.7zM100.0 39.6h1.7v1.8h-1.7zM62.3 41.1h1.7v1.8h-1.7zM131.9 41.1h1.7v1.8h-1.7zM59.4 42.6h1.7v1.8h-1.7zM129.0 42.6h1.7v1.8h-1.7zM131.9 42.6h1.7v1.8h-1.7zM129.0 45.5h1.7v1.8h-1.7zM111.6 47.0h1.7v1.8h-1.7zM58.0 49.9h1.7v1.8h-1.7zM115.9 49.9h1.7v1.8h-1.7zM115.9 51.4h1.7v1.8h-1.7zM75.4 52.8h1.7v1.8h-1.7zM181.2 52.8h1.7v1.8h-1.7zM185.5 52.8h1.7v1.8h-1.7zM121.7 54.3h3.2v1.8h-3.2zM76.8 55.8h1.7v1.8h-1.7zM81.2 55.8h1.7v1.8h-1.7zM117.4 55.8h1.7v1.8h-1.7zM121.7 55.8h1.7v1.8h-1.7zM185.5 55.8h1.7v1.8h-1.7zM118.8 57.2h1.7v1.8h-1.7zM123.2 58.7h1.7v1.8h-1.7zM173.9 58.7h1.7v1.8h-1.7zM187.0 61.6h1.7v1.8h-1.7zM62.3 63.1h1.7v1.8h-1.7zM189.9 63.1h1.7v1.8h-1.7zM117.4 64.6h1.7v1.8h-1.7zM171.0 66.1h1.7v1.8h-1.7zM68.1 67.5h1.7v1.8h-1.7zM60.9 73.4h1.7v1.8h-1.7zM201.5 73.4h1.7v1.8h-1.7zM63.8 74.9h1.7v1.8h-1.7zM62.3 77.8h1.7v1.8h-1.7zM63.8 79.3h1.7v1.8h-1.7z"/>
<path fill="#f8864f" d="M143.5 2.9h1.7v1.8h-1.7zM120.3 4.4h1.7v1.8h-1.7zM179.7 4.4h1.7v1.8h-1.7zM188.4 4.4h1.7v1.8h-1.7zM123.2 5.9h1.7v1.8h-1.7zM130.4 5.9h3.2v1.8h-3.2zM165.2 5.9h1.7v1.8h-1.7zM65.2 7.3h1.7v1.8h-1.7zM124.6 7.3h1.7v1.8h-1.7zM123.2 8.8h1.7v1.8h-1.7zM126.1 8.8h1.7v1.8h-1.7zM130.4 8.8h1.7v1.8h-1.7zM133.3 8.8h3.2v1.8h-3.2zM152.2 8.8h1.7v1.8h-1.7zM176.8 8.8h1.7v1.8h-1.7zM182.6 8.8h1.7v1.8h-1.7zM14.5 10.3h1.7v1.8h-1.7zM159.4 10.3h1.7v1.8h-1.7zM123.2 11.7h1.7v1.8h-1.7zM178.3 13.2h1.7v1.8h-1.7zM34.8 14.7h1.7v1.8h-1.7zM55.1 14.7h1.7v1.8h-1.7zM100.0 14.7h1.7v1.8h-1.7zM117.4 14.7h1.7v1.8h-1.7zM120.3 14.7h1.7v1.8h-1.7zM134.8 14.7h1.7v1.8h-1.7zM172.5 14.7h1.7v1.8h-1.7zM134.8 16.1h1.7v1.8h-1.7zM142.0 16.1h1.7v1.8h-1.7zM134.8 17.6h1.7v1.8h-1.7zM42.0 19.1h1.7v1.8h-1.7zM60.9 19.1h1.7v1.8h-1.7zM133.3 19.1h1.7v1.8h-1.7zM146.4 19.1h1.7v1.8h-1.7zM184.1 19.1h1.7v1.8h-1.7zM39.1 20.5h1.7v1.8h-1.7zM40.6 22.0h1.7v1.8h-1.7zM43.5 22.0h1.7v1.8h-1.7zM98.6 22.0h1.7v1.8h-1.7zM169.6 22.0h1.7v1.8h-1.7zM179.7 22.0h1.7v1.8h-1.7zM40.6 25.0h1.7v1.8h-1.7zM46.4 25.0h1.7v1.8h-1.7zM108.7 25.0h1.7v1.8h-1.7zM184.1 25.0h1.7v1.8h-1.7zM39.1 26.4h1.7v1.8h-1.7zM37.7 27.9h1.7v1.8h-1.7zM146.4 27.9h1.7v1.8h-1.7zM127.5 29.4h1.7v1.8h-1.7zM142.0 29.4h1.7v1.8h-1.7zM129.0 33.8h1.7v1.8h-1.7zM98.6 35.2h1.7v1.8h-1.7zM113.0 35.2h1.7v1.8h-1.7zM130.4 35.2h3.2v1.8h-3.2zM50.7 36.7h1.7v1.8h-1.7zM94.2 36.7h1.7v1.8h-1.7zM100.0 36.7h1.7v1.8h-1.7zM102.9 36.7h1.7v1.8h-1.7zM130.4 36.7h1.7v1.8h-1.7zM160.9 36.7h1.7v1.8h-1.7zM165.2 36.7h1.7v1.8h-1.7zM107.2 39.6h1.7v1.8h-1.7zM114.5 39.6h1.7v1.8h-1.7zM58.0 41.1h1.7v1.8h-1.7zM102.9 41.1h1.7v1.8h-1.7zM115.9 41.1h1.7v1.8h-1.7zM172.5 41.1h1.7v1.8h-1.7zM105.8 42.6h1.7v1.8h-1.7zM126.1 42.6h1.7v1.8h-1.7zM130.4 42.6h1.7v1.8h-1.7zM121.7 44.0h1.7v1.8h-1.7zM127.5 45.5h1.7v1.8h-1.7zM73.9 52.8h1.7v1.8h-1.7zM82.6 52.8h1.7v1.8h-1.7zM76.8 54.3h1.7v1.8h-1.7zM73.9 57.2h1.7v1.8h-1.7zM78.3 57.2h3.2v1.8h-3.2zM176.8 57.2h1.7v1.8h-1.7zM181.2 57.2h1.7v1.8h-1.7zM66.7 58.7h1.7v1.8h-1.7zM115.9 58.7h1.7v1.8h-1.7zM129.0 58.7h1.7v1.8h-1.7zM121.7 61.6h1.7v1.8h-1.7zM129.0 61.6h1.7v1.8h-1.7zM113.0 64.6h1.7v1.8h-1.7zM169.6 64.6h3.2v1.8h-3.2zM172.5 66.1h1.7v1.8h-1.7zM182.6 66.1h1.7v1.8h-1.7zM185.5 67.5h1.7v1.8h-1.7zM65.2 69.0h1.7v1.8h-1.7zM68.1 69.0h1.7v1.8h-1.7zM68.1 70.5h1.7v1.8h-1.7zM60.9 76.3h1.7v1.8h-1.7z"/>
<path fill="#f67f4b" d="M65.2 5.9h1.7v1.8h-1.7zM124.6 5.9h3.2v1.8h-3.2zM169.6 5.9h1.7v1.8h-1.7zM56.5 7.3h1.7v1.8h-1.7zM126.1 7.3h1.7v1.8h-1.7zM191.3 7.3h1.7v1.8h-1.7zM159.4 8.8h1.7v1.8h-1.7zM171.0 8.8h1.7v1.8h-1.7zM182.6 10.3h1.7v1.8h-1.7zM33.3 11.7h1.7v1.8h-1.7zM113.0 11.7h1.7v1.8h-1.7zM133.3 11.7h1.7v1.8h-1.7zM168.1 11.7h1.7v1.8h-1.7zM40.6 13.2h1.7v1.8h-1.7zM68.1 13.2h1.7v1.8h-1.7zM101.5 13.2h1.7v1.8h-1.7zM166.7 13.2h1.7v1.8h-1.7zM36.2 14.7h1.7v1.8h-1.7zM102.9 16.1h1.7v1.8h-1.7zM166.7 16.1h1.7v1.8h-1.7zM65.2 17.6h1.7v1.8h-1.7zM127.5 17.6h1.7v1.8h-1.7zM142.0 17.6h3.2v1.8h-3.2zM160.9 17.6h1.7v1.8h-1.7zM181.2 17.6h1.7v1.8h-1.7zM173.9 19.1h3.2v1.8h-3.2zM60.9 20.5h1.7v1.8h-1.7zM98.6 20.5h1.7v1.8h-1.7zM50.7 22.0h1.7v1.8h-1.7zM143.5 23.5h1.7v1.8h-1.7zM39.1 25.0h1.7v1.8h-1.7zM107.2 25.0h1.7v1.8h-1.7zM131.9 25.0h1.7v1.8h-1.7zM182.6 25.0h1.7v1.8h-1.7zM49.3 26.4h1.7v1.8h-1.7zM162.3 26.4h1.7v1.8h-1.7zM50.7 27.9h1.7v1.8h-1.7zM56.5 27.9h1.7v1.8h-1.7zM165.2 27.9h1.7v1.8h-1.7zM42.0 30.8h1.7v1.8h-1.7zM130.4 30.8h1.7v1.8h-1.7zM150.7 32.3h1.7v1.8h-1.7zM117.4 35.2h1.7v1.8h-1.7zM152.2 35.2h1.7v1.8h-1.7zM114.5 36.7h1.7v1.8h-1.7zM120.3 38.2h1.7v1.8h-1.7zM147.8 38.2h1.7v1.8h-1.7zM68.1 39.6h1.7v1.8h-1.7zM118.8 39.6h1.7v1.8h-1.7zM147.8 39.6h3.2v1.8h-3.2zM162.3 39.6h1.7v1.8h-1.7zM120.3 41.1h1.7v1.8h-1.7zM126.1 41.1h1.7v1.8h-1.7zM117.4 42.6h1.7v1.8h-1.7zM117.4 49.9h1.7v1.8h-1.7zM58.0 51.4h1.7v1.8h-1.7zM79.7 51.4h1.7v1.8h-1.7zM171.0 51.4h1.7v1.8h-1.7zM62.3 52.8h1.7v1.8h-1.7zM63.8 54.3h1.7v1.8h-1.7zM71.0 54.3h1.7v1.8h-1.7zM78.3 55.8h1.7v1.8h-1.7zM113.0 55.8h1.7v1.8h-1.7zM72.5 57.2h1.7v1.8h-1.7zM115.9 57.2h1.7v1.8h-1.7zM72.5 58.7h1.7v1.8h-1.7zM73.9 60.2h1.7v1.8h-1.7zM173.9 60.2h1.7v1.8h-1.7zM130.4 61.6h1.7v1.8h-1.7zM169.6 61.6h1.7v1.8h-1.7zM114.5 63.1h1.7v1.8h-1.7zM187.0 63.1h1.7v1.8h-1.7zM115.9 66.1h1.7v1.8h-1.7zM184.1 66.1h1.7v1.8h-1.7zM205.8 69.0h1.7v1.8h-1.7zM65.2 73.4h1.7v1.8h-1.7zM65.2 79.3h1.7v1.8h-1.7z"/>
<path fill="#f57748" d="M115.9 4.4h1.7v1.8h-1.7zM111.6 5.9h1.7v1.8h-1.7zM120.3 5.9h1.7v1.8h-1.7zM37.7 8.8h1.7v1.8h-1.7zM121.7 8.8h1.7v1.8h-1.7zM42.0 10.3h1.7v1.8h-1.7zM118.8 10.3h1.7v1.8h-1.7zM123.2 10.3h3.2v1.8h-3.2zM153.6 11.7h1.7v1.8h-1.7zM163.8 11.7h1.7v1.8h-1.7zM173.9 11.7h1.7v1.8h-1.7zM31.9 13.2h1.7v1.8h-1.7zM134.8 13.2h1.7v1.8h-1.7zM133.3 14.7h1.7v1.8h-1.7zM197.1 14.7h1.7v1.8h-1.7zM42.0 16.1h1.7v1.8h-1.7zM100.0 16.1h1.7v1.8h-1.7zM140.6 16.1h1.7v1.8h-1.7zM176.8 16.1h1.7v1.8h-1.7zM37.7 17.6h1.7v1.8h-1.7zM129.0 17.6h1.7v1.8h-1.7zM139.1 17.6h1.7v1.8h-1.7zM129.0 19.1h1.7v1.8h-1.7zM134.8 19.1h1.7v1.8h-1.7zM182.6 19.1h1.7v1.8h-1.7zM33.3 20.5h1.7v1.8h-1.7zM150.7 20.5h1.7v1.8h-1.7zM39.1 22.0h1.7v1.8h-1.7zM142.0 22.0h1.7v1.8h-1.7zM42.0 23.5h1.7v1.8h-1.7zM44.9 23.5h1.7v1.8h-1.7zM185.5 25.0h1.7v1.8h-1.7zM40.6 26.4h1.7v1.8h-1.7zM40.6 29.4h1.7v1.8h-1.7zM139.1 29.4h1.7v1.8h-1.7zM146.4 29.4h1.7v1.8h-1.7zM40.6 30.8h1.7v1.8h-1.7zM152.2 33.8h1.7v1.8h-1.7zM160.9 33.8h1.7v1.8h-1.7zM102.9 35.2h1.7v1.8h-1.7zM108.7 38.2h1.7v1.8h-1.7zM115.9 38.2h1.7v1.8h-1.7zM98.6 39.6h1.7v1.8h-1.7zM105.8 39.6h1.7v1.8h-1.7zM81.2 51.4h1.7v1.8h-1.7zM113.0 51.4h1.7v1.8h-1.7zM117.4 51.4h1.7v1.8h-1.7zM59.4 52.8h1.7v1.8h-1.7zM131.9 55.8h1.7v1.8h-1.7zM187.0 57.2h1.7v1.8h-1.7zM79.7 58.7h1.7v1.8h-1.7zM117.4 58.7h1.7v1.8h-1.7zM117.4 61.6h1.7v1.8h-1.7zM185.5 61.6h1.7v1.8h-1.7zM75.4 63.1h1.7v1.8h-1.7zM172.5 64.6h1.7v1.8h-1.7zM178.3 64.6h1.7v1.8h-1.7zM117.4 66.1h1.7v1.8h-1.7zM66.7 70.5h1.7v1.8h-1.7zM66.7 71.9h1.7v1.8h-1.7zM65.2 77.8h1.7v1.8h-1.7z"/>
<path fill="#f57245" d="M118.8 5.9h1.7v1.8h-1.7zM163.8 5.9h1.7v1.8h-1.7zM191.3 5.9h1.7v1.8h-1.7zM110.1 7.3h1.7v1.8h-1.7zM115.9 7.3h1.7v1.8h-1.7zM8.7 8.8h1.7v1.8h-1.7zM111.6 8.8h1.7v1.8h-1.7zM166.7 8.8h1.7v1.8h-1.7zM62.3 10.3h1.7v1.8h-1.7zM121.7 10.3h1.7v1.8h-1.7zM165.2 10.3h1.7v1.8h-1.7zM136.2 11.7h1.7v1.8h-1.7zM26.1 13.2h1.7v1.8h-1.7zM100.0 13.2h1.7v1.8h-1.7zM102.9 13.2h1.7v1.8h-1.7zM117.4 13.2h1.7v1.8h-1.7zM121.7 13.2h1.7v1.8h-1.7zM111.6 14.7h1.7v1.8h-1.7zM34.8 16.1h1.7v1.8h-1.7zM114.5 16.1h1.7v1.8h-1.7zM117.4 16.1h1.7v1.8h-1.7zM163.8 16.1h1.7v1.8h-1.7zM150.7 17.6h1.7v1.8h-1.7zM175.4 17.6h1.7v1.8h-1.7zM62.3 19.1h1.7v1.8h-1.7zM114.5 19.1h1.7v1.8h-1.7zM150.7 19.1h1.7v1.8h-1.7zM181.2 19.1h1.7v1.8h-1.7zM100.0 20.5h1.7v1.8h-1.7zM169.6 20.5h1.7v1.8h-1.7zM100.0 22.0h1.7v1.8h-1.7zM31.9 23.5h3.2v1.8h-3.2zM131.9 23.5h1.7v1.8h-1.7zM162.3 25.0h1.7v1.8h-1.7zM43.5 26.4h1.7v1.8h-1.7zM42.0 29.4h1.7v1.8h-1.7zM160.9 32.3h1.7v1.8h-1.7zM49.3 36.7h1.7v1.8h-1.7zM117.4 36.7h1.7v1.8h-1.7zM150.7 36.7h1.7v1.8h-1.7zM166.7 39.6h1.7v1.8h-1.7zM95.7 41.1h1.7v1.8h-1.7zM124.6 41.1h1.7v1.8h-1.7zM133.3 41.1h1.7v1.8h-1.7zM129.0 44.0h1.7v1.8h-1.7zM82.6 48.4h1.7v1.8h-1.7zM76.8 52.8h3.2v1.8h-3.2zM115.9 52.8h1.7v1.8h-1.7zM130.4 54.3h1.7v1.8h-1.7zM130.4 57.2h1.7v1.8h-1.7zM78.3 58.7h1.7v1.8h-1.7zM113.0 58.7h1.7v1.8h-1.7zM79.7 60.2h1.7v1.8h-1.7zM120.3 63.1h1.7v1.8h-1.7zM123.2 63.1h1.7v1.8h-1.7zM178.3 63.1h1.7v1.8h-1.7zM114.5 64.6h1.7v1.8h-1.7zM66.7 69.0h1.7v1.8h-1.7zM185.5 69.0h1.7v1.8h-1.7zM60.9 74.9h1.7v1.8h-1.7z"/>
<path fill="#f36b42" d="M114.5 5.9h1.7v1.8h-1.7zM160.9 5.9h1.7v1.8h-1.7zM63.8 7.3h1.7v1.8h-1.7zM159.4 7.3h1.7v1.8h-1.7zM110.1 10.3h3.2v1.8h-3.2zM158.0 10.3h1.7v1.8h-1.7zM176.8 10.3h1.7v1.8h-1.7zM146.4 13.2h1.7v1.8h-1.7zM136.2 14.7h1.7v1.8h-1.7zM40.6 16.1h1.7v1.8h-1.7zM101.5 16.1h1.7v1.8h-1.7zM110.1 16.1h1.7v1.8h-1.7zM136.2 16.1h1.7v1.8h-1.7zM33.3 17.6h1.7v1.8h-1.7zM168.1 19.1h1.7v1.8h-1.7zM134.8 20.5h1.7v1.8h-1.7zM143.5 20.5h1.7v1.8h-1.7zM31.9 22.0h1.7v1.8h-1.7zM40.6 23.5h1.7v1.8h-1.7zM144.9 23.5h1.7v1.8h-1.7zM171.0 23.5h1.7v1.8h-1.7zM178.3 23.5h1.7v1.8h-1.7zM165.2 25.0h1.7v1.8h-1.7zM42.0 26.4h1.7v1.8h-1.7zM42.0 27.9h1.7v1.8h-1.7zM50.7 35.2h1.7v1.8h-1.7zM115.9 36.7h1.7v1.8h-1.7zM98.6 38.2h1.7v1.8h-1.7zM117.4 38.2h1.7v1.8h-1.7zM165.2 38.2h1.7v1.8h-1.7zM120.3 39.6h1.7v1.8h-1.7zM97.1 41.1h1.7v1.8h-1.7zM78.3 47.0h1.7v1.8h-1.7zM108.7 47.0h1.7v1.8h-1.7zM118.8 49.9h1.7v1.8h-1.7zM118.8 51.4h1.7v1.8h-1.7zM79.7 55.8h1.7v1.8h-1.7zM120.3 55.8h1.7v1.8h-1.7zM111.6 58.7h1.7v1.8h-1.7zM115.9 60.2h1.7v1.8h-1.7zM72.5 63.1h1.7v1.8h-1.7zM66.7 64.6h1.7v1.8h-1.7zM71.0 66.1h1.7v1.8h-1.7zM205.8 67.5h1.7v1.8h-1.7z"/>
<path fill="#ef633f" d="M168.1 5.9h1.7v1.8h-1.7zM172.5 5.9h1.7v1.8h-1.7zM117.4 7.3h3.2v1.8h-3.2zM162.3 7.3h1.7v1.8h-1.7zM94.2 8.8h1.7v1.8h-1.7zM120.3 8.8h1.7v1.8h-1.7zM192.8 8.8h1.7v1.8h-1.7zM120.3 10.3h1.7v1.8h-1.7zM150.7 10.3h1.7v1.8h-1.7zM110.1 11.7h1.7v1.8h-1.7zM110.1 13.2h1.7v1.8h-1.7zM113.0 13.2h1.7v1.8h-1.7zM137.7 13.2h1.7v1.8h-1.7zM144.9 13.2h1.7v1.8h-1.7zM108.7 14.7h1.7v1.8h-1.7zM147.8 14.7h1.7v1.8h-1.7zM165.2 16.1h1.7v1.8h-1.7zM169.6 16.1h1.7v1.8h-1.7zM173.9 17.6h1.7v1.8h-1.7zM179.7 17.6h1.7v1.8h-1.7zM152.2 19.1h1.7v1.8h-1.7zM169.6 19.1h1.7v1.8h-1.7zM143.5 22.0h1.7v1.8h-1.7zM168.1 22.0h1.7v1.8h-1.7zM43.5 25.0h1.7v1.8h-1.7zM163.8 27.9h1.7v1.8h-1.7zM36.2 29.4h1.7v1.8h-1.7zM131.9 29.4h1.7v1.8h-1.7zM168.1 29.4h1.7v1.8h-1.7zM129.0 30.8h1.7v1.8h-1.7zM100.0 35.2h3.2v1.8h-3.2zM104.3 36.7h1.7v1.8h-1.7zM94.2 38.2h1.7v1.8h-1.7zM149.3 38.2h1.7v1.8h-1.7zM53.6 41.1h1.7v1.8h-1.7zM118.8 52.8h1.7v1.8h-1.7zM123.2 52.8h1.7v1.8h-1.7zM120.3 54.3h1.7v1.8h-1.7zM131.9 54.3h1.7v1.8h-1.7zM126.1 55.8h1.7v1.8h-1.7zM182.6 55.8h1.7v1.8h-1.7zM131.9 57.2h1.7v1.8h-1.7zM114.5 60.2h1.7v1.8h-1.7zM169.6 60.2h1.7v1.8h-1.7zM184.1 64.6h1.7v1.8h-1.7zM120.3 66.1h1.7v1.8h-1.7zM188.4 67.5h1.7v1.8h-1.7zM207.3 69.0h1.7v1.8h-1.7z"/>
<path fill="#ed5f3c" d="M175.4 5.9h1.7v1.8h-1.7zM130.4 7.3h1.7v1.8h-1.7zM160.9 7.3h1.7v1.8h-1.7zM163.8 7.3h1.7v1.8h-1.7zM175.4 7.3h1.7v1.8h-1.7zM39.1 8.8h1.7v1.8h-1.7zM192.8 11.7h1.7v1.8h-1.7zM142.0 14.7h1.7v1.8h-1.7zM155.1 16.1h1.7v1.8h-1.7zM152.2 17.6h1.7v1.8h-1.7zM184.1 17.6h1.7v1.8h-1.7zM143.5 19.1h1.7v1.8h-1.7zM178.3 20.5h1.7v1.8h-1.7zM43.5 23.5h1.7v1.8h-1.7zM36.2 25.0h1.7v1.8h-1.7zM142.0 25.0h1.7v1.8h-1.7zM155.1 33.8h1.7v1.8h-1.7zM42.0 35.2h1.7v1.8h-1.7zM98.6 36.7h1.7v1.8h-1.7zM131.9 36.7h1.7v1.8h-1.7zM115.9 39.6h1.7v1.8h-1.7zM78.3 54.3h1.7v1.8h-1.7zM118.8 54.3h1.7v1.8h-1.7zM175.4 58.7h1.7v1.8h-1.7zM113.0 60.2h1.7v1.8h-1.7zM169.6 63.1h1.7v1.8h-1.7zM71.0 64.6h1.7v1.8h-1.7zM173.9 64.6h1.7v1.8h-1.7zM184.1 67.5h1.7v1.8h-1.7zM62.3 69.0h1.7v1.8h-1.7zM62.3 73.4h1.7v1.8h-1.7zM59.4 76.3h1.7v1.8h-1.7z"/>
<path fill="#ea5739" d="M117.4 5.9h1.7v1.8h-1.7zM95.7 7.3h1.7v1.8h-1.7zM169.6 7.3h1.7v1.8h-1.7zM117.4 8.8h1.7v1.8h-1.7zM117.4 10.3h1.7v1.8h-1.7zM27.5 11.7h1.7v1.8h-1.7zM101.5 11.7h1.7v1.8h-1.7zM42.0 14.7h1.7v1.8h-1.7zM110.1 14.7h1.7v1.8h-1.7zM137.7 14.7h1.7v1.8h-1.7zM113.0 16.1h1.7v1.8h-1.7zM169.6 17.6h1.7v1.8h-1.7zM31.9 20.5h1.7v1.8h-1.7zM182.6 20.5h1.7v1.8h-1.7zM155.1 23.5h1.7v1.8h-1.7zM163.8 25.0h1.7v1.8h-1.7zM184.1 26.4h1.7v1.8h-1.7zM162.3 27.9h1.7v1.8h-1.7zM159.4 32.3h1.7v1.8h-1.7zM73.9 49.9h1.7v1.8h-1.7zM58.0 52.8h1.7v1.8h-1.7zM130.4 55.8h1.7v1.8h-1.7zM169.6 58.7h1.7v1.8h-1.7zM113.0 61.6h1.7v1.8h-1.7zM120.3 64.6h1.7v1.8h-1.7zM62.3 79.3h1.7v1.8h-1.7z"/>
<path fill="#e65036" d="M113.0 5.9h1.7v1.8h-1.7zM173.9 5.9h1.7v1.8h-1.7zM113.0 7.3h1.7v1.8h-1.7zM171.0 7.3h1.7v1.8h-1.7zM118.8 8.8h1.7v1.8h-1.7zM27.5 13.2h1.7v1.8h-1.7zM114.5 14.7h1.7v1.8h-1.7zM111.6 16.1h1.7v1.8h-1.7zM139.1 16.1h1.7v1.8h-1.7zM31.9 17.6h1.7v1.8h-1.7zM33.3 22.0h1.7v1.8h-1.7zM78.3 48.4h1.7v1.8h-1.7zM120.3 52.8h1.7v1.8h-1.7zM124.6 57.2h1.7v1.8h-1.7zM75.4 60.2h1.7v1.8h-1.7z"/>
<path fill="#e44c34" d="M62.3 5.9h1.7v1.8h-1.7zM162.3 5.9h1.7v1.8h-1.7zM175.4 10.3h1.7v1.8h-1.7zM31.9 11.7h1.7v1.8h-1.7zM111.6 13.2h1.7v1.8h-1.7zM165.2 14.7h1.7v1.8h-1.7zM137.7 16.1h1.7v1.8h-1.7zM182.6 17.6h1.7v1.8h-1.7zM178.3 19.1h1.7v1.8h-1.7zM142.0 23.5h1.7v1.8h-1.7zM163.8 23.5h1.7v1.8h-1.7zM169.6 25.0h1.7v1.8h-1.7zM163.8 26.4h1.7v1.8h-1.7zM172.5 29.4h1.7v1.8h-1.7zM155.1 32.3h1.7v1.8h-1.7zM81.2 48.4h1.7v1.8h-1.7zM82.6 49.9h1.7v1.8h-1.7zM178.3 54.3h1.7v1.8h-1.7zM124.6 55.8h1.7v1.8h-1.7zM76.8 58.7h1.7v1.8h-1.7z"/>
<path fill="#e14430" d="M115.9 8.8h1.7v1.8h-1.7zM169.6 14.7h1.7v1.8h-1.7zM159.4 16.1h1.7v1.8h-1.7zM139.1 23.5h1.7v1.8h-1.7zM153.6 33.8h1.7v1.8h-1.7zM104.3 41.1h1.7v1.8h-1.7zM123.2 45.5h1.7v1.8h-1.7zM76.8 48.4h1.7v1.8h-1.7zM175.4 60.2h1.7v1.8h-1.7zM73.9 61.6h1.7v1.8h-1.7z"/>
<path fill="#dd3d2d" d="M118.8 4.4h1.7v1.8h-1.7zM114.5 7.3h1.7v1.8h-1.7zM165.2 7.3h1.7v1.8h-1.7zM110.1 8.8h1.7v1.8h-1.7zM134.8 10.3h1.7v1.8h-1.7zM98.6 13.2h1.7v1.8h-1.7zM133.3 13.2h1.7v1.8h-1.7zM165.2 26.4h3.2v1.8h-3.2zM75.4 48.4h1.7v1.8h-1.7zM113.0 63.1h1.7v1.8h-1.7zM63.8 69.0h1.7v1.8h-1.7zM63.8 77.8h1.7v1.8h-1.7z"/>
<path fill="#db382b" d="M160.9 8.8h1.7v1.8h-1.7zM114.5 10.3h1.7v1.8h-1.7zM129.0 10.3h1.7v1.8h-1.7zM144.9 11.7h1.7v1.8h-1.7zM168.1 17.6h1.7v1.8h-1.7zM94.2 39.6h1.7v1.8h-1.7zM121.7 45.5h1.7v1.8h-1.7zM81.2 49.9h1.7v1.8h-1.7zM176.8 54.3h1.7v1.8h-1.7zM114.5 61.6h1.7v1.8h-1.7zM179.7 63.1h1.7v1.8h-1.7z"/>
<path fill="#d83128" d="M115.9 10.3h1.7v1.8h-1.7zM46.4 13.2h1.7v1.8h-1.7zM75.4 47.0h3.2v1.8h-3.2zM75.4 58.7h1.7v1.8h-1.7zM76.8 60.2h1.7v1.8h-1.7z"/>
<path fill="#d22b27" d="M102.9 14.7h1.7v1.8h-1.7zM168.1 16.1h1.7v1.8h-1.7zM172.5 26.4h1.7v1.8h-1.7z"/>
<path fill="#ce2827" d="M34.8 7.3h1.7v1.8h-1.7zM114.5 8.8h1.7v1.8h-1.7zM113.0 10.3h1.7v1.8h-1.7zM72.5 61.6h1.7v1.8h-1.7zM181.2 63.1h1.7v1.8h-1.7z"/>
<path fill="#c82227" d="M40.6 4.4h1.7v1.8h-1.7zM113.0 8.8h1.7v1.8h-1.7zM143.5 25.0h1.7v1.8h-1.7zM115.9 35.2h1.7v1.8h-1.7z"/>
<path fill="#be1827" d="M33.3 13.2h1.7v1.8h-1.7z"/>
<path fill="#b91326" d="M165.2 8.8h1.7v1.8h-1.7zM162.3 23.5h1.7v1.8h-1.7zM44.9 25.0h1.7v1.8h-1.7z"/>
<path fill="#a50026" d="M153.6 32.3h1.7v1.8h-1.7z"/>
</g></g>
<use href="#water" fill="#cccccc"/>
<use href="#land" fill="none" stroke="#000" stroke-width="0.85" stroke-linejoin="round"/>
<use href="#water" fill="none" stroke="#000" stroke-width="0.85" stroke-linejoin="round"/>
<use href="#arctic" fill="none" stroke="#000" stroke-width="0.9" stroke-linejoin="round"/>
</g>
<rect x="0" y="0" width="208.7" height="82.2" fill="none" stroke="#5a5a5a" stroke-width="0.9"/>
</g>
<path d="M277.6 27.2h-2.3M277.6 62.5h-2.3M277.6 97.7h-2.3M277.6 97.7v2.3M329.8 97.7v2.3M382.0 97.7v2.3M434.1 97.7v2.3M486.3 97.7v2.3" stroke="#5a5a5a" stroke-width="0.7"/>
<text x="274.0" y="30.0" font-size="7.6" text-anchor="end" fill="#1a1a1a">60°N</text>
<text x="274.0" y="65.2" font-size="7.6" text-anchor="end" fill="#1a1a1a">0°</text>
<text x="274.0" y="100.5" font-size="7.6" text-anchor="end" fill="#1a1a1a">60°S</text>
<text x="277.6" y="108.8" font-size="7.6" text-anchor="middle" fill="#1a1a1a">180°</text>
<text x="329.8" y="108.8" font-size="7.6" text-anchor="middle" fill="#1a1a1a">90°W</text>
<text x="382.0" y="108.8" font-size="7.6" text-anchor="middle" fill="#1a1a1a">0°W</text>
<text x="434.1" y="108.8" font-size="7.6" text-anchor="middle" fill="#1a1a1a">90°E</text>
<text x="486.3" y="108.8" font-size="7.6" text-anchor="middle" fill="#1a1a1a">180°</text>
<text x="382.0" y="11.7" font-size="9.1" font-weight="bold" text-anchor="middle" fill="#000">(b)</text>
<g transform="translate(152.6,160.0)">
<g clip-path="url(#frame)">
<rect x="0" y="0" width="208.7" height="82.2" fill="#cccccc"/>
<g clip-path="url(#landclip)"><g filter="url(#soft)">
<path fill="#db7d12" d="M31.9 23.5h1.7v1.8h-1.7z"/>
<path fill="#e08214" d="M118.8 63.1h1.7v1.8h-1.7z"/>
<path fill="#e78f27" d="M111.6 58.7h1.7v1.8h-1.7z"/>
<path fill="#ea9530" d="M75.4 47.0h1.7v1.8h-1.7z"/>
<path fill="#f2a446" d="M114.5 63.1h1.7v1.8h-1.7z"/>
<path fill="#f6aa4f" d="M37.7 26.4h1.7v1.8h-1.7z"/>
<path fill="#f9b158" d="M36.2 29.4h1.7v1.8h-1.7zM39.1 29.4h1.7v1.8h-1.7zM123.2 36.7h1.7v1.8h-1.7z"/>
<path fill="#fcb761" d="M33.3 23.5h1.7v1.8h-1.7zM33.3 26.4h1.7v1.8h-1.7zM114.5 39.6h1.7v1.8h-1.7zM111.6 60.2h3.2v1.8h-3.2zM171.0 60.2h1.7v1.8h-1.7zM65.2 67.5h1.7v1.8h-1.7z"/>
<path fill="#fdbd6e" d="M78.3 48.4h1.7v1.8h-1.7zM82.6 48.4h1.7v1.8h-1.7z"/>
<path fill="#fdc278" d="M101.5 27.9h1.7v1.8h-1.7zM130.4 30.8h1.7v1.8h-1.7zM78.3 51.4h1.7v1.8h-1.7zM172.5 60.2h1.7v1.8h-1.7zM121.7 61.6h1.7v1.8h-1.7zM115.9 63.1h1.7v1.8h-1.7z"/>
<path fill="#fdc782" d="M131.9 17.6h1.7v1.8h-1.7zM39.1 32.3h1.7v1.8h-1.7zM79.7 48.4h1.7v1.8h-1.7zM117.4 58.7h1.7v1.8h-1.7zM115.9 60.2h1.7v1.8h-1.7zM115.9 66.1h1.7v1.8h-1.7zM63.8 67.5h1.7v1.8h-1.7zM63.8 69.0h3.2v1.8h-3.2z"/>
<path fill="#fdcc8c" d="M110.1 27.9h1.7v1.8h-1.7zM39.1 30.8h1.7v1.8h-1.7zM75.4 45.5h1.7v1.8h-1.7zM113.0 58.7h1.7v1.8h-1.7zM117.4 63.1h1.7v1.8h-1.7z"/>
<path fill="#fed095" d="M137.7 25.0h1.7v1.8h-1.7zM113.0 27.9h1.7v1.8h-1.7zM149.3 30.8h1.7v1.8h-1.7zM176.8 55.8h1.7v1.8h-1.7zM115.9 58.7h1.7v1.8h-1.7zM171.0 58.7h1.7v1.8h-1.7zM114.5 60.2h1.7v1.8h-1.7zM123.2 61.6h1.7v1.8h-1.7zM118.8 64.6h1.7v1.8h-1.7zM120.3 66.1h1.7v1.8h-1.7zM202.9 70.5h1.7v1.8h-1.7z"/>
<path fill="#fed7a2" d="M95.7 8.8h1.7v1.8h-1.7zM111.6 23.5h1.7v1.8h-1.7zM137.7 23.5h1.7v1.8h-1.7zM140.6 29.4h1.7v1.8h-1.7zM37.7 30.8h1.7v1.8h-1.7zM140.6 30.8h1.7v1.8h-1.7zM82.6 51.4h1.7v1.8h-1.7zM81.2 55.8h1.7v1.8h-1.7zM115.9 57.2h1.7v1.8h-1.7zM120.3 58.7h1.7v1.8h-1.7zM68.1 60.2h1.7v1.8h-1.7zM118.8 60.2h1.7v1.8h-1.7zM113.0 61.6h1.7v1.8h-1.7zM120.3 61.6h1.7v1.8h-1.7zM171.0 61.6h1.7v1.8h-1.7zM117.4 64.6h1.7v1.8h-1.7z"/>
<path fill="#fedbac" d="M65.2 11.7h1.7v1.8h-1.7zM176.8 14.7h1.7v1.8h-1.7zM34.8 17.6h1.7v1.8h-1.7zM130.4 17.6h1.7v1.8h-1.7zM36.2 19.1h1.7v1.8h-1.7zM33.3 20.5h1.7v1.8h-1.7zM39.1 20.5h1.7v1.8h-1.7zM139.1 22.0h1.7v1.8h-1.7zM37.7 27.9h1.7v1.8h-1.7zM42.0 35.2h1.7v1.8h-1.7zM95.7 38.2h1.7v1.8h-1.7zM126.1 42.6h1.7v1.8h-1.7zM81.2 48.4h1.7v1.8h-1.7zM79.7 55.8h1.7v1.8h-1.7zM117.4 60.2h1.7v1.8h-1.7zM111.6 61.6h1.7v1.8h-1.7zM115.9 61.6h1.7v1.8h-1.7zM113.0 63.1h1.7v1.8h-1.7zM123.2 63.1h1.7v1.8h-1.7z"/>
<path fill="#fee0b6" d="M142.0 17.6h1.7v1.8h-1.7zM36.2 22.0h1.7v1.8h-1.7zM42.0 23.5h1.7v1.8h-1.7zM42.0 25.0h1.7v1.8h-1.7zM126.1 27.9h1.7v1.8h-1.7zM140.6 27.9h1.7v1.8h-1.7zM37.7 29.4h1.7v1.8h-1.7zM130.4 33.8h1.7v1.8h-1.7zM123.2 35.2h1.7v1.8h-1.7zM134.8 35.2h1.7v1.8h-1.7zM134.8 36.7h1.7v1.8h-1.7zM120.3 38.2h1.7v1.8h-1.7zM124.6 39.6h1.7v1.8h-1.7zM120.3 41.1h1.7v1.8h-1.7zM63.8 44.0h1.7v1.8h-1.7zM169.6 47.0h1.7v1.8h-1.7zM127.5 48.4h1.7v1.8h-1.7zM79.7 49.9h3.2v1.8h-3.2zM117.4 52.8h1.7v1.8h-1.7zM117.4 61.6h1.7v1.8h-1.7zM169.6 61.6h1.7v1.8h-1.7zM172.5 61.6h1.7v1.8h-1.7zM169.6 63.1h1.7v1.8h-1.7zM172.5 63.1h1.7v1.8h-1.7zM173.9 64.6h3.2v1.8h-3.2zM117.4 66.1h1.7v1.8h-1.7z"/>
<path fill="#fde3be" d="M34.8 22.0h1.7v1.8h-1.7zM136.2 23.5h1.7v1.8h-1.7zM100.0 25.0h1.7v1.8h-1.7zM127.5 25.0h1.7v1.8h-1.7zM42.0 26.4h1.7v1.8h-1.7zM111.6 27.9h1.7v1.8h-1.7zM114.5 27.9h1.7v1.8h-1.7zM117.4 27.9h1.7v1.8h-1.7zM117.4 29.4h1.7v1.8h-1.7zM126.1 29.4h1.7v1.8h-1.7zM147.8 29.4h1.7v1.8h-1.7zM131.9 32.3h1.7v1.8h-1.7zM137.7 35.2h1.7v1.8h-1.7zM97.1 36.7h1.7v1.8h-1.7zM102.9 36.7h1.7v1.8h-1.7zM118.8 36.7h1.7v1.8h-1.7zM126.1 38.2h1.7v1.8h-1.7zM113.0 39.6h1.7v1.8h-1.7zM127.5 41.1h1.7v1.8h-1.7zM98.6 44.0h1.7v1.8h-1.7zM56.5 48.4h1.7v1.8h-1.7zM78.3 49.9h1.7v1.8h-1.7zM81.2 51.4h1.7v1.8h-1.7zM78.3 54.3h1.7v1.8h-1.7zM115.9 54.3h1.7v1.8h-1.7zM187.0 54.3h1.7v1.8h-1.7zM118.8 58.7h1.7v1.8h-1.7zM172.5 58.7h1.7v1.8h-1.7zM169.6 60.2h1.7v1.8h-1.7zM188.4 60.2h1.7v1.8h-1.7zM120.3 63.1h1.7v1.8h-1.7zM169.6 64.6h1.7v1.8h-1.7zM176.8 64.6h1.7v1.8h-1.7zM66.7 66.1h1.7v1.8h-1.7zM173.9 66.1h1.7v1.8h-1.7z"/>
<path fill="#fce5c5" d="M50.7 10.3h1.7v1.8h-1.7zM34.8 19.1h1.7v1.8h-1.7zM37.7 20.5h1.7v1.8h-1.7zM55.1 20.5h1.7v1.8h-1.7zM143.5 20.5h1.7v1.8h-1.7zM39.1 22.0h1.7v1.8h-1.7zM40.6 23.5h1.7v1.8h-1.7zM49.3 23.5h1.7v1.8h-1.7zM136.2 25.0h1.7v1.8h-1.7zM43.5 27.9h1.7v1.8h-1.7zM97.1 35.2h1.7v1.8h-1.7zM101.5 35.2h1.7v1.8h-1.7zM120.3 35.2h1.7v1.8h-1.7zM113.0 36.7h1.7v1.8h-1.7zM108.7 39.6h1.7v1.8h-1.7zM68.1 41.1h1.7v1.8h-1.7zM120.3 42.6h1.7v1.8h-1.7zM124.6 44.0h1.7v1.8h-1.7zM82.6 52.8h1.7v1.8h-1.7zM117.4 54.3h1.7v1.8h-1.7zM78.3 57.2h1.7v1.8h-1.7zM121.7 57.2h1.7v1.8h-1.7zM114.5 58.7h1.7v1.8h-1.7zM73.9 64.6h1.7v1.8h-1.7zM171.0 64.6h1.7v1.8h-1.7zM114.5 66.1h1.7v1.8h-1.7z"/>
<path fill="#fbe9cf" d="M94.2 8.8h1.7v1.8h-1.7zM31.9 19.1h1.7v1.8h-1.7zM118.8 19.1h1.7v1.8h-1.7zM130.4 20.5h1.7v1.8h-1.7zM37.7 22.0h1.7v1.8h-1.7zM53.6 22.0h1.7v1.8h-1.7zM146.4 22.0h1.7v1.8h-1.7zM34.8 23.5h1.7v1.8h-1.7zM127.5 23.5h1.7v1.8h-1.7zM34.8 25.0h1.7v1.8h-1.7zM43.5 25.0h1.7v1.8h-1.7zM36.2 26.4h1.7v1.8h-1.7zM39.1 26.4h1.7v1.8h-1.7zM130.4 26.4h1.7v1.8h-1.7zM140.6 26.4h1.7v1.8h-1.7zM44.9 27.9h1.7v1.8h-1.7zM43.5 29.4h1.7v1.8h-1.7zM131.9 29.4h1.7v1.8h-1.7zM43.5 30.8h1.7v1.8h-1.7zM131.9 30.8h1.7v1.8h-1.7zM44.9 35.2h1.7v1.8h-1.7zM94.2 35.2h1.7v1.8h-1.7zM121.7 36.7h1.7v1.8h-1.7zM126.1 36.7h1.7v1.8h-1.7zM108.7 38.2h1.7v1.8h-1.7zM130.4 39.6h1.7v1.8h-1.7zM118.8 41.1h1.7v1.8h-1.7zM126.1 41.1h1.7v1.8h-1.7zM118.8 42.6h1.7v1.8h-1.7zM127.5 42.6h1.7v1.8h-1.7zM124.6 45.5h3.2v1.8h-3.2zM79.7 51.4h1.7v1.8h-1.7zM62.3 52.8h1.7v1.8h-1.7zM115.9 52.8h1.7v1.8h-1.7zM185.5 52.8h3.2v1.8h-3.2zM185.5 54.3h1.7v1.8h-1.7zM78.3 55.8h1.7v1.8h-1.7zM127.5 55.8h1.7v1.8h-1.7zM79.7 57.2h1.7v1.8h-1.7zM124.6 58.7h1.7v1.8h-1.7zM182.6 58.7h1.7v1.8h-1.7zM189.9 63.1h1.7v1.8h-1.7zM113.0 64.6h1.7v1.8h-1.7zM120.3 64.6h1.7v1.8h-1.7zM172.5 64.6h1.7v1.8h-1.7z"/>
<path fill="#faecd7" d="M95.7 7.3h1.7v1.8h-1.7zM31.9 17.6h3.2v1.8h-3.2zM120.3 17.6h1.7v1.8h-1.7zM130.4 19.1h1.7v1.8h-1.7zM31.9 20.5h1.7v1.8h-1.7zM131.9 22.0h1.7v1.8h-1.7zM169.6 22.0h1.7v1.8h-1.7zM59.4 23.5h1.7v1.8h-1.7zM143.5 23.5h3.2v1.8h-3.2zM37.7 25.0h1.7v1.8h-1.7zM40.6 25.0h1.7v1.8h-1.7zM98.6 25.0h1.7v1.8h-1.7zM49.3 26.4h1.7v1.8h-1.7zM111.6 26.4h1.7v1.8h-1.7zM143.5 26.4h1.7v1.8h-1.7zM139.1 27.9h1.7v1.8h-1.7zM136.2 35.2h1.7v1.8h-1.7zM149.3 35.2h1.7v1.8h-1.7zM107.2 36.7h1.7v1.8h-1.7zM101.5 38.2h1.7v1.8h-1.7zM110.1 38.2h1.7v1.8h-1.7zM114.5 38.2h1.7v1.8h-1.7zM63.8 39.6h1.7v1.8h-1.7zM107.2 39.6h1.7v1.8h-1.7zM126.1 39.6h1.7v1.8h-1.7zM102.9 41.1h3.2v1.8h-3.2zM60.9 42.6h1.7v1.8h-1.7zM105.8 42.6h1.7v1.8h-1.7zM65.2 44.0h1.7v1.8h-1.7zM76.8 47.0h1.7v1.8h-1.7zM120.3 49.9h1.7v1.8h-1.7zM120.3 55.8h1.7v1.8h-1.7zM123.2 58.7h1.7v1.8h-1.7zM178.3 58.7h1.7v1.8h-1.7zM189.9 58.7h1.7v1.8h-1.7zM63.8 60.2h1.7v1.8h-1.7zM120.3 60.2h1.7v1.8h-1.7zM63.8 63.1h1.7v1.8h-1.7zM173.9 63.1h1.7v1.8h-1.7zM114.5 64.6h1.7v1.8h-1.7zM171.0 66.1h1.7v1.8h-1.7zM184.1 67.5h1.7v1.8h-1.7zM66.7 69.0h3.2v1.8h-3.2z"/>
<path fill="#faeedf" d="M68.1 14.7h1.7v1.8h-1.7zM63.8 17.6h1.7v1.8h-1.7zM129.0 17.6h1.7v1.8h-1.7zM46.4 19.1h1.7v1.8h-1.7zM121.7 19.1h1.7v1.8h-1.7zM146.4 19.1h1.7v1.8h-1.7zM49.3 20.5h1.7v1.8h-1.7zM130.4 22.0h1.7v1.8h-1.7zM142.0 22.0h1.7v1.8h-1.7zM36.2 23.5h1.7v1.8h-1.7zM98.6 23.5h3.2v1.8h-3.2zM142.0 23.5h1.7v1.8h-1.7zM110.1 25.0h1.7v1.8h-1.7zM184.1 25.0h1.7v1.8h-1.7zM43.5 26.4h3.2v1.8h-3.2zM39.1 27.9h1.7v1.8h-1.7zM50.7 27.9h1.7v1.8h-1.7zM102.9 27.9h1.7v1.8h-1.7zM142.0 27.9h1.7v1.8h-1.7zM130.4 29.4h1.7v1.8h-1.7zM40.6 30.8h1.7v1.8h-1.7zM168.1 32.3h1.7v1.8h-1.7zM95.7 35.2h1.7v1.8h-1.7zM102.9 35.2h1.7v1.8h-1.7zM121.7 35.2h1.7v1.8h-1.7zM44.9 36.7h3.2v1.8h-3.2zM95.7 36.7h1.7v1.8h-1.7zM110.1 36.7h1.7v1.8h-1.7zM100.0 38.2h1.7v1.8h-1.7zM117.4 38.2h1.7v1.8h-1.7zM130.4 38.2h1.7v1.8h-1.7zM100.0 39.6h3.2v1.8h-3.2zM111.6 39.6h1.7v1.8h-1.7zM124.6 41.1h1.7v1.8h-1.7zM115.9 51.4h1.7v1.8h-1.7zM62.3 54.3h1.7v1.8h-1.7zM133.3 55.8h1.7v1.8h-1.7zM81.2 57.2h1.7v1.8h-1.7zM68.1 58.7h1.7v1.8h-1.7zM129.0 58.7h1.7v1.8h-1.7zM169.6 58.7h1.7v1.8h-1.7zM123.2 60.2h1.7v1.8h-1.7zM182.6 60.2h1.7v1.8h-1.7zM63.8 61.6h1.7v1.8h-1.7zM173.9 61.6h3.2v1.8h-3.2zM69.6 64.6h1.7v1.8h-1.7zM121.7 64.6h1.7v1.8h-1.7zM72.5 66.1h1.7v1.8h-1.7zM175.4 66.1h1.7v1.8h-1.7zM189.9 70.5h1.7v1.8h-1.7zM204.4 70.5h1.7v1.8h-1.7z"/>
<path fill="#f9f1e6" d="M21.7 8.8h1.7v1.8h-1.7zM142.0 11.7h1.7v1.8h-1.7zM120.3 13.2h1.7v1.8h-1.7zM47.8 17.6h1.7v1.8h-1.7zM159.4 17.6h1.7v1.8h-1.7zM102.9 19.1h1.7v1.8h-1.7zM120.3 19.1h1.7v1.8h-1.7zM43.5 20.5h1.7v1.8h-1.7zM46.4 20.5h1.7v1.8h-1.7zM124.6 20.5h1.7v1.8h-1.7zM168.1 20.5h1.7v1.8h-1.7zM31.9 22.0h1.7v1.8h-1.7zM44.9 22.0h1.7v1.8h-1.7zM143.5 22.0h1.7v1.8h-1.7zM39.1 23.5h1.7v1.8h-1.7zM44.9 23.5h1.7v1.8h-1.7zM50.7 23.5h1.7v1.8h-1.7zM36.2 25.0h1.7v1.8h-1.7zM39.1 25.0h1.7v1.8h-1.7zM129.0 25.0h1.7v1.8h-1.7zM142.0 25.0h1.7v1.8h-1.7zM102.9 26.4h1.7v1.8h-1.7zM143.5 27.9h1.7v1.8h-1.7zM102.9 29.4h1.7v1.8h-1.7zM134.8 29.4h1.7v1.8h-1.7zM139.1 29.4h1.7v1.8h-1.7zM43.5 35.2h1.7v1.8h-1.7zM105.8 35.2h1.7v1.8h-1.7zM108.7 35.2h1.7v1.8h-1.7zM101.5 36.7h1.7v1.8h-1.7zM105.8 36.7h1.7v1.8h-1.7zM108.7 36.7h1.7v1.8h-1.7zM111.6 36.7h1.7v1.8h-1.7zM98.6 38.2h1.7v1.8h-1.7zM113.0 38.2h1.7v1.8h-1.7zM121.7 38.2h1.7v1.8h-1.7zM98.6 39.6h1.7v1.8h-1.7zM120.3 39.6h1.7v1.8h-1.7zM129.0 39.6h1.7v1.8h-1.7zM73.9 42.6h1.7v1.8h-1.7zM76.8 48.4h1.7v1.8h-1.7zM126.1 51.4h1.7v1.8h-1.7zM182.6 52.8h1.7v1.8h-1.7zM76.8 54.3h1.7v1.8h-1.7zM120.3 54.3h1.7v1.8h-1.7zM130.4 55.8h1.7v1.8h-1.7zM114.5 57.2h1.7v1.8h-1.7zM66.7 58.7h1.7v1.8h-1.7zM131.9 58.7h1.7v1.8h-1.7zM66.7 60.2h1.7v1.8h-1.7zM124.6 60.2h1.7v1.8h-1.7zM65.2 61.6h3.2v1.8h-3.2zM182.6 63.1h1.7v1.8h-1.7zM66.7 64.6h1.7v1.8h-1.7zM189.9 64.6h1.7v1.8h-1.7zM73.9 66.1h1.7v1.8h-1.7zM62.3 67.5h1.7v1.8h-1.7zM187.0 69.0h1.7v1.8h-1.7z"/>
<path fill="#f8f4ee" d="M13.0 8.8h1.7v1.8h-1.7zM68.1 11.7h1.7v1.8h-1.7zM34.8 16.1h1.7v1.8h-1.7zM66.7 16.1h1.7v1.8h-1.7zM36.2 17.6h1.7v1.8h-1.7zM40.6 17.6h1.7v1.8h-1.7zM46.4 17.6h1.7v1.8h-1.7zM143.5 17.6h1.7v1.8h-1.7zM165.2 17.6h1.7v1.8h-1.7zM47.8 19.1h1.7v1.8h-1.7zM123.2 19.1h1.7v1.8h-1.7zM143.5 19.1h1.7v1.8h-1.7zM36.2 20.5h1.7v1.8h-1.7zM44.9 20.5h1.7v1.8h-1.7zM144.9 22.0h1.7v1.8h-1.7zM168.1 22.0h1.7v1.8h-1.7zM37.7 23.5h1.7v1.8h-1.7zM114.5 23.5h1.7v1.8h-1.7zM146.4 23.5h1.7v1.8h-1.7zM50.7 25.0h1.7v1.8h-1.7zM55.1 25.0h1.7v1.8h-1.7zM101.5 25.0h1.7v1.8h-1.7zM131.9 25.0h1.7v1.8h-1.7zM182.6 25.0h1.7v1.8h-1.7zM133.3 26.4h1.7v1.8h-1.7zM181.2 26.4h1.7v1.8h-1.7zM40.6 27.9h3.2v1.8h-3.2zM118.8 27.9h1.7v1.8h-1.7zM160.9 27.9h1.7v1.8h-1.7zM40.6 29.4h1.7v1.8h-1.7zM115.9 29.4h1.7v1.8h-1.7zM47.8 30.8h1.7v1.8h-1.7zM134.8 30.8h1.7v1.8h-1.7zM139.1 30.8h1.7v1.8h-1.7zM173.9 30.8h1.7v1.8h-1.7zM44.9 33.8h1.7v1.8h-1.7zM111.6 35.2h1.7v1.8h-1.7zM117.4 35.2h1.7v1.8h-1.7zM153.6 35.2h1.7v1.8h-1.7zM104.3 36.7h1.7v1.8h-1.7zM114.5 36.7h1.7v1.8h-1.7zM149.3 36.7h1.7v1.8h-1.7zM111.6 38.2h1.7v1.8h-1.7zM118.8 38.2h1.7v1.8h-1.7zM117.4 39.6h1.7v1.8h-1.7zM131.9 39.6h1.7v1.8h-1.7zM95.7 41.1h1.7v1.8h-1.7zM100.0 41.1h1.7v1.8h-1.7zM129.0 41.1h1.7v1.8h-1.7zM100.0 44.0h1.7v1.8h-1.7zM78.3 47.0h1.7v1.8h-1.7zM124.6 47.0h1.7v1.8h-1.7zM76.8 52.8h1.7v1.8h-1.7zM182.6 54.3h1.7v1.8h-1.7zM72.5 55.8h1.7v1.8h-1.7zM117.4 55.8h1.7v1.8h-1.7zM121.7 55.8h1.7v1.8h-1.7zM118.8 57.2h1.7v1.8h-1.7zM63.8 58.7h1.7v1.8h-1.7zM121.7 58.7h1.7v1.8h-1.7zM130.4 58.7h1.7v1.8h-1.7zM121.7 60.2h1.7v1.8h-1.7zM189.9 61.6h1.7v1.8h-1.7zM184.1 63.1h1.7v1.8h-1.7zM192.8 63.1h1.7v1.8h-1.7zM71.0 64.6h1.7v1.8h-1.7zM188.4 64.6h1.7v1.8h-1.7zM185.5 66.1h1.7v1.8h-1.7zM66.7 67.5h1.7v1.8h-1.7zM189.9 67.5h1.7v1.8h-1.7zM60.9 69.0h3.2v1.8h-3.2zM68.1 70.5h1.7v1.8h-1.7zM204.4 71.9h1.7v1.8h-1.7zM59.4 76.3h1.7v1.8h-1.7z"/>
<path fill="#f6f6f7" d="M52.2 8.8h1.7v1.8h-1.7zM182.6 8.8h1.7v1.8h-1.7zM176.8 16.1h1.7v1.8h-1.7zM108.7 19.1h1.7v1.8h-1.7zM114.5 20.5h1.7v1.8h-1.7zM181.2 20.5h1.7v1.8h-1.7zM46.4 22.0h1.7v1.8h-1.7zM43.5 23.5h1.7v1.8h-1.7zM60.9 23.5h1.7v1.8h-1.7zM131.9 23.5h1.7v1.8h-1.7zM44.9 25.0h1.7v1.8h-1.7zM133.3 25.0h1.7v1.8h-1.7zM144.9 25.0h1.7v1.8h-1.7zM40.6 26.4h1.7v1.8h-1.7zM47.8 26.4h1.7v1.8h-1.7zM50.7 26.4h1.7v1.8h-1.7zM144.9 26.4h1.7v1.8h-1.7zM149.3 26.4h1.7v1.8h-1.7zM53.6 27.9h1.7v1.8h-1.7zM104.3 27.9h1.7v1.8h-1.7zM42.0 29.4h1.7v1.8h-1.7zM46.4 29.4h1.7v1.8h-1.7zM104.3 29.4h1.7v1.8h-1.7zM133.3 29.4h1.7v1.8h-1.7zM56.5 32.3h1.7v1.8h-1.7zM42.0 33.8h1.7v1.8h-1.7zM126.1 33.8h1.7v1.8h-1.7zM46.4 35.2h1.7v1.8h-1.7zM129.0 36.7h1.7v1.8h-1.7zM50.7 38.2h1.7v1.8h-1.7zM95.7 39.6h1.7v1.8h-1.7zM63.8 41.1h1.7v1.8h-1.7zM123.2 41.1h1.7v1.8h-1.7zM160.9 41.1h1.7v1.8h-1.7zM104.3 42.6h1.7v1.8h-1.7zM111.6 42.6h1.7v1.8h-1.7zM129.0 42.6h1.7v1.8h-1.7zM66.7 45.5h1.7v1.8h-1.7zM123.2 45.5h1.7v1.8h-1.7zM82.6 49.9h1.7v1.8h-1.7zM117.4 51.4h1.7v1.8h-1.7zM75.4 52.8h1.7v1.8h-1.7zM81.2 52.8h1.7v1.8h-1.7zM120.3 52.8h1.7v1.8h-1.7zM179.7 52.8h1.7v1.8h-1.7zM59.4 54.3h1.7v1.8h-1.7zM130.4 54.3h3.2v1.8h-3.2zM115.9 55.8h1.7v1.8h-1.7zM75.4 57.2h1.7v1.8h-1.7zM111.6 57.2h1.7v1.8h-1.7zM129.0 60.2h1.7v1.8h-1.7zM131.9 60.2h1.7v1.8h-1.7zM189.9 60.2h1.7v1.8h-1.7zM68.1 61.6h1.7v1.8h-1.7zM192.8 61.6h1.7v1.8h-1.7zM68.1 63.1h1.7v1.8h-1.7zM176.8 63.1h1.7v1.8h-1.7zM68.1 64.6h1.7v1.8h-1.7zM71.0 66.1h1.7v1.8h-1.7zM189.9 66.1h1.7v1.8h-1.7zM62.3 73.4h1.7v1.8h-1.7zM59.4 74.9h1.7v1.8h-1.7zM62.3 74.9h1.7v1.8h-1.7z"/>
<path fill="#f3f3f5" d="M115.9 4.4h1.7v1.8h-1.7zM27.5 11.7h1.7v1.8h-1.7zM153.6 13.2h1.7v1.8h-1.7zM71.0 16.1h1.7v1.8h-1.7zM184.1 16.1h1.7v1.8h-1.7zM107.2 17.6h1.7v1.8h-1.7zM121.7 17.6h3.2v1.8h-3.2zM139.1 17.6h1.7v1.8h-1.7zM169.6 17.6h1.7v1.8h-1.7zM37.7 19.1h1.7v1.8h-1.7zM40.6 19.1h1.7v1.8h-1.7zM133.3 19.1h1.7v1.8h-1.7zM42.0 20.5h1.7v1.8h-1.7zM56.5 20.5h1.7v1.8h-1.7zM146.4 20.5h1.7v1.8h-1.7zM169.6 20.5h1.7v1.8h-1.7zM33.3 22.0h1.7v1.8h-1.7zM55.1 22.0h1.7v1.8h-1.7zM104.3 22.0h1.7v1.8h-1.7zM124.6 22.0h1.7v1.8h-1.7zM58.0 23.5h1.7v1.8h-1.7zM113.0 23.5h1.7v1.8h-1.7zM118.8 23.5h3.2v1.8h-3.2zM130.4 23.5h1.7v1.8h-1.7zM184.1 23.5h1.7v1.8h-1.7zM105.8 25.0h1.7v1.8h-1.7zM140.6 25.0h1.7v1.8h-1.7zM169.6 25.0h1.7v1.8h-1.7zM98.6 26.4h1.7v1.8h-1.7zM105.8 26.4h1.7v1.8h-1.7zM110.1 26.4h1.7v1.8h-1.7zM124.6 26.4h1.7v1.8h-1.7zM178.3 26.4h1.7v1.8h-1.7zM36.2 27.9h1.7v1.8h-1.7zM131.9 27.9h1.7v1.8h-1.7zM146.4 27.9h3.2v1.8h-3.2zM108.7 29.4h1.7v1.8h-1.7zM118.8 29.4h1.7v1.8h-1.7zM143.5 29.4h1.7v1.8h-1.7zM133.3 30.8h1.7v1.8h-1.7zM143.5 30.8h1.7v1.8h-1.7zM147.8 30.8h1.7v1.8h-1.7zM40.6 32.3h1.7v1.8h-1.7zM142.0 32.3h1.7v1.8h-1.7zM124.6 33.8h1.7v1.8h-1.7zM134.8 33.8h1.7v1.8h-1.7zM146.4 33.8h1.7v1.8h-1.7zM104.3 35.2h1.7v1.8h-1.7zM113.0 35.2h1.7v1.8h-1.7zM127.5 35.2h1.7v1.8h-1.7zM94.2 36.7h1.7v1.8h-1.7zM102.9 38.2h1.7v1.8h-1.7zM124.6 38.2h1.7v1.8h-1.7zM150.7 38.2h1.7v1.8h-1.7zM102.9 39.6h1.7v1.8h-1.7zM110.1 39.6h1.7v1.8h-1.7zM115.9 39.6h1.7v1.8h-1.7zM105.8 41.1h1.7v1.8h-1.7zM110.1 42.6h1.7v1.8h-1.7zM124.6 42.6h1.7v1.8h-1.7zM123.2 44.0h1.7v1.8h-1.7zM127.5 44.0h1.7v1.8h-1.7zM127.5 45.5h1.7v1.8h-1.7zM120.3 47.0h1.7v1.8h-1.7zM123.2 48.4h1.7v1.8h-1.7zM126.1 48.4h1.7v1.8h-1.7zM124.6 49.9h3.2v1.8h-3.2zM127.5 52.8h1.7v1.8h-1.7zM60.9 54.3h1.7v1.8h-1.7zM76.8 55.8h1.7v1.8h-1.7zM114.5 55.8h1.7v1.8h-1.7zM175.4 55.8h1.7v1.8h-1.7zM63.8 57.2h1.7v1.8h-1.7zM114.5 61.6h1.7v1.8h-1.7zM188.4 61.6h1.7v1.8h-1.7zM66.7 63.1h1.7v1.8h-1.7zM172.5 66.1h1.7v1.8h-1.7zM176.8 66.1h1.7v1.8h-1.7zM60.9 67.5h1.7v1.8h-1.7zM187.0 67.5h1.7v1.8h-1.7zM63.8 70.5h1.7v1.8h-1.7zM66.7 71.9h1.7v1.8h-1.7z"/>
<path fill="#eff0f4" d="M50.7 7.3h1.7v1.8h-1.7zM47.8 8.8h1.7v1.8h-1.7zM175.4 8.8h1.7v1.8h-1.7zM133.3 10.3h1.7v1.8h-1.7zM21.7 11.7h1.7v1.8h-1.7zM49.3 13.2h1.7v1.8h-1.7zM143.5 13.2h1.7v1.8h-1.7zM140.6 14.7h1.7v1.8h-1.7zM181.2 14.7h1.7v1.8h-1.7zM56.5 16.1h1.7v1.8h-1.7zM111.6 16.1h1.7v1.8h-1.7zM185.5 16.1h1.7v1.8h-1.7zM66.7 17.6h1.7v1.8h-1.7zM146.4 17.6h1.7v1.8h-1.7zM33.3 19.1h1.7v1.8h-1.7zM39.1 19.1h1.7v1.8h-1.7zM58.0 19.1h1.7v1.8h-1.7zM113.0 19.1h1.7v1.8h-1.7zM134.8 19.1h1.7v1.8h-1.7zM166.7 19.1h1.7v1.8h-1.7zM53.6 20.5h1.7v1.8h-1.7zM131.9 20.5h3.2v1.8h-3.2zM126.1 22.0h1.7v1.8h-1.7zM52.2 23.5h1.7v1.8h-1.7zM101.5 23.5h1.7v1.8h-1.7zM134.8 23.5h1.7v1.8h-1.7zM139.1 23.5h1.7v1.8h-1.7zM59.4 25.0h1.7v1.8h-1.7zM113.0 25.0h1.7v1.8h-1.7zM143.5 25.0h1.7v1.8h-1.7zM108.7 26.4h1.7v1.8h-1.7zM160.9 26.4h1.7v1.8h-1.7zM49.3 27.9h1.7v1.8h-1.7zM108.7 27.9h1.7v1.8h-1.7zM144.9 27.9h1.7v1.8h-1.7zM178.3 27.9h1.7v1.8h-1.7zM44.9 29.4h1.7v1.8h-1.7zM100.0 29.4h1.7v1.8h-1.7zM107.2 29.4h1.7v1.8h-1.7zM42.0 30.8h1.7v1.8h-1.7zM46.4 30.8h1.7v1.8h-1.7zM59.4 30.8h1.7v1.8h-1.7zM160.9 32.3h1.7v1.8h-1.7zM50.7 33.8h1.7v1.8h-1.7zM127.5 33.8h1.7v1.8h-1.7zM47.8 35.2h1.7v1.8h-1.7zM126.1 35.2h1.7v1.8h-1.7zM47.8 36.7h1.7v1.8h-1.7zM115.9 36.7h1.7v1.8h-1.7zM120.3 36.7h1.7v1.8h-1.7zM165.2 36.7h1.7v1.8h-1.7zM123.2 38.2h1.7v1.8h-1.7zM127.5 38.2h3.2v1.8h-3.2zM60.9 39.6h1.7v1.8h-1.7zM66.7 39.6h1.7v1.8h-1.7zM118.8 39.6h1.7v1.8h-1.7zM127.5 39.6h1.7v1.8h-1.7zM53.6 41.1h1.7v1.8h-1.7zM62.3 41.1h1.7v1.8h-1.7zM97.1 41.1h1.7v1.8h-1.7zM121.7 41.1h1.7v1.8h-1.7zM131.9 41.1h3.2v1.8h-3.2zM59.4 42.6h1.7v1.8h-1.7zM114.5 42.6h1.7v1.8h-1.7zM121.7 42.6h3.2v1.8h-3.2zM110.1 44.0h1.7v1.8h-1.7zM126.1 44.0h1.7v1.8h-1.7zM129.0 45.5h3.2v1.8h-3.2zM123.2 47.0h1.7v1.8h-1.7zM126.1 47.0h1.7v1.8h-1.7zM162.3 47.0h1.7v1.8h-1.7zM169.6 48.4h1.7v1.8h-1.7zM76.8 49.9h1.7v1.8h-1.7zM110.1 49.9h1.7v1.8h-1.7zM115.9 49.9h1.7v1.8h-1.7zM76.8 51.4h1.7v1.8h-1.7zM121.7 51.4h1.7v1.8h-1.7zM124.6 51.4h1.7v1.8h-1.7zM81.2 54.3h1.7v1.8h-1.7zM110.1 57.2h1.7v1.8h-1.7zM131.9 57.2h1.7v1.8h-1.7zM172.5 57.2h1.7v1.8h-1.7zM173.9 58.7h1.7v1.8h-1.7zM130.4 60.2h1.7v1.8h-1.7zM187.0 60.2h1.7v1.8h-1.7zM65.2 63.1h1.7v1.8h-1.7zM62.3 64.6h1.7v1.8h-1.7zM179.7 64.6h3.2v1.8h-3.2zM68.1 66.1h1.7v1.8h-1.7zM181.2 66.1h1.7v1.8h-1.7zM65.2 70.5h1.7v1.8h-1.7zM65.2 71.9h1.7v1.8h-1.7zM188.4 71.9h1.7v1.8h-1.7zM202.9 71.9h1.7v1.8h-1.7zM60.9 73.4h1.7v1.8h-1.7z"/>
<path fill="#ebecf3" d="M130.4 5.9h1.7v1.8h-1.7zM173.9 5.9h1.7v1.8h-1.7zM166.7 8.8h1.7v1.8h-1.7zM120.3 10.3h1.7v1.8h-1.7zM182.6 10.3h1.7v1.8h-1.7zM15.9 11.7h1.7v1.8h-1.7zM23.2 11.7h1.7v1.8h-1.7zM168.1 13.2h1.7v1.8h-1.7zM56.5 14.7h1.7v1.8h-1.7zM182.6 14.7h3.2v1.8h-3.2zM53.6 16.1h1.7v1.8h-1.7zM37.7 17.6h1.7v1.8h-1.7zM113.0 17.6h1.7v1.8h-1.7zM124.6 17.6h1.7v1.8h-1.7zM144.9 17.6h1.7v1.8h-1.7zM166.7 17.6h1.7v1.8h-1.7zM72.5 19.1h1.7v1.8h-1.7zM114.5 19.1h1.7v1.8h-1.7zM129.0 19.1h1.7v1.8h-1.7zM144.9 19.1h1.7v1.8h-1.7zM149.3 19.1h1.7v1.8h-1.7zM168.1 19.1h1.7v1.8h-1.7zM58.0 20.5h3.2v1.8h-3.2zM126.1 20.5h1.7v1.8h-1.7zM150.7 20.5h1.7v1.8h-1.7zM175.4 20.5h1.7v1.8h-1.7zM179.7 20.5h1.7v1.8h-1.7zM47.8 22.0h1.7v1.8h-1.7zM59.4 22.0h1.7v1.8h-1.7zM129.0 22.0h1.7v1.8h-1.7zM165.2 22.0h3.2v1.8h-3.2zM117.4 23.5h1.7v1.8h-1.7zM52.2 25.0h1.7v1.8h-1.7zM102.9 25.0h1.7v1.8h-1.7zM34.8 26.4h1.7v1.8h-1.7zM134.8 26.4h1.7v1.8h-1.7zM52.2 27.9h1.7v1.8h-1.7zM98.6 27.9h1.7v1.8h-1.7zM179.7 27.9h1.7v1.8h-1.7zM95.7 29.4h3.2v1.8h-3.2zM124.6 29.4h1.7v1.8h-1.7zM149.3 29.4h1.7v1.8h-1.7zM126.1 30.8h1.7v1.8h-1.7zM130.4 32.3h1.7v1.8h-1.7zM169.6 32.3h1.7v1.8h-1.7zM46.4 33.8h3.2v1.8h-3.2zM147.8 33.8h1.7v1.8h-1.7zM49.3 35.2h1.7v1.8h-1.7zM110.1 35.2h1.7v1.8h-1.7zM133.3 35.2h1.7v1.8h-1.7zM146.4 35.2h1.7v1.8h-1.7zM150.7 35.2h1.7v1.8h-1.7zM55.1 38.2h1.7v1.8h-1.7zM94.2 38.2h1.7v1.8h-1.7zM97.1 38.2h1.7v1.8h-1.7zM115.9 38.2h1.7v1.8h-1.7zM68.1 39.6h1.7v1.8h-1.7zM94.2 39.6h1.7v1.8h-1.7zM97.1 39.6h1.7v1.8h-1.7zM104.3 39.6h1.7v1.8h-1.7zM121.7 39.6h3.2v1.8h-3.2zM59.4 41.1h1.7v1.8h-1.7zM58.0 42.6h1.7v1.8h-1.7zM62.3 42.6h1.7v1.8h-1.7zM98.6 42.6h1.7v1.8h-1.7zM102.9 42.6h1.7v1.8h-1.7zM113.0 42.6h1.7v1.8h-1.7zM108.7 44.0h1.7v1.8h-1.7zM121.7 44.0h1.7v1.8h-1.7zM131.9 44.0h1.7v1.8h-1.7zM108.7 45.5h1.7v1.8h-1.7zM168.1 47.0h1.7v1.8h-1.7zM118.8 48.4h1.7v1.8h-1.7zM121.7 48.4h1.7v1.8h-1.7zM75.4 49.9h1.7v1.8h-1.7zM114.5 49.9h1.7v1.8h-1.7zM163.8 49.9h1.7v1.8h-1.7zM78.3 52.8h3.2v1.8h-3.2zM118.8 52.8h1.7v1.8h-1.7zM75.4 54.3h1.7v1.8h-1.7zM126.1 54.3h1.7v1.8h-1.7zM181.2 54.3h1.7v1.8h-1.7zM131.9 55.8h1.7v1.8h-1.7zM62.3 57.2h1.7v1.8h-1.7zM129.0 57.2h1.7v1.8h-1.7zM188.4 57.2h1.7v1.8h-1.7zM72.5 58.7h1.7v1.8h-1.7zM179.7 58.7h1.7v1.8h-1.7zM184.1 58.7h1.7v1.8h-1.7zM173.9 60.2h1.7v1.8h-1.7zM72.5 61.6h1.7v1.8h-1.7zM188.4 63.1h1.7v1.8h-1.7zM191.3 63.1h1.7v1.8h-1.7zM191.3 64.6h1.7v1.8h-1.7zM62.3 66.1h1.7v1.8h-1.7zM188.4 70.5h1.7v1.8h-1.7zM189.9 71.9h1.7v1.8h-1.7zM63.8 73.4h3.2v1.8h-3.2zM62.3 76.3h1.7v1.8h-1.7z"/>
<path fill="#e8e9f1" d="M117.4 4.4h1.7v1.8h-1.7zM162.3 5.9h3.2v1.8h-3.2zM49.3 7.3h1.7v1.8h-1.7zM153.6 7.3h1.7v1.8h-1.7zM162.3 7.3h1.7v1.8h-1.7zM204.4 8.8h1.7v1.8h-1.7zM21.7 10.3h1.7v1.8h-1.7zM24.6 11.7h1.7v1.8h-1.7zM55.1 14.7h1.7v1.8h-1.7zM69.6 14.7h1.7v1.8h-1.7zM121.7 14.7h1.7v1.8h-1.7zM139.1 14.7h1.7v1.8h-1.7zM37.7 16.1h1.7v1.8h-1.7zM55.1 16.1h1.7v1.8h-1.7zM69.6 16.1h1.7v1.8h-1.7zM149.3 16.1h1.7v1.8h-1.7zM175.4 16.1h1.7v1.8h-1.7zM182.6 16.1h1.7v1.8h-1.7zM187.0 16.1h1.7v1.8h-1.7zM30.4 17.6h1.7v1.8h-1.7zM108.7 17.6h1.7v1.8h-1.7zM133.3 17.6h1.7v1.8h-1.7zM55.1 19.1h1.7v1.8h-1.7zM107.2 19.1h1.7v1.8h-1.7zM131.9 19.1h1.7v1.8h-1.7zM147.8 19.1h1.7v1.8h-1.7zM165.2 19.1h1.7v1.8h-1.7zM42.0 22.0h1.7v1.8h-1.7zM173.9 22.0h1.7v1.8h-1.7zM179.7 22.0h1.7v1.8h-1.7zM108.7 23.5h1.7v1.8h-1.7zM140.6 23.5h1.7v1.8h-1.7zM159.4 23.5h3.2v1.8h-3.2zM56.5 25.0h1.7v1.8h-1.7zM118.8 25.0h1.7v1.8h-1.7zM46.4 26.4h1.7v1.8h-1.7zM53.6 26.4h1.7v1.8h-1.7zM58.0 26.4h1.7v1.8h-1.7zM176.8 26.4h1.7v1.8h-1.7zM105.8 27.9h1.7v1.8h-1.7zM127.5 27.9h1.7v1.8h-1.7zM136.2 27.9h1.7v1.8h-1.7zM136.2 29.4h1.7v1.8h-1.7zM166.7 30.8h1.7v1.8h-1.7zM44.9 32.3h1.7v1.8h-1.7zM127.5 32.3h1.7v1.8h-1.7zM133.3 32.3h1.7v1.8h-1.7zM159.4 32.3h1.7v1.8h-1.7zM143.5 33.8h1.7v1.8h-1.7zM98.6 35.2h3.2v1.8h-3.2zM114.5 35.2h3.2v1.8h-3.2zM124.6 35.2h1.7v1.8h-1.7zM129.0 35.2h1.7v1.8h-1.7zM165.2 35.2h1.7v1.8h-1.7zM98.6 36.7h1.7v1.8h-1.7zM117.4 36.7h1.7v1.8h-1.7zM107.2 38.2h1.7v1.8h-1.7zM160.9 38.2h1.7v1.8h-1.7zM66.7 41.1h1.7v1.8h-1.7zM117.4 41.1h1.7v1.8h-1.7zM162.3 41.1h1.7v1.8h-1.7zM71.0 42.6h1.7v1.8h-1.7zM100.0 42.6h1.7v1.8h-1.7zM129.0 44.0h3.2v1.8h-3.2zM65.2 45.5h1.7v1.8h-1.7zM110.1 45.5h1.7v1.8h-1.7zM121.7 45.5h1.7v1.8h-1.7zM56.5 47.0h1.7v1.8h-1.7zM75.4 48.4h1.7v1.8h-1.7zM162.3 48.4h1.7v1.8h-1.7zM113.0 49.9h1.7v1.8h-1.7zM60.9 51.4h1.7v1.8h-1.7zM111.6 52.8h4.6v1.8h-4.6zM111.6 55.8h1.7v1.8h-1.7zM188.4 55.8h1.7v1.8h-1.7zM65.2 57.2h1.7v1.8h-1.7zM123.2 57.2h1.7v1.8h-1.7zM130.4 57.2h1.7v1.8h-1.7zM176.8 57.2h3.2v1.8h-3.2zM185.5 57.2h3.2v1.8h-3.2zM185.5 58.7h1.7v1.8h-1.7zM65.2 60.2h1.7v1.8h-1.7zM191.3 60.2h1.7v1.8h-1.7zM185.5 64.6h1.7v1.8h-1.7zM187.0 66.1h1.7v1.8h-1.7zM66.7 70.5h1.7v1.8h-1.7zM60.9 74.9h1.7v1.8h-1.7z"/>
<path fill="#e3e4ef" d="M20.3 5.9h1.7v1.8h-1.7zM27.5 5.9h1.7v1.8h-1.7zM130.4 7.3h1.7v1.8h-1.7zM143.5 7.3h1.7v1.8h-1.7zM163.8 7.3h1.7v1.8h-1.7zM202.9 7.3h1.7v1.8h-1.7zM153.6 8.8h1.7v1.8h-1.7zM165.2 8.8h1.7v1.8h-1.7zM47.8 10.3h1.7v1.8h-1.7zM160.9 11.7h1.7v1.8h-1.7zM14.5 13.2h1.7v1.8h-1.7zM66.7 13.2h1.7v1.8h-1.7zM98.6 13.2h1.7v1.8h-1.7zM142.0 13.2h1.7v1.8h-1.7zM179.7 13.2h3.2v1.8h-3.2zM187.0 14.7h1.7v1.8h-1.7zM159.4 16.1h1.7v1.8h-1.7zM166.7 16.1h1.7v1.8h-1.7zM136.2 17.6h3.2v1.8h-3.2zM140.6 17.6h1.7v1.8h-1.7zM172.5 17.6h1.7v1.8h-1.7zM50.7 19.1h1.7v1.8h-1.7zM104.3 19.1h1.7v1.8h-1.7zM191.3 19.1h1.7v1.8h-1.7zM40.6 20.5h1.7v1.8h-1.7zM50.7 20.5h1.7v1.8h-1.7zM152.2 20.5h1.7v1.8h-1.7zM173.9 20.5h1.7v1.8h-1.7zM58.0 22.0h1.7v1.8h-1.7zM115.9 22.0h3.2v1.8h-3.2zM127.5 22.0h1.7v1.8h-1.7zM147.8 22.0h1.7v1.8h-1.7zM104.3 23.5h1.7v1.8h-1.7zM169.6 23.5h1.7v1.8h-1.7zM53.6 25.0h1.7v1.8h-1.7zM108.7 25.0h1.7v1.8h-1.7zM120.3 25.0h1.7v1.8h-1.7zM168.1 25.0h1.7v1.8h-1.7zM100.0 26.4h1.7v1.8h-1.7zM107.2 26.4h1.7v1.8h-1.7zM55.1 27.9h1.7v1.8h-1.7zM100.0 27.9h1.7v1.8h-1.7zM107.2 27.9h1.7v1.8h-1.7zM101.5 29.4h1.7v1.8h-1.7zM114.5 29.4h1.7v1.8h-1.7zM142.0 29.4h1.7v1.8h-1.7zM165.2 29.4h1.7v1.8h-1.7zM142.0 30.8h1.7v1.8h-1.7zM43.5 32.3h1.7v1.8h-1.7zM124.6 32.3h1.7v1.8h-1.7zM146.4 32.3h1.7v1.8h-1.7zM149.3 32.3h1.7v1.8h-1.7zM133.3 33.8h1.7v1.8h-1.7zM136.2 33.8h1.7v1.8h-1.7zM160.9 33.8h1.7v1.8h-1.7zM169.6 33.8h1.7v1.8h-1.7zM52.2 35.2h1.7v1.8h-1.7zM55.1 36.7h1.7v1.8h-1.7zM127.5 36.7h1.7v1.8h-1.7zM131.9 36.7h1.7v1.8h-1.7zM166.7 36.7h1.7v1.8h-1.7zM52.2 38.2h1.7v1.8h-1.7zM163.8 38.2h1.7v1.8h-1.7zM105.8 39.6h1.7v1.8h-1.7zM160.9 39.6h1.7v1.8h-1.7zM115.9 41.1h1.7v1.8h-1.7zM149.3 41.1h1.7v1.8h-1.7zM97.1 42.6h1.7v1.8h-1.7zM159.4 42.6h1.7v1.8h-1.7zM129.0 47.0h1.7v1.8h-1.7zM124.6 48.4h1.7v1.8h-1.7zM111.6 49.9h1.7v1.8h-1.7zM121.7 49.9h1.7v1.8h-1.7zM111.6 51.4h1.7v1.8h-1.7zM126.1 52.8h1.7v1.8h-1.7zM181.2 52.8h1.7v1.8h-1.7zM127.5 54.3h1.7v1.8h-1.7zM63.8 55.8h3.2v1.8h-3.2zM118.8 55.8h1.7v1.8h-1.7zM123.2 55.8h1.7v1.8h-1.7zM185.5 55.8h3.2v1.8h-3.2zM76.8 57.2h1.7v1.8h-1.7zM173.9 57.2h3.2v1.8h-3.2zM179.7 57.2h1.7v1.8h-1.7zM62.3 58.7h1.7v1.8h-1.7zM187.0 58.7h3.2v1.8h-3.2zM62.3 60.2h1.7v1.8h-1.7zM178.3 64.6h1.7v1.8h-1.7zM184.1 64.6h1.7v1.8h-1.7zM192.8 64.6h1.7v1.8h-1.7zM188.4 66.1h1.7v1.8h-1.7zM185.5 67.5h1.7v1.8h-1.7zM205.8 67.5h1.7v1.8h-1.7zM188.4 69.0h1.7v1.8h-1.7zM207.3 69.0h1.7v1.8h-1.7zM201.5 73.4h1.7v1.8h-1.7zM65.2 74.9h1.7v1.8h-1.7z"/>
<path fill="#dfe1ee" d="M20.3 7.3h1.7v1.8h-1.7zM136.2 7.3h1.7v1.8h-1.7zM133.3 8.8h1.7v1.8h-1.7zM169.6 8.8h1.7v1.8h-1.7zM173.9 8.8h1.7v1.8h-1.7zM18.8 10.3h1.7v1.8h-1.7zM134.8 10.3h1.7v1.8h-1.7zM173.9 10.3h3.2v1.8h-3.2zM14.5 11.7h1.7v1.8h-1.7zM31.9 11.7h1.7v1.8h-1.7zM173.9 14.7h1.7v1.8h-1.7zM178.3 14.7h1.7v1.8h-1.7zM185.5 14.7h1.7v1.8h-1.7zM142.0 16.1h1.7v1.8h-1.7zM173.9 16.1h1.7v1.8h-1.7zM178.3 16.1h1.7v1.8h-1.7zM42.0 17.6h1.7v1.8h-1.7zM50.7 17.6h1.7v1.8h-1.7zM65.2 17.6h1.7v1.8h-1.7zM69.6 17.6h1.7v1.8h-1.7zM134.8 17.6h1.7v1.8h-1.7zM160.9 17.6h1.7v1.8h-1.7zM182.6 17.6h1.7v1.8h-1.7zM52.2 19.1h1.7v1.8h-1.7zM66.7 19.1h1.7v1.8h-1.7zM136.2 19.1h1.7v1.8h-1.7zM102.9 20.5h1.7v1.8h-1.7zM107.2 20.5h1.7v1.8h-1.7zM134.8 20.5h1.7v1.8h-1.7zM185.5 20.5h1.7v1.8h-1.7zM188.4 20.5h1.7v1.8h-1.7zM50.7 22.0h1.7v1.8h-1.7zM105.8 22.0h1.7v1.8h-1.7zM121.7 22.0h1.7v1.8h-1.7zM158.0 22.0h1.7v1.8h-1.7zM178.3 22.0h1.7v1.8h-1.7zM155.1 23.5h1.7v1.8h-1.7zM168.1 23.5h1.7v1.8h-1.7zM49.3 25.0h1.7v1.8h-1.7zM104.3 25.0h1.7v1.8h-1.7zM115.9 25.0h1.7v1.8h-1.7zM173.9 26.4h1.7v1.8h-1.7zM120.3 27.9h1.7v1.8h-1.7zM124.6 27.9h1.7v1.8h-1.7zM130.4 27.9h1.7v1.8h-1.7zM50.7 29.4h1.7v1.8h-1.7zM113.0 29.4h1.7v1.8h-1.7zM127.5 29.4h1.7v1.8h-1.7zM156.5 29.4h1.7v1.8h-1.7zM169.6 29.4h1.7v1.8h-1.7zM173.9 29.4h1.7v1.8h-1.7zM58.0 30.8h1.7v1.8h-1.7zM55.1 33.8h1.7v1.8h-1.7zM129.0 33.8h1.7v1.8h-1.7zM131.9 33.8h1.7v1.8h-1.7zM144.9 33.8h1.7v1.8h-1.7zM147.8 35.2h1.7v1.8h-1.7zM133.3 36.7h1.7v1.8h-1.7zM147.8 36.7h1.7v1.8h-1.7zM146.4 38.2h1.7v1.8h-1.7zM53.6 39.6h1.7v1.8h-1.7zM65.2 39.6h1.7v1.8h-1.7zM133.3 39.6h1.7v1.8h-1.7zM65.2 41.1h1.7v1.8h-1.7zM101.5 41.1h1.7v1.8h-1.7zM110.1 41.1h1.7v1.8h-1.7zM66.7 42.6h1.7v1.8h-1.7zM130.4 42.6h1.7v1.8h-1.7zM162.3 42.6h1.7v1.8h-1.7zM160.9 45.5h1.7v1.8h-1.7zM108.7 47.0h1.7v1.8h-1.7zM171.0 48.4h1.7v1.8h-1.7zM73.9 49.9h1.7v1.8h-1.7zM123.2 49.9h1.7v1.8h-1.7zM169.6 49.9h1.7v1.8h-1.7zM75.4 51.4h1.7v1.8h-1.7zM166.7 51.4h1.7v1.8h-1.7zM114.5 54.3h1.7v1.8h-1.7zM123.2 54.3h3.2v1.8h-3.2zM178.3 54.3h3.2v1.8h-3.2zM184.1 55.8h1.7v1.8h-1.7zM113.0 57.2h1.7v1.8h-1.7zM78.3 58.7h1.7v1.8h-1.7zM63.8 64.6h1.7v1.8h-1.7zM182.6 64.6h1.7v1.8h-1.7zM191.3 67.5h1.7v1.8h-1.7zM69.6 69.0h1.7v1.8h-1.7zM185.5 69.0h1.7v1.8h-1.7zM65.2 79.3h1.7v1.8h-1.7z"/>
<path fill="#dcddec" d="M17.4 4.4h1.7v1.8h-1.7zM202.9 5.9h1.7v1.8h-1.7zM21.7 7.3h1.7v1.8h-1.7zM131.9 7.3h1.7v1.8h-1.7zM175.4 7.3h1.7v1.8h-1.7zM15.9 8.8h1.7v1.8h-1.7zM139.1 8.8h1.7v1.8h-1.7zM17.4 10.3h1.7v1.8h-1.7zM166.7 10.3h3.2v1.8h-3.2zM13.0 11.7h1.7v1.8h-1.7zM100.0 11.7h1.7v1.8h-1.7zM173.9 11.7h1.7v1.8h-1.7zM188.4 11.7h1.7v1.8h-1.7zM13.0 13.2h1.7v1.8h-1.7zM62.3 13.2h1.7v1.8h-1.7zM26.1 14.7h1.7v1.8h-1.7zM31.9 14.7h1.7v1.8h-1.7zM53.6 14.7h1.7v1.8h-1.7zM117.4 14.7h1.7v1.8h-1.7zM123.2 14.7h1.7v1.8h-1.7zM137.7 14.7h1.7v1.8h-1.7zM168.1 14.7h3.2v1.8h-3.2zM121.7 16.1h1.7v1.8h-1.7zM140.6 16.1h1.7v1.8h-1.7zM114.5 17.6h1.7v1.8h-1.7zM149.3 17.6h1.7v1.8h-1.7zM158.0 17.6h1.7v1.8h-1.7zM173.9 17.6h3.2v1.8h-3.2zM181.2 17.6h1.7v1.8h-1.7zM62.3 19.1h4.6v1.8h-4.6zM101.5 19.1h1.7v1.8h-1.7zM152.2 19.1h1.7v1.8h-1.7zM172.5 19.1h3.2v1.8h-3.2zM66.7 20.5h1.7v1.8h-1.7zM104.3 20.5h1.7v1.8h-1.7zM117.4 20.5h1.7v1.8h-1.7zM144.9 20.5h1.7v1.8h-1.7zM172.5 20.5h1.7v1.8h-1.7zM52.2 22.0h1.7v1.8h-1.7zM102.9 22.0h1.7v1.8h-1.7zM123.2 22.0h1.7v1.8h-1.7zM134.8 22.0h1.7v1.8h-1.7zM102.9 23.5h1.7v1.8h-1.7zM117.4 25.0h1.7v1.8h-1.7zM179.7 25.0h1.7v1.8h-1.7zM185.5 25.0h1.7v1.8h-1.7zM129.0 26.4h1.7v1.8h-1.7zM136.2 26.4h3.2v1.8h-3.2zM47.8 27.9h1.7v1.8h-1.7zM56.5 27.9h1.7v1.8h-1.7zM134.8 27.9h1.7v1.8h-1.7zM173.9 27.9h1.7v1.8h-1.7zM56.5 29.4h1.7v1.8h-1.7zM105.8 29.4h1.7v1.8h-1.7zM146.4 29.4h1.7v1.8h-1.7zM162.3 29.4h1.7v1.8h-1.7zM124.6 30.8h1.7v1.8h-1.7zM137.7 30.8h1.7v1.8h-1.7zM144.9 30.8h3.2v1.8h-3.2zM46.4 32.3h1.7v1.8h-1.7zM144.9 32.3h1.7v1.8h-1.7zM165.2 32.3h1.7v1.8h-1.7zM60.9 33.8h1.7v1.8h-1.7zM149.3 33.8h1.7v1.8h-1.7zM168.1 33.8h1.7v1.8h-1.7zM50.7 35.2h1.7v1.8h-1.7zM130.4 35.2h1.7v1.8h-1.7zM53.6 36.7h1.7v1.8h-1.7zM100.0 36.7h1.7v1.8h-1.7zM105.8 38.2h1.7v1.8h-1.7zM166.7 38.2h1.7v1.8h-1.7zM165.2 41.1h1.7v1.8h-1.7zM65.2 42.6h1.7v1.8h-1.7zM72.5 42.6h1.7v1.8h-1.7zM117.4 42.6h1.7v1.8h-1.7zM163.8 42.6h1.7v1.8h-1.7zM107.2 44.0h1.7v1.8h-1.7zM121.7 47.0h1.7v1.8h-1.7zM56.5 49.9h1.7v1.8h-1.7zM58.0 51.4h1.7v1.8h-1.7zM118.8 51.4h3.2v1.8h-3.2zM171.0 51.4h1.7v1.8h-1.7zM173.9 51.4h1.7v1.8h-1.7zM121.7 52.8h1.7v1.8h-1.7zM118.8 54.3h1.7v1.8h-1.7zM124.6 55.8h1.7v1.8h-1.7zM178.3 55.8h1.7v1.8h-1.7zM69.6 57.2h1.7v1.8h-1.7zM117.4 57.2h1.7v1.8h-1.7zM69.6 58.7h1.7v1.8h-1.7zM62.3 61.6h1.7v1.8h-1.7zM187.0 61.6h1.7v1.8h-1.7zM181.2 63.1h1.7v1.8h-1.7zM187.0 64.6h1.7v1.8h-1.7zM189.9 69.0h1.7v1.8h-1.7zM205.8 69.0h1.7v1.8h-1.7zM205.8 70.5h1.7v1.8h-1.7zM59.4 73.4h1.7v1.8h-1.7zM62.3 77.8h1.7v1.8h-1.7z"/>
<path fill="#d8daeb" d="M18.8 4.4h1.7v1.8h-1.7zM26.1 5.9h1.7v1.8h-1.7zM142.0 5.9h1.7v1.8h-1.7zM176.8 7.3h1.7v1.8h-1.7zM204.4 7.3h1.7v1.8h-1.7zM107.2 8.8h1.7v1.8h-1.7zM110.1 8.8h1.7v1.8h-1.7zM126.1 8.8h1.7v1.8h-1.7zM134.8 8.8h1.7v1.8h-1.7zM27.5 10.3h3.2v1.8h-3.2zM46.4 10.3h1.7v1.8h-1.7zM11.6 11.7h1.7v1.8h-1.7zM37.7 11.7h1.7v1.8h-1.7zM101.5 11.7h3.2v1.8h-3.2zM118.8 11.7h1.7v1.8h-1.7zM158.0 11.7h1.7v1.8h-1.7zM163.8 11.7h1.7v1.8h-1.7zM172.5 11.7h1.7v1.8h-1.7zM185.5 11.7h1.7v1.8h-1.7zM31.9 13.2h4.6v1.8h-4.6zM146.4 13.2h1.7v1.8h-1.7zM159.4 13.2h1.7v1.8h-1.7zM37.7 14.7h1.7v1.8h-1.7zM44.9 14.7h1.7v1.8h-1.7zM150.7 14.7h1.7v1.8h-1.7zM179.7 14.7h1.7v1.8h-1.7zM31.9 16.1h1.7v1.8h-1.7zM39.1 16.1h1.7v1.8h-1.7zM117.4 16.1h1.7v1.8h-1.7zM137.7 16.1h1.7v1.8h-1.7zM71.0 17.6h1.7v1.8h-1.7zM104.3 17.6h1.7v1.8h-1.7zM126.1 17.6h1.7v1.8h-1.7zM187.0 17.6h1.7v1.8h-1.7zM42.0 19.1h1.7v1.8h-1.7zM53.6 19.1h1.7v1.8h-1.7zM59.4 19.1h1.7v1.8h-1.7zM124.6 19.1h1.7v1.8h-1.7zM127.5 19.1h1.7v1.8h-1.7zM137.7 19.1h1.7v1.8h-1.7zM150.7 19.1h1.7v1.8h-1.7zM187.0 19.1h1.7v1.8h-1.7zM136.2 20.5h1.7v1.8h-1.7zM182.6 20.5h1.7v1.8h-1.7zM56.5 22.0h1.7v1.8h-1.7zM98.6 22.0h1.7v1.8h-1.7zM114.5 22.0h1.7v1.8h-1.7zM120.3 22.0h1.7v1.8h-1.7zM136.2 22.0h1.7v1.8h-1.7zM55.1 23.5h1.7v1.8h-1.7zM107.2 25.0h1.7v1.8h-1.7zM121.7 25.0h1.7v1.8h-1.7zM134.8 25.0h1.7v1.8h-1.7zM117.4 26.4h1.7v1.8h-1.7zM123.2 26.4h1.7v1.8h-1.7zM127.5 26.4h1.7v1.8h-1.7zM46.4 27.9h1.7v1.8h-1.7zM115.9 27.9h1.7v1.8h-1.7zM137.7 27.9h1.7v1.8h-1.7zM52.2 29.4h4.6v1.8h-4.6zM144.9 29.4h1.7v1.8h-1.7zM159.4 29.4h1.7v1.8h-1.7zM129.0 30.8h1.7v1.8h-1.7zM158.0 30.8h1.7v1.8h-1.7zM129.0 32.3h1.7v1.8h-1.7zM52.2 33.8h1.7v1.8h-1.7zM137.7 33.8h1.7v1.8h-1.7zM159.4 33.8h1.7v1.8h-1.7zM166.7 33.8h1.7v1.8h-1.7zM49.3 36.7h1.7v1.8h-1.7zM160.9 36.7h4.6v1.8h-4.6zM55.1 39.6h1.7v1.8h-1.7zM62.3 39.6h1.7v1.8h-1.7zM162.3 39.6h1.7v1.8h-1.7zM176.8 39.6h1.7v1.8h-1.7zM108.7 41.1h1.7v1.8h-1.7zM114.5 41.1h1.7v1.8h-1.7zM130.4 41.1h1.7v1.8h-1.7zM68.1 42.6h1.7v1.8h-1.7zM107.2 42.6h1.7v1.8h-1.7zM163.8 44.0h1.7v1.8h-1.7zM127.5 47.0h1.7v1.8h-1.7zM58.0 48.4h1.7v1.8h-1.7zM113.0 48.4h1.7v1.8h-1.7zM163.8 48.4h1.7v1.8h-1.7zM118.8 49.9h1.7v1.8h-1.7zM165.2 49.9h3.2v1.8h-3.2zM58.0 52.8h1.7v1.8h-1.7zM123.2 52.8h1.7v1.8h-1.7zM75.4 55.8h1.7v1.8h-1.7zM72.5 57.2h1.7v1.8h-1.7zM120.3 57.2h1.7v1.8h-1.7zM182.6 57.2h1.7v1.8h-1.7zM72.5 60.2h1.7v1.8h-1.7zM76.8 60.2h1.7v1.8h-1.7zM73.9 61.6h1.7v1.8h-1.7zM130.4 61.6h1.7v1.8h-1.7zM71.0 63.1h1.7v1.8h-1.7zM63.8 66.1h1.7v1.8h-1.7zM68.1 67.5h1.7v1.8h-1.7zM62.3 79.3h1.7v1.8h-1.7z"/>
<path fill="#d4d4e8" d="M143.5 2.9h1.7v1.8h-1.7zM24.6 5.9h1.7v1.8h-1.7zM153.6 5.9h1.7v1.8h-1.7zM172.5 5.9h1.7v1.8h-1.7zM176.8 5.9h1.7v1.8h-1.7zM201.5 5.9h1.7v1.8h-1.7zM23.2 7.3h1.7v1.8h-1.7zM30.4 7.3h1.7v1.8h-1.7zM142.0 7.3h1.7v1.8h-1.7zM17.4 8.8h1.7v1.8h-1.7zM30.4 8.8h1.7v1.8h-1.7zM37.7 8.8h1.7v1.8h-1.7zM46.4 8.8h1.7v1.8h-1.7zM120.3 8.8h1.7v1.8h-1.7zM146.4 8.8h1.7v1.8h-1.7zM171.0 8.8h1.7v1.8h-1.7zM205.8 8.8h1.7v1.8h-1.7zM10.1 10.3h1.7v1.8h-1.7zM14.5 10.3h1.7v1.8h-1.7zM20.3 10.3h1.7v1.8h-1.7zM23.2 10.3h1.7v1.8h-1.7zM147.8 11.7h1.7v1.8h-1.7zM175.4 11.7h1.7v1.8h-1.7zM200.0 11.7h1.7v1.8h-1.7zM11.6 13.2h1.7v1.8h-1.7zM100.0 13.2h1.7v1.8h-1.7zM136.2 13.2h1.7v1.8h-1.7zM140.6 13.2h1.7v1.8h-1.7zM158.0 13.2h1.7v1.8h-1.7zM178.3 13.2h1.7v1.8h-1.7zM49.3 14.7h1.7v1.8h-1.7zM110.1 14.7h1.7v1.8h-1.7zM142.0 14.7h1.7v1.8h-1.7zM175.4 14.7h1.7v1.8h-1.7zM197.1 14.7h1.7v1.8h-1.7zM29.0 16.1h1.7v1.8h-1.7zM123.2 16.1h3.2v1.8h-3.2zM156.5 16.1h1.7v1.8h-1.7zM102.9 17.6h1.7v1.8h-1.7zM147.8 17.6h1.7v1.8h-1.7zM153.6 17.6h1.7v1.8h-1.7zM178.3 17.6h1.7v1.8h-1.7zM56.5 19.1h1.7v1.8h-1.7zM60.9 19.1h1.7v1.8h-1.7zM105.8 19.1h1.7v1.8h-1.7zM115.9 19.1h1.7v1.8h-1.7zM175.4 19.1h3.2v1.8h-3.2zM184.1 19.1h1.7v1.8h-1.7zM60.9 20.5h1.7v1.8h-1.7zM129.0 20.5h1.7v1.8h-1.7zM176.8 20.5h1.7v1.8h-1.7zM187.0 20.5h1.7v1.8h-1.7zM40.6 22.0h1.7v1.8h-1.7zM49.3 22.0h1.7v1.8h-1.7zM101.5 22.0h1.7v1.8h-1.7zM172.5 22.0h1.7v1.8h-1.7zM185.5 22.0h1.7v1.8h-1.7zM129.0 23.5h1.7v1.8h-1.7zM171.0 23.5h1.7v1.8h-1.7zM185.5 23.5h1.7v1.8h-1.7zM130.4 25.0h1.7v1.8h-1.7zM166.7 25.0h1.7v1.8h-1.7zM173.9 25.0h1.7v1.8h-1.7zM56.5 26.4h1.7v1.8h-1.7zM126.1 26.4h1.7v1.8h-1.7zM165.2 26.4h1.7v1.8h-1.7zM129.0 27.9h1.7v1.8h-1.7zM110.1 29.4h3.2v1.8h-3.2zM137.7 29.4h1.7v1.8h-1.7zM169.6 30.8h3.2v1.8h-3.2zM55.1 32.3h1.7v1.8h-1.7zM137.7 32.3h1.7v1.8h-1.7zM158.0 32.3h1.7v1.8h-1.7zM171.0 32.3h1.7v1.8h-1.7zM165.2 33.8h1.7v1.8h-1.7zM62.3 35.2h1.7v1.8h-1.7zM131.9 35.2h1.7v1.8h-1.7zM159.4 35.2h1.7v1.8h-1.7zM162.3 35.2h3.2v1.8h-3.2zM166.7 35.2h1.7v1.8h-1.7zM173.9 35.2h1.7v1.8h-1.7zM159.4 36.7h1.7v1.8h-1.7zM55.1 41.1h4.6v1.8h-4.6zM113.0 41.1h1.7v1.8h-1.7zM163.8 41.1h1.7v1.8h-1.7zM172.5 41.1h1.7v1.8h-1.7zM69.6 42.6h1.7v1.8h-1.7zM108.7 42.6h1.7v1.8h-1.7zM160.9 42.6h1.7v1.8h-1.7zM58.0 45.5h1.7v1.8h-1.7zM58.0 47.0h1.7v1.8h-1.7zM110.1 48.4h1.7v1.8h-1.7zM168.1 49.9h1.7v1.8h-1.7zM63.8 54.3h1.7v1.8h-1.7zM71.0 54.3h1.7v1.8h-1.7zM111.6 54.3h1.7v1.8h-1.7zM60.9 55.8h1.7v1.8h-1.7zM129.0 55.8h1.7v1.8h-1.7zM73.9 57.2h1.7v1.8h-1.7zM175.4 58.7h3.2v1.8h-3.2zM181.2 58.7h1.7v1.8h-1.7zM185.5 60.2h1.7v1.8h-1.7zM178.3 63.1h3.2v1.8h-3.2zM185.5 63.1h1.7v1.8h-1.7zM69.6 66.1h1.7v1.8h-1.7zM182.6 66.1h1.7v1.8h-1.7zM69.6 67.5h1.7v1.8h-1.7zM188.4 67.5h1.7v1.8h-1.7zM62.3 71.9h1.7v1.8h-1.7zM63.8 74.9h1.7v1.8h-1.7zM63.8 79.3h1.7v1.8h-1.7z"/>
<path fill="#cecde4" d="M11.6 4.4h3.2v1.8h-3.2zM14.5 5.9h1.7v1.8h-1.7zM33.3 5.9h1.7v1.8h-1.7zM204.4 5.9h1.7v1.8h-1.7zM26.1 7.3h1.7v1.8h-1.7zM137.7 7.3h1.7v1.8h-1.7zM169.6 7.3h4.6v1.8h-4.6zM181.2 7.3h1.7v1.8h-1.7zM187.0 7.3h1.7v1.8h-1.7zM39.1 8.8h1.7v1.8h-1.7zM118.8 10.3h1.7v1.8h-1.7zM136.2 10.3h1.7v1.8h-1.7zM140.6 10.3h1.7v1.8h-1.7zM204.4 10.3h1.7v1.8h-1.7zM156.5 11.7h1.7v1.8h-1.7zM171.0 11.7h1.7v1.8h-1.7zM46.4 13.2h1.7v1.8h-1.7zM56.5 13.2h1.7v1.8h-1.7zM101.5 13.2h1.7v1.8h-1.7zM152.2 13.2h1.7v1.8h-1.7zM173.9 13.2h1.7v1.8h-1.7zM129.0 14.7h1.7v1.8h-1.7zM36.2 16.1h1.7v1.8h-1.7zM169.6 16.1h1.7v1.8h-1.7zM181.2 16.1h1.7v1.8h-1.7zM72.5 17.6h1.7v1.8h-1.7zM101.5 17.6h1.7v1.8h-1.7zM105.8 17.6h1.7v1.8h-1.7zM168.1 17.6h1.7v1.8h-1.7zM68.1 19.1h1.7v1.8h-1.7zM110.1 19.1h1.7v1.8h-1.7zM178.3 19.1h1.7v1.8h-1.7zM182.6 19.1h1.7v1.8h-1.7zM63.8 20.5h3.2v1.8h-3.2zM123.2 20.5h1.7v1.8h-1.7zM147.8 20.5h1.7v1.8h-1.7zM178.3 20.5h1.7v1.8h-1.7zM166.7 23.5h1.7v1.8h-1.7zM176.8 23.5h1.7v1.8h-1.7zM55.1 26.4h1.7v1.8h-1.7zM59.4 26.4h1.7v1.8h-1.7zM131.9 26.4h1.7v1.8h-1.7zM139.1 26.4h1.7v1.8h-1.7zM142.0 26.4h1.7v1.8h-1.7zM163.8 26.4h1.7v1.8h-1.7zM171.0 26.4h3.2v1.8h-3.2zM179.7 26.4h1.7v1.8h-1.7zM121.7 27.9h1.7v1.8h-1.7zM133.3 27.9h1.7v1.8h-1.7zM47.8 29.4h1.7v1.8h-1.7zM158.0 29.4h1.7v1.8h-1.7zM162.3 30.8h1.7v1.8h-1.7zM173.9 32.3h1.7v1.8h-1.7zM50.7 36.7h1.7v1.8h-1.7zM130.4 36.7h1.7v1.8h-1.7zM53.6 38.2h1.7v1.8h-1.7zM149.3 38.2h1.7v1.8h-1.7zM163.8 39.6h1.7v1.8h-1.7zM165.2 48.4h1.7v1.8h-1.7zM58.0 49.9h1.7v1.8h-1.7zM59.4 51.4h1.7v1.8h-1.7zM113.0 51.4h1.7v1.8h-1.7zM73.9 52.8h1.7v1.8h-1.7zM69.6 54.3h1.7v1.8h-1.7zM73.9 54.3h1.7v1.8h-1.7zM121.7 54.3h1.7v1.8h-1.7zM133.3 54.3h1.7v1.8h-1.7zM179.7 55.8h3.2v1.8h-3.2zM181.2 57.2h1.7v1.8h-1.7zM73.9 60.2h1.7v1.8h-1.7zM65.2 66.1h1.7v1.8h-1.7zM71.0 67.5h1.7v1.8h-1.7zM204.4 67.5h1.7v1.8h-1.7zM60.9 70.5h1.7v1.8h-1.7zM60.9 71.9h1.7v1.8h-1.7zM63.8 76.3h1.7v1.8h-1.7zM63.8 77.8h1.7v1.8h-1.7z"/>
<path fill="#c9c8e1" d="M113.0 5.9h1.7v1.8h-1.7zM17.4 7.3h1.7v1.8h-1.7zM56.5 7.3h1.7v1.8h-1.7zM160.9 7.3h1.7v1.8h-1.7zM185.5 7.3h1.7v1.8h-1.7zM34.8 8.8h1.7v1.8h-1.7zM49.3 8.8h1.7v1.8h-1.7zM108.7 8.8h1.7v1.8h-1.7zM159.4 8.8h3.2v1.8h-3.2zM202.9 8.8h1.7v1.8h-1.7zM11.6 10.3h1.7v1.8h-1.7zM26.1 10.3h1.7v1.8h-1.7zM159.4 10.3h3.2v1.8h-3.2zM200.0 10.3h3.2v1.8h-3.2zM44.9 11.7h1.7v1.8h-1.7zM127.5 11.7h1.7v1.8h-1.7zM130.4 11.7h1.7v1.8h-1.7zM149.3 11.7h1.7v1.8h-1.7zM162.3 11.7h1.7v1.8h-1.7zM68.1 13.2h1.7v1.8h-1.7zM130.4 13.2h1.7v1.8h-1.7zM139.1 13.2h1.7v1.8h-1.7zM27.5 14.7h1.7v1.8h-1.7zM36.2 14.7h1.7v1.8h-1.7zM42.0 14.7h1.7v1.8h-1.7zM149.3 14.7h1.7v1.8h-1.7zM42.0 16.1h1.7v1.8h-1.7zM44.9 16.1h3.2v1.8h-3.2zM126.1 16.1h1.7v1.8h-1.7zM152.2 16.1h1.7v1.8h-1.7zM158.0 16.1h1.7v1.8h-1.7zM150.7 17.6h1.7v1.8h-1.7zM156.5 17.6h1.7v1.8h-1.7zM185.5 17.6h1.7v1.8h-1.7zM68.1 20.5h1.7v1.8h-1.7zM100.0 20.5h3.2v1.8h-3.2zM108.7 20.5h1.7v1.8h-1.7zM100.0 22.0h1.7v1.8h-1.7zM56.5 23.5h1.7v1.8h-1.7zM162.3 23.5h1.7v1.8h-1.7zM165.2 23.5h1.7v1.8h-1.7zM175.4 23.5h1.7v1.8h-1.7zM126.1 25.0h1.7v1.8h-1.7zM163.8 25.0h1.7v1.8h-1.7zM176.8 25.0h1.7v1.8h-1.7zM171.0 27.9h1.7v1.8h-1.7zM156.5 30.8h1.7v1.8h-1.7zM166.7 32.3h1.7v1.8h-1.7zM156.5 33.8h1.7v1.8h-1.7zM63.8 35.2h1.7v1.8h-1.7zM168.1 35.2h1.7v1.8h-1.7zM52.2 36.7h1.7v1.8h-1.7zM131.9 38.2h1.7v1.8h-1.7zM147.8 38.2h1.7v1.8h-1.7zM149.3 39.6h1.7v1.8h-1.7zM166.7 39.6h1.7v1.8h-1.7zM147.8 41.1h1.7v1.8h-1.7zM73.9 44.0h1.7v1.8h-1.7zM162.3 44.0h1.7v1.8h-1.7zM168.1 51.4h1.7v1.8h-1.7zM72.5 54.3h1.7v1.8h-1.7zM126.1 55.8h1.7v1.8h-1.7zM182.6 55.8h1.7v1.8h-1.7zM71.0 57.2h1.7v1.8h-1.7zM124.6 57.2h1.7v1.8h-1.7zM65.2 58.7h1.7v1.8h-1.7zM78.3 60.2h1.7v1.8h-1.7zM175.4 60.2h1.7v1.8h-1.7zM71.0 61.6h1.7v1.8h-1.7zM62.3 63.1h1.7v1.8h-1.7zM204.4 69.0h1.7v1.8h-1.7zM202.9 73.4h1.7v1.8h-1.7z"/>
<path fill="#c5c2de" d="M118.8 4.4h1.7v1.8h-1.7zM13.0 5.9h1.7v1.8h-1.7zM129.0 5.9h1.7v1.8h-1.7zM168.1 5.9h1.7v1.8h-1.7zM2.9 7.3h1.7v1.8h-1.7zM13.0 7.3h4.6v1.8h-4.6zM31.9 7.3h1.7v1.8h-1.7zM42.0 7.3h1.7v1.8h-1.7zM159.4 7.3h1.7v1.8h-1.7zM191.3 7.3h1.7v1.8h-1.7zM207.3 7.3h1.7v1.8h-1.7zM14.5 8.8h1.7v1.8h-1.7zM124.6 8.8h1.7v1.8h-1.7zM168.1 8.8h1.7v1.8h-1.7zM200.0 8.8h1.7v1.8h-1.7zM15.9 10.3h1.7v1.8h-1.7zM117.4 10.3h1.7v1.8h-1.7zM124.6 10.3h1.7v1.8h-1.7zM129.0 10.3h1.7v1.8h-1.7zM165.2 10.3h1.7v1.8h-1.7zM169.6 10.3h1.7v1.8h-1.7zM33.3 11.7h1.7v1.8h-1.7zM150.7 11.7h1.7v1.8h-1.7zM166.7 11.7h1.7v1.8h-1.7zM176.8 11.7h1.7v1.8h-1.7zM26.1 13.2h1.7v1.8h-1.7zM40.6 13.2h1.7v1.8h-1.7zM43.5 13.2h1.7v1.8h-1.7zM147.8 13.2h1.7v1.8h-1.7zM165.2 13.2h1.7v1.8h-1.7zM175.4 13.2h1.7v1.8h-1.7zM194.2 13.2h1.7v1.8h-1.7zM30.4 14.7h1.7v1.8h-1.7zM34.8 14.7h1.7v1.8h-1.7zM58.0 14.7h1.7v1.8h-1.7zM71.0 14.7h1.7v1.8h-1.7zM100.0 14.7h1.7v1.8h-1.7zM111.6 14.7h1.7v1.8h-1.7zM126.1 14.7h1.7v1.8h-1.7zM131.9 14.7h1.7v1.8h-1.7zM136.2 14.7h1.7v1.8h-1.7zM27.5 16.1h1.7v1.8h-1.7zM33.3 16.1h1.7v1.8h-1.7zM43.5 16.1h1.7v1.8h-1.7zM110.1 16.1h1.7v1.8h-1.7zM115.9 16.1h1.7v1.8h-1.7zM162.3 16.1h1.7v1.8h-1.7zM117.4 17.6h3.2v1.8h-3.2zM152.2 17.6h1.7v1.8h-1.7zM163.8 17.6h1.7v1.8h-1.7zM162.3 19.1h1.7v1.8h-1.7zM120.3 20.5h1.7v1.8h-1.7zM149.3 20.5h1.7v1.8h-1.7zM137.7 22.0h1.7v1.8h-1.7zM171.0 22.0h1.7v1.8h-1.7zM176.8 22.0h1.7v1.8h-1.7zM46.4 23.5h1.7v1.8h-1.7zM123.2 23.5h1.7v1.8h-1.7zM58.0 25.0h1.7v1.8h-1.7zM111.6 25.0h1.7v1.8h-1.7zM123.2 25.0h3.2v1.8h-3.2zM181.2 25.0h1.7v1.8h-1.7zM182.6 26.4h1.7v1.8h-1.7zM166.7 27.9h1.7v1.8h-1.7zM152.2 29.4h1.7v1.8h-1.7zM160.9 29.4h1.7v1.8h-1.7zM168.1 29.4h1.7v1.8h-1.7zM171.0 29.4h3.2v1.8h-3.2zM136.2 30.8h1.7v1.8h-1.7zM136.2 32.3h1.7v1.8h-1.7zM43.5 33.8h1.7v1.8h-1.7zM53.6 33.8h1.7v1.8h-1.7zM153.6 33.8h1.7v1.8h-1.7zM158.0 35.2h1.7v1.8h-1.7zM152.2 36.7h1.7v1.8h-1.7zM175.4 38.2h1.7v1.8h-1.7zM165.2 39.6h1.7v1.8h-1.7zM131.9 42.6h1.7v1.8h-1.7zM111.6 47.0h1.7v1.8h-1.7zM172.5 51.4h1.7v1.8h-1.7zM65.2 54.3h1.7v1.8h-1.7zM176.8 54.3h1.7v1.8h-1.7zM69.6 55.8h1.7v1.8h-1.7zM110.1 55.8h1.7v1.8h-1.7zM79.7 60.2h1.7v1.8h-1.7zM129.0 61.6h1.7v1.8h-1.7zM191.3 61.6h1.7v1.8h-1.7zM69.6 63.1h1.7v1.8h-1.7zM200.0 71.9h1.7v1.8h-1.7zM200.0 73.4h1.7v1.8h-1.7z"/>
<path fill="#c0bddb" d="M40.6 4.4h1.7v1.8h-1.7zM1.4 5.9h1.7v1.8h-1.7zM21.7 5.9h3.2v1.8h-3.2zM121.7 5.9h1.7v1.8h-1.7zM131.9 5.9h1.7v1.8h-1.7zM140.6 5.9h1.7v1.8h-1.7zM185.5 5.9h1.7v1.8h-1.7zM113.0 7.3h3.2v1.8h-3.2zM121.7 7.3h3.2v1.8h-3.2zM7.2 8.8h1.7v1.8h-1.7zM24.6 8.8h1.7v1.8h-1.7zM27.5 8.8h1.7v1.8h-1.7zM111.6 8.8h3.2v1.8h-3.2zM127.5 8.8h1.7v1.8h-1.7zM136.2 8.8h1.7v1.8h-1.7zM176.8 8.8h1.7v1.8h-1.7zM201.5 8.8h1.7v1.8h-1.7zM110.1 10.3h1.7v1.8h-1.7zM153.6 10.3h1.7v1.8h-1.7zM176.8 10.3h1.7v1.8h-1.7zM10.1 11.7h1.7v1.8h-1.7zM40.6 11.7h1.7v1.8h-1.7zM117.4 11.7h1.7v1.8h-1.7zM140.6 11.7h1.7v1.8h-1.7zM102.9 13.2h1.7v1.8h-1.7zM115.9 13.2h1.7v1.8h-1.7zM155.1 13.2h3.2v1.8h-3.2zM182.6 13.2h1.7v1.8h-1.7zM144.9 14.7h3.2v1.8h-3.2zM153.6 14.7h1.7v1.8h-1.7zM159.4 14.7h1.7v1.8h-1.7zM30.4 16.1h1.7v1.8h-1.7zM127.5 16.1h1.7v1.8h-1.7zM136.2 16.1h1.7v1.8h-1.7zM163.8 16.1h1.7v1.8h-1.7zM168.1 16.1h1.7v1.8h-1.7zM179.7 17.6h1.7v1.8h-1.7zM184.1 17.6h1.7v1.8h-1.7zM43.5 19.1h1.7v1.8h-1.7zM98.6 20.5h1.7v1.8h-1.7zM113.0 20.5h1.7v1.8h-1.7zM118.8 20.5h1.7v1.8h-1.7zM171.0 20.5h1.7v1.8h-1.7zM62.3 22.0h1.7v1.8h-1.7zM113.0 22.0h1.7v1.8h-1.7zM121.7 23.5h1.7v1.8h-1.7zM178.3 25.0h1.7v1.8h-1.7zM163.8 27.9h3.2v1.8h-3.2zM153.6 29.4h1.7v1.8h-1.7zM42.0 32.3h1.7v1.8h-1.7zM147.8 32.3h1.7v1.8h-1.7zM172.5 32.3h1.7v1.8h-1.7zM160.9 35.2h1.7v1.8h-1.7zM124.6 36.7h1.7v1.8h-1.7zM146.4 36.7h1.7v1.8h-1.7zM59.4 39.6h1.7v1.8h-1.7zM172.5 39.6h1.7v1.8h-1.7zM176.8 41.1h1.7v1.8h-1.7zM175.4 42.6h1.7v1.8h-1.7zM56.5 45.5h1.7v1.8h-1.7zM162.3 45.5h1.7v1.8h-1.7zM111.6 48.4h1.7v1.8h-1.7zM117.4 49.9h1.7v1.8h-1.7zM113.0 55.8h1.7v1.8h-1.7zM71.0 58.7h1.7v1.8h-1.7zM79.7 58.7h1.7v1.8h-1.7zM69.6 61.6h1.7v1.8h-1.7z"/>
<path fill="#bcb7d8" d="M14.5 4.4h1.7v1.8h-1.7zM0.0 5.9h1.7v1.8h-1.7zM10.1 5.9h1.7v1.8h-1.7zM17.4 5.9h1.7v1.8h-1.7zM124.6 5.9h1.7v1.8h-1.7zM149.3 5.9h1.7v1.8h-1.7zM200.0 5.9h1.7v1.8h-1.7zM34.8 7.3h1.7v1.8h-1.7zM66.7 7.3h1.7v1.8h-1.7zM168.1 7.3h1.7v1.8h-1.7zM8.7 8.8h1.7v1.8h-1.7zM20.3 8.8h1.7v1.8h-1.7zM114.5 8.8h1.7v1.8h-1.7zM150.7 8.8h1.7v1.8h-1.7zM155.1 8.8h1.7v1.8h-1.7zM36.2 10.3h1.7v1.8h-1.7zM111.6 10.3h1.7v1.8h-1.7zM144.9 11.7h1.7v1.8h-1.7zM169.6 11.7h1.7v1.8h-1.7zM182.6 11.7h1.7v1.8h-1.7zM192.8 11.7h1.7v1.8h-1.7zM8.7 13.2h1.7v1.8h-1.7zM30.4 13.2h1.7v1.8h-1.7zM147.8 14.7h1.7v1.8h-1.7zM195.7 14.7h1.7v1.8h-1.7zM98.6 16.1h1.7v1.8h-1.7zM101.5 16.1h1.7v1.8h-1.7zM120.3 16.1h1.7v1.8h-1.7zM129.0 16.1h1.7v1.8h-1.7zM147.8 16.1h1.7v1.8h-1.7zM194.2 16.1h1.7v1.8h-1.7zM110.1 17.6h1.7v1.8h-1.7zM115.9 17.6h1.7v1.8h-1.7zM127.5 17.6h1.7v1.8h-1.7zM111.6 19.1h1.7v1.8h-1.7zM126.1 19.1h1.7v1.8h-1.7zM153.6 19.1h1.7v1.8h-1.7zM43.5 22.0h1.7v1.8h-1.7zM60.9 22.0h1.7v1.8h-1.7zM111.6 22.0h1.7v1.8h-1.7zM118.8 22.0h1.7v1.8h-1.7zM126.1 23.5h1.7v1.8h-1.7zM172.5 23.5h1.7v1.8h-1.7zM47.8 25.0h1.7v1.8h-1.7zM162.3 26.4h1.7v1.8h-1.7zM166.7 26.4h3.2v1.8h-3.2zM184.1 26.4h1.7v1.8h-1.7zM163.8 29.4h1.7v1.8h-1.7zM56.5 30.8h1.7v1.8h-1.7zM160.9 30.8h1.7v1.8h-1.7zM143.5 32.3h1.7v1.8h-1.7zM155.1 32.3h1.7v1.8h-1.7zM150.7 33.8h1.7v1.8h-1.7zM158.0 33.8h1.7v1.8h-1.7zM60.9 35.2h1.7v1.8h-1.7zM152.2 35.2h1.7v1.8h-1.7zM165.2 38.2h1.7v1.8h-1.7zM120.3 48.4h1.7v1.8h-1.7zM113.0 54.3h1.7v1.8h-1.7zM71.0 60.2h1.7v1.8h-1.7zM60.9 76.3h1.7v1.8h-1.7zM65.2 77.8h1.7v1.8h-1.7z"/>
<path fill="#b6b0d4" d="M146.4 4.4h1.7v1.8h-1.7zM179.7 4.4h1.7v1.8h-1.7zM188.4 4.4h1.7v1.8h-1.7zM63.8 5.9h1.7v1.8h-1.7zM127.5 5.9h1.7v1.8h-1.7zM169.6 5.9h1.7v1.8h-1.7zM194.2 5.9h1.7v1.8h-1.7zM205.8 5.9h1.7v1.8h-1.7zM139.1 7.3h1.7v1.8h-1.7zM165.2 7.3h1.7v1.8h-1.7zM118.8 8.8h1.7v1.8h-1.7zM131.9 8.8h1.7v1.8h-1.7zM13.0 10.3h1.7v1.8h-1.7zM34.8 10.3h1.7v1.8h-1.7zM114.5 10.3h1.7v1.8h-1.7zM144.9 10.3h1.7v1.8h-1.7zM155.1 10.3h1.7v1.8h-1.7zM205.8 10.3h1.7v1.8h-1.7zM43.5 11.7h1.7v1.8h-1.7zM133.3 11.7h1.7v1.8h-1.7zM152.2 11.7h1.7v1.8h-1.7zM155.1 11.7h1.7v1.8h-1.7zM29.0 13.2h1.7v1.8h-1.7zM118.8 13.2h1.7v1.8h-1.7zM121.7 13.2h1.7v1.8h-1.7zM144.9 13.2h1.7v1.8h-1.7zM98.6 14.7h1.7v1.8h-1.7zM101.5 14.7h1.7v1.8h-1.7zM152.2 14.7h1.7v1.8h-1.7zM155.1 14.7h1.7v1.8h-1.7zM144.9 16.1h1.7v1.8h-1.7zM150.7 16.1h1.7v1.8h-1.7zM165.2 16.1h1.7v1.8h-1.7zM43.5 17.6h1.7v1.8h-1.7zM127.5 20.5h1.7v1.8h-1.7zM47.8 23.5h1.7v1.8h-1.7zM46.4 25.0h1.7v1.8h-1.7zM171.0 25.0h1.7v1.8h-1.7zM169.6 27.9h1.7v1.8h-1.7zM172.5 27.9h1.7v1.8h-1.7zM172.5 30.8h1.7v1.8h-1.7zM56.5 33.8h1.7v1.8h-1.7zM150.7 36.7h1.7v1.8h-1.7zM104.3 38.2h1.7v1.8h-1.7zM60.9 41.1h1.7v1.8h-1.7zM150.7 41.1h1.7v1.8h-1.7zM159.4 44.0h3.2v1.8h-3.2zM72.5 63.1h1.7v1.8h-1.7z"/>
<path fill="#b1aad1" d="M15.9 4.4h1.7v1.8h-1.7zM29.0 4.4h1.7v1.8h-1.7zM121.7 4.4h1.7v1.8h-1.7zM65.2 5.9h1.7v1.8h-1.7zM126.1 5.9h1.7v1.8h-1.7zM136.2 5.9h1.7v1.8h-1.7zM143.5 5.9h1.7v1.8h-1.7zM1.4 7.3h1.7v1.8h-1.7zM43.5 7.3h1.7v1.8h-1.7zM46.4 7.3h3.2v1.8h-3.2zM63.8 7.3h1.7v1.8h-1.7zM205.8 7.3h1.7v1.8h-1.7zM117.4 8.8h1.7v1.8h-1.7zM130.4 8.8h1.7v1.8h-1.7zM137.7 8.8h1.7v1.8h-1.7zM162.3 8.8h1.7v1.8h-1.7zM24.6 10.3h1.7v1.8h-1.7zM123.2 10.3h1.7v1.8h-1.7zM123.2 11.7h1.7v1.8h-1.7zM124.6 13.2h1.7v1.8h-1.7zM176.8 13.2h1.7v1.8h-1.7zM198.6 13.2h1.7v1.8h-1.7zM29.0 14.7h1.7v1.8h-1.7zM124.6 14.7h1.7v1.8h-1.7zM172.5 14.7h1.7v1.8h-1.7zM100.0 16.1h1.7v1.8h-1.7zM146.4 16.1h1.7v1.8h-1.7zM111.6 17.6h1.7v1.8h-1.7zM44.9 19.1h1.7v1.8h-1.7zM185.5 19.1h1.7v1.8h-1.7zM62.3 20.5h1.7v1.8h-1.7zM115.9 23.5h1.7v1.8h-1.7zM162.3 25.0h1.7v1.8h-1.7zM165.2 25.0h1.7v1.8h-1.7zM104.3 26.4h1.7v1.8h-1.7zM162.3 27.9h1.7v1.8h-1.7zM49.3 29.4h1.7v1.8h-1.7zM155.1 30.8h1.7v1.8h-1.7zM134.8 32.3h1.7v1.8h-1.7zM173.9 36.7h1.7v1.8h-1.7zM147.8 39.6h1.7v1.8h-1.7zM173.9 39.6h3.2v1.8h-3.2zM176.8 42.6h1.7v1.8h-1.7zM110.1 47.0h1.7v1.8h-1.7zM59.4 52.8h1.7v1.8h-1.7zM73.9 58.7h1.7v1.8h-1.7zM75.4 61.6h1.7v1.8h-1.7zM62.3 70.5h1.7v1.8h-1.7z"/>
<path fill="#aba3cd" d="M144.9 4.4h1.7v1.8h-1.7zM18.8 5.9h1.7v1.8h-1.7zM111.6 5.9h1.7v1.8h-1.7zM147.8 5.9h1.7v1.8h-1.7zM160.9 5.9h1.7v1.8h-1.7zM120.3 7.3h1.7v1.8h-1.7zM124.6 7.3h1.7v1.8h-1.7zM140.6 7.3h1.7v1.8h-1.7zM140.6 8.8h1.7v1.8h-1.7zM147.8 8.8h3.2v1.8h-3.2zM152.2 8.8h1.7v1.8h-1.7zM163.8 8.8h1.7v1.8h-1.7zM43.5 10.3h1.7v1.8h-1.7zM115.9 10.3h1.7v1.8h-1.7zM150.7 10.3h3.2v1.8h-3.2zM162.3 10.3h1.7v1.8h-1.7zM165.2 11.7h1.7v1.8h-1.7zM168.1 11.7h1.7v1.8h-1.7zM27.5 13.2h1.7v1.8h-1.7zM117.4 13.2h1.7v1.8h-1.7zM126.1 13.2h1.7v1.8h-1.7zM150.7 13.2h1.7v1.8h-1.7zM184.1 13.2h1.7v1.8h-1.7zM118.8 14.7h1.7v1.8h-1.7zM127.5 14.7h1.7v1.8h-1.7zM166.7 14.7h1.7v1.8h-1.7zM194.2 14.7h1.7v1.8h-1.7zM118.8 16.1h1.7v1.8h-1.7zM195.7 16.1h1.7v1.8h-1.7zM176.8 17.6h1.7v1.8h-1.7zM117.4 19.1h1.7v1.8h-1.7zM110.1 20.5h1.7v1.8h-1.7zM187.0 22.0h1.7v1.8h-1.7zM168.1 27.9h1.7v1.8h-1.7zM155.1 29.4h1.7v1.8h-1.7zM58.0 32.3h1.7v1.8h-1.7zM152.2 32.3h1.7v1.8h-1.7zM163.8 32.3h1.7v1.8h-1.7zM152.2 33.8h1.7v1.8h-1.7zM155.1 33.8h1.7v1.8h-1.7zM173.9 38.2h1.7v1.8h-1.7zM163.8 45.5h1.7v1.8h-1.7zM75.4 58.7h1.7v1.8h-1.7zM60.9 77.8h1.7v1.8h-1.7z"/>
<path fill="#a59dc8" d="M120.3 4.4h1.7v1.8h-1.7zM52.2 5.9h1.7v1.8h-1.7zM8.7 7.3h3.2v1.8h-3.2zM44.9 7.3h1.7v1.8h-1.7zM152.2 7.3h1.7v1.8h-1.7zM44.9 8.8h1.7v1.8h-1.7zM59.4 10.3h1.7v1.8h-1.7zM108.7 10.3h1.7v1.8h-1.7zM147.8 10.3h1.7v1.8h-1.7zM36.2 11.7h1.7v1.8h-1.7zM121.7 11.7h1.7v1.8h-1.7zM129.0 11.7h1.7v1.8h-1.7zM197.1 11.7h1.7v1.8h-1.7zM10.1 13.2h1.7v1.8h-1.7zM42.0 13.2h1.7v1.8h-1.7zM133.3 13.2h1.7v1.8h-1.7zM165.2 14.7h1.7v1.8h-1.7zM139.1 16.1h1.7v1.8h-1.7zM172.5 16.1h1.7v1.8h-1.7zM171.0 17.6h1.7v1.8h-1.7zM169.6 19.1h1.7v1.8h-1.7zM137.7 20.5h1.7v1.8h-1.7zM172.5 25.0h1.7v1.8h-1.7zM169.6 26.4h1.7v1.8h-1.7zM153.6 30.8h1.7v1.8h-1.7zM59.4 33.8h1.7v1.8h-1.7zM107.2 41.1h1.7v1.8h-1.7zM163.8 47.0h1.7v1.8h-1.7zM68.1 54.3h1.7v1.8h-1.7zM187.0 63.1h1.7v1.8h-1.7z"/>
<path fill="#9f96c4" d="M123.2 5.9h1.7v1.8h-1.7zM134.8 5.9h1.7v1.8h-1.7zM152.2 5.9h1.7v1.8h-1.7zM129.0 7.3h1.7v1.8h-1.7zM149.3 7.3h3.2v1.8h-3.2zM113.0 10.3h1.7v1.8h-1.7zM121.7 10.3h1.7v1.8h-1.7zM158.0 10.3h1.7v1.8h-1.7zM30.4 11.7h1.7v1.8h-1.7zM137.7 13.2h1.7v1.8h-1.7zM102.9 14.7h1.7v1.8h-1.7zM133.3 14.7h1.7v1.8h-1.7zM102.9 16.1h1.7v1.8h-1.7zM179.7 19.1h1.7v1.8h-1.7zM163.8 23.5h1.7v1.8h-1.7zM123.2 27.9h1.7v1.8h-1.7zM71.0 47.0h1.7v1.8h-1.7zM66.7 54.3h1.7v1.8h-1.7zM75.4 63.1h1.7v1.8h-1.7z"/>
<path fill="#988dbe" d="M15.9 5.9h1.7v1.8h-1.7zM159.4 5.9h1.7v1.8h-1.7zM111.6 7.3h1.7v1.8h-1.7zM126.1 7.3h1.7v1.8h-1.7zM134.8 7.3h1.7v1.8h-1.7zM42.0 10.3h1.7v1.8h-1.7zM107.2 10.3h1.7v1.8h-1.7zM111.6 11.7h1.7v1.8h-1.7zM123.2 13.2h1.7v1.8h-1.7zM127.5 13.2h1.7v1.8h-1.7zM134.8 13.2h1.7v1.8h-1.7zM120.3 14.7h1.7v1.8h-1.7zM155.1 16.1h1.7v1.8h-1.7zM105.8 20.5h1.7v1.8h-1.7zM150.7 30.8h1.7v1.8h-1.7zM159.4 30.8h1.7v1.8h-1.7zM150.7 32.3h1.7v1.8h-1.7zM76.8 58.7h1.7v1.8h-1.7zM184.1 66.1h1.7v1.8h-1.7z"/>
<path fill="#9287b9" d="M114.5 5.9h1.7v1.8h-1.7zM118.8 5.9h3.2v1.8h-3.2zM165.2 5.9h1.7v1.8h-1.7zM52.2 7.3h1.7v1.8h-1.7zM115.9 7.3h1.7v1.8h-1.7zM147.8 7.3h1.7v1.8h-1.7zM115.9 8.8h1.7v1.8h-1.7zM123.2 8.8h1.7v1.8h-1.7zM134.8 11.7h1.7v1.8h-1.7zM172.5 13.2h1.7v1.8h-1.7zM40.6 14.7h1.7v1.8h-1.7zM134.8 14.7h1.7v1.8h-1.7zM124.6 23.5h1.7v1.8h-1.7zM68.1 57.2h1.7v1.8h-1.7z"/>
<path fill="#8c80b5" d="M7.2 5.9h1.7v1.8h-1.7zM175.4 5.9h1.7v1.8h-1.7zM189.9 5.9h3.2v1.8h-3.2zM207.3 5.9h1.7v1.8h-1.7zM117.4 7.3h1.7v1.8h-1.7zM133.3 7.3h1.7v1.8h-1.7zM149.3 10.3h1.7v1.8h-1.7zM124.6 11.7h1.7v1.8h-1.7zM113.0 13.2h1.7v1.8h-1.7zM105.8 14.7h1.7v1.8h-1.7zM130.4 16.1h1.7v1.8h-1.7zM134.8 16.1h1.7v1.8h-1.7zM49.3 19.1h1.7v1.8h-1.7zM153.6 32.3h1.7v1.8h-1.7zM162.3 32.3h1.7v1.8h-1.7zM158.0 36.7h1.7v1.8h-1.7zM59.4 48.4h1.7v1.8h-1.7zM66.7 55.8h1.7v1.8h-1.7zM66.7 57.2h1.7v1.8h-1.7zM75.4 60.2h1.7v1.8h-1.7z"/>
<path fill="#867ab0" d="M133.3 5.9h1.7v1.8h-1.7zM146.4 5.9h1.7v1.8h-1.7zM110.1 7.3h1.7v1.8h-1.7zM143.5 8.8h1.7v1.8h-1.7zM130.4 10.3h1.7v1.8h-1.7zM146.4 10.3h1.7v1.8h-1.7zM181.2 19.1h1.7v1.8h-1.7zM108.7 22.0h1.7v1.8h-1.7zM68.1 55.8h1.7v1.8h-1.7z"/>
<path fill="#8073ac" d="M4.3 8.8h1.7v1.8h-1.7zM39.1 10.3h1.7v1.8h-1.7zM58.0 10.3h1.7v1.8h-1.7zM62.3 10.3h1.7v1.8h-1.7zM42.0 11.7h1.7v1.8h-1.7zM108.7 11.7h1.7v1.8h-1.7zM126.1 11.7h1.7v1.8h-1.7zM108.7 14.7h1.7v1.8h-1.7zM113.0 14.7h1.7v1.8h-1.7zM108.7 16.1h1.7v1.8h-1.7zM163.8 33.8h1.7v1.8h-1.7z"/>
<path fill="#7967a6" d="M62.3 5.9h1.7v1.8h-1.7zM65.2 7.3h1.7v1.8h-1.7zM110.1 13.2h1.7v1.8h-1.7zM162.3 17.6h1.7v1.8h-1.7zM150.7 42.6h1.7v1.8h-1.7zM185.5 61.6h1.7v1.8h-1.7z"/>
<path fill="#745ea2" d="M115.9 5.9h3.2v1.8h-3.2zM118.8 7.3h1.7v1.8h-1.7zM200.0 7.3h1.7v1.8h-1.7zM192.8 8.8h1.7v1.8h-1.7zM7.2 10.3h1.7v1.8h-1.7zM126.1 10.3h1.7v1.8h-1.7zM171.0 10.3h1.7v1.8h-1.7zM129.0 13.2h1.7v1.8h-1.7zM104.3 14.7h1.7v1.8h-1.7zM40.6 16.1h1.7v1.8h-1.7zM178.3 23.5h1.7v1.8h-1.7z"/>
<path fill="#6f559e" d="M107.2 11.7h1.7v1.8h-1.7zM110.1 11.7h1.7v1.8h-1.7zM108.7 13.2h1.7v1.8h-1.7zM166.7 13.2h1.7v1.8h-1.7zM104.3 16.1h4.6v1.8h-4.6zM171.0 16.1h1.7v1.8h-1.7zM58.0 44.0h1.7v1.8h-1.7z"/>
<path fill="#6a4c9a" d="M114.5 11.7h1.7v1.8h-1.7zM107.2 14.7h1.7v1.8h-1.7zM113.0 16.1h3.2v1.8h-3.2z"/>
<path fill="#644395" d="M127.5 7.3h1.7v1.8h-1.7zM153.6 11.7h1.7v1.8h-1.7zM133.3 16.1h1.7v1.8h-1.7zM111.6 20.5h1.7v1.8h-1.7z"/>
<path fill="#5d3790" d="M136.2 11.7h1.7v1.8h-1.7zM197.1 13.2h1.7v1.8h-1.7zM114.5 14.7h1.7v1.8h-1.7z"/>
<path fill="#582e8c" d="M36.2 13.2h1.7v1.8h-1.7z"/>
<path fill="#532687" d="M7.2 7.3h1.7v1.8h-1.7z"/>
<path fill="#44176f" d="M121.7 8.8h1.7v1.8h-1.7z"/>
<path fill="#3f1268" d="M111.6 13.2h1.7v1.8h-1.7z"/>
<path fill="#3b0e61" d="M113.0 11.7h1.7v1.8h-1.7z"/>
</g></g>
<use href="#water" fill="#cccccc"/>
<use href="#land" fill="none" stroke="#000" stroke-width="0.85" stroke-linejoin="round"/>
<use href="#water" fill="none" stroke="#000" stroke-width="0.85" stroke-linejoin="round"/>
<use href="#arctic" fill="none" stroke="#000" stroke-width="0.9" stroke-linejoin="round"/>
</g>
<rect x="0" y="0" width="208.7" height="82.2" fill="none" stroke="#5a5a5a" stroke-width="0.9"/>
</g>
<path d="M152.6 171.7h-2.3M152.6 207.0h-2.3M152.6 242.2h-2.3M152.6 242.2v2.3M204.8 242.2v2.3M256.9 242.2v2.3M309.1 242.2v2.3M361.3 242.2v2.3" stroke="#5a5a5a" stroke-width="0.7"/>
<text x="149.0" y="174.5" font-size="7.6" text-anchor="end" fill="#1a1a1a">60°N</text>
<text x="149.0" y="209.7" font-size="7.6" text-anchor="end" fill="#1a1a1a">0°</text>
<text x="149.0" y="244.9" font-size="7.6" text-anchor="end" fill="#1a1a1a">60°S</text>
<text x="152.6" y="253.3" font-size="7.6" text-anchor="middle" fill="#1a1a1a">180°</text>
<text x="204.8" y="253.3" font-size="7.6" text-anchor="middle" fill="#1a1a1a">90°W</text>
<text x="256.9" y="253.3" font-size="7.6" text-anchor="middle" fill="#1a1a1a">0°W</text>
<text x="309.1" y="253.3" font-size="7.6" text-anchor="middle" fill="#1a1a1a">90°E</text>
<text x="361.3" y="253.3" font-size="7.6" text-anchor="middle" fill="#1a1a1a">180°</text>
<text x="256.9" y="156.2" font-size="9.1" font-weight="bold" text-anchor="middle" fill="#000">(c)</text>
<rect x="27.6" y="114.4" width="199.5" height="9.0" fill="url(#ga)"/>
<path d="M226.5 114.4L227.1 114.4L236.0 118.90L227.1 123.4L226.5 123.4Z" fill="#6abdb2"/>
<path d="M27.6 114.40L227.1 114.40L236.0 118.90L227.1 123.40L27.6 123.40Z" fill="none" stroke="#5a5a5a" stroke-width="0.7"/>
<text x="55.0" y="134.8" font-size="8.9" text-anchor="middle" fill="#1a1a1a">−1.0</text>
<text x="109.7" y="134.8" font-size="8.9" text-anchor="middle" fill="#1a1a1a">−0.5</text>
<text x="164.5" y="134.8" font-size="8.9" text-anchor="middle" fill="#1a1a1a">0.0</text>
<text x="219.2" y="134.8" font-size="8.9" text-anchor="middle" fill="#1a1a1a">0.5</text>
<path d="M55.0 123.4v2.3M109.7 123.4v2.3M164.5 123.4v2.3M219.2 123.4v2.3" stroke="#5a5a5a" stroke-width="0.7"/>
<text x="127.3" y="146.0" font-size="8.3" text-anchor="middle" fill="#1a1a1a">VOD sensitivity</text>
<rect x="286.9" y="114.4" width="189.5" height="9.0" fill="url(#gb)"/>
<path d="M475.8 114.4L476.4 114.4L486.2 118.90L476.4 123.4L475.8 123.4Z" fill="#a50026"/>
<path d="M287.5 114.4L286.9 114.4L277.6 118.90L286.9 123.4L287.5 123.4Z" fill="#e5f5ef"/>
<path d="M286.9 114.40L476.4 114.40L486.2 118.90L476.4 123.40L286.9 123.40L277.6 118.90Z" fill="none" stroke="#5a5a5a" stroke-width="0.7"/>
<text x="286.9" y="134.8" font-size="8.9" text-anchor="middle" fill="#1a1a1a">−0.2</text>
<text x="314.0" y="134.8" font-size="8.9" text-anchor="middle" fill="#1a1a1a">0.0</text>
<text x="341.0" y="134.8" font-size="8.9" text-anchor="middle" fill="#1a1a1a">0.2</text>
<text x="368.1" y="134.8" font-size="8.9" text-anchor="middle" fill="#1a1a1a">0.4</text>
<text x="395.2" y="134.8" font-size="8.9" text-anchor="middle" fill="#1a1a1a">0.6</text>
<text x="422.3" y="134.8" font-size="8.9" text-anchor="middle" fill="#1a1a1a">0.8</text>
<text x="449.3" y="134.8" font-size="8.9" text-anchor="middle" fill="#1a1a1a">1.0</text>
<text x="476.4" y="134.8" font-size="8.9" text-anchor="middle" fill="#1a1a1a">1.2</text>
<path d="M286.9 123.4v2.3M314.0 123.4v2.3M341.0 123.4v2.3M368.1 123.4v2.3M395.2 123.4v2.3M422.3 123.4v2.3M449.3 123.4v2.3M476.4 123.4v2.3" stroke="#5a5a5a" stroke-width="0.7"/>
<text x="381.6" y="146.0" font-size="8.3" text-anchor="middle" fill="#1a1a1a">T2m sensitivity</text>
<rect x="161.9" y="259.1" width="190.0" height="9.0" fill="url(#gc)"/>
<path d="M351.3 259.1L351.9 259.1L361.3 263.60L351.9 268.1L351.3 268.1Z" fill="#2d004b"/>
<path d="M162.5 259.1L161.9 259.1L152.7 263.60L161.9 268.1L162.5 268.1Z" fill="#fdcc8c"/>
<path d="M161.9 259.10L351.9 259.10L361.3 263.60L351.9 268.10L161.9 268.10L152.7 263.60Z" fill="none" stroke="#5a5a5a" stroke-width="0.7"/>
<text x="176.5" y="279.5" font-size="8.9" text-anchor="middle" fill="#1a1a1a">−0.2</text>
<text x="205.7" y="279.5" font-size="8.9" text-anchor="middle" fill="#1a1a1a">0.0</text>
<text x="235.0" y="279.5" font-size="8.9" text-anchor="middle" fill="#1a1a1a">0.2</text>
<text x="264.2" y="279.5" font-size="8.9" text-anchor="middle" fill="#1a1a1a">0.4</text>
<text x="293.4" y="279.5" font-size="8.9" text-anchor="middle" fill="#1a1a1a">0.6</text>
<text x="322.7" y="279.5" font-size="8.9" text-anchor="middle" fill="#1a1a1a">0.8</text>
<text x="351.9" y="279.5" font-size="8.9" text-anchor="middle" fill="#1a1a1a">1.0</text>
<path d="M176.5 268.1v2.3M205.7 268.1v2.3M235.0 268.1v2.3M264.2 268.1v2.3M293.4 268.1v2.3M322.7 268.1v2.3M351.9 268.1v2.3" stroke="#5a5a5a" stroke-width="0.7"/>
<text x="256.9" y="290.0" font-size="8.3" text-anchor="middle" fill="#1a1a1a">LHF<tspan font-size="5.8" dy="1.5">max</tspan><tspan dy="-1.5"> sensitivity</tspan></text>
</svg></body></html>
